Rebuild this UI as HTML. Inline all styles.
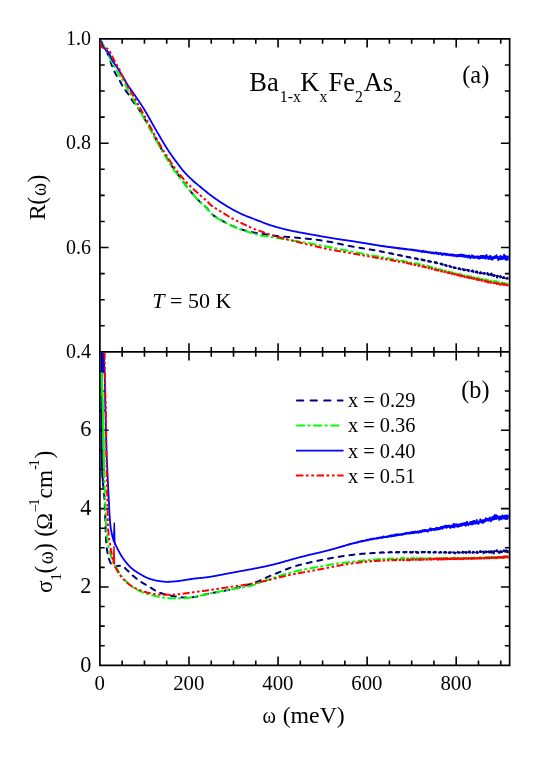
<!DOCTYPE html>
<html><head><meta charset="utf-8"><title>Optical spectra</title>
<style>html,body{margin:0;padding:0;background:#fff;}body{width:554px;height:783px;position:relative;overflow:hidden;font-family:"Liberation Serif",serif;}</style></head>
<body>
<svg width="554" height="783" viewBox="0 0 554 783" style="display:block;position:absolute;left:0;top:0;will-change:transform;opacity:0.999">
<rect width="554" height="783" fill="#fff"/>
<defs>
<clipPath id="ct"><rect x="100.75" y="39.7" width="408.05" height="311.34999999999997"/></clipPath>
<clipPath id="cb"><rect x="100.75" y="352.75" width="408.05" height="311.7"/></clipPath>
</defs>
<path d="M99.9,38.85 H509.65 V665.3 H99.9 Z M99.9,351.9 H509.65" fill="none" stroke="#000" stroke-width="1.7" stroke-linejoin="miter"/>
<path d="M122.17,38.85 v4.8 M122.17,347.09999999999997 v9.6 M122.17,665.3 v-4.8 M144.44,38.85 v4.8 M144.44,347.09999999999997 v9.6 M144.44,665.3 v-4.8 M166.71,38.85 v4.8 M166.71,347.09999999999997 v9.6 M166.71,665.3 v-4.8 M188.98,38.85 v8.7 M188.98,343.2 v17.4 M188.98,665.3 v-8.7 M211.25,38.85 v4.8 M211.25,347.09999999999997 v9.6 M211.25,665.3 v-4.8 M233.51,38.85 v4.8 M233.51,347.09999999999997 v9.6 M233.51,665.3 v-4.8 M255.78,38.85 v4.8 M255.78,347.09999999999997 v9.6 M255.78,665.3 v-4.8 M278.05,38.85 v8.7 M278.05,343.2 v17.4 M278.05,665.3 v-8.7 M300.32,38.85 v4.8 M300.32,347.09999999999997 v9.6 M300.32,665.3 v-4.8 M322.59,38.85 v4.8 M322.59,347.09999999999997 v9.6 M322.59,665.3 v-4.8 M344.86,38.85 v4.8 M344.86,347.09999999999997 v9.6 M344.86,665.3 v-4.8 M367.13,38.85 v8.7 M367.13,343.2 v17.4 M367.13,665.3 v-8.7 M389.40,38.85 v4.8 M389.40,347.09999999999997 v9.6 M389.40,665.3 v-4.8 M411.67,38.85 v4.8 M411.67,347.09999999999997 v9.6 M411.67,665.3 v-4.8 M433.94,38.85 v4.8 M433.94,347.09999999999997 v9.6 M433.94,665.3 v-4.8 M456.20,38.85 v8.7 M456.20,343.2 v17.4 M456.20,665.3 v-8.7 M478.47,38.85 v4.8 M478.47,347.09999999999997 v9.6 M478.47,665.3 v-4.8 M500.74,38.85 v4.8 M500.74,347.09999999999997 v9.6 M500.74,665.3 v-4.8 M99.9,64.94 h4.8 M509.65,64.94 h-4.8 M99.9,91.02 h4.8 M509.65,91.02 h-4.8 M99.9,117.11 h4.8 M509.65,117.11 h-4.8 M99.9,143.20 h8.7 M509.65,143.20 h-8.7 M99.9,169.29 h4.8 M509.65,169.29 h-4.8 M99.9,195.37 h4.8 M509.65,195.37 h-4.8 M99.9,221.46 h4.8 M509.65,221.46 h-4.8 M99.9,247.55 h8.7 M509.65,247.55 h-8.7 M99.9,273.64 h4.8 M509.65,273.64 h-4.8 M99.9,299.72 h4.8 M509.65,299.72 h-4.8 M99.9,325.81 h4.8 M509.65,325.81 h-4.8 M99.9,371.49 h4.8 M509.65,371.49 h-4.8 M99.9,391.07 h4.8 M509.65,391.07 h-4.8 M99.9,410.66 h4.8 M509.65,410.66 h-4.8 M99.9,430.25 h8.7 M509.65,430.25 h-8.7 M99.9,449.84 h4.8 M509.65,449.84 h-4.8 M99.9,469.42 h4.8 M509.65,469.42 h-4.8 M99.9,489.01 h4.8 M509.65,489.01 h-4.8 M99.9,508.60 h8.7 M509.65,508.60 h-8.7 M99.9,528.19 h4.8 M509.65,528.19 h-4.8 M99.9,547.77 h4.8 M509.65,547.77 h-4.8 M99.9,567.36 h4.8 M509.65,567.36 h-4.8 M99.9,586.95 h8.7 M509.65,586.95 h-8.7 M99.9,606.54 h4.8 M509.65,606.54 h-4.8 M99.9,626.12 h4.8 M509.65,626.12 h-4.8 M99.9,645.71 h4.8 M509.65,645.71 h-4.8" fill="none" stroke="#000" stroke-width="1.6" stroke-linecap="butt"/>
<g clip-path="url(#ct)">
<path d="M101.30,41.80l.33 .67 .34 .67 .37 .65 .4 .64 .4 .63 .4 .64 .4 .64 .36 .65 .35 .66 .35 .67 .33 .67 .33 .68 .32 .67 .33 .68 .33 .67 .33 .67 .34 .68 .33 .67 .32 .68 .31 .68 .3 .69 .29 .69 .29 .69 .27 .7 .27 .7 .26 .71 .24 .71 .21 .72 .19 .72 .19 .73 .2 .72 .24 .71 .24 .71 .24 .71 .26 .71 .26 .7 .27 .7 .28 .7 .28 .7 .29 .69 .29 .69 .31 .69 .31 .67 .32 .68 .35 .66 .35 .67 .37 .65 .37 .66 .37 .65 .38 .64 .4 .64 .41 .63 .41 .63 .41 .63 .4 .63 .4 .64 .37 .65 .36 .66 .35 .66 .33 .67 .34 .67 .34 .68 .35 .66 .35 .66 .38 .65 .39 .63 .4 .64 .41 .62 .42 .62 .43 .62 .43 .62 .43 .61 .43 .62 .43 .61 .44 .61 .45 .6 .45 .6 .46 .6 .45 .6 .44 .61 .43 .61 .41 .63 .39 .63 .39 .65 .37 .65 .37 .65 .38 .65 .39 .64 .41 .63 .43 .61 .43 .61 .45 .6 .45 .6 .45 .6 .46 .6 .46 .59 .46 .6 .45 .6 .45 .6 .44 .61 .43 .61 .43 .61 .43 .62 .42 .62 .42 .62 .42 .63 .41 .62 .41 .63 .4 .64 .39 .64 .39 .64 .38 .64 .38 .65 .37 .65 .37 .65 .37 .65 .37 .66 .37 .65 .37 .66 .36 .65 .37 .65 .37 .66 .37 .65 .37 .65 .37 .65 .37 .66 .37 .65 .37 .65 .37 .66 .37 .65 .36 .65 .37 .66 .36 .66 .36 .65 .36 .66 .36 .66 .36 .66 .35 .66 .36 .66 .35 .66 .36 .66 .36 .66 .36 .66 .36 .66 .36 .65 .36 .66 .36 .66 .36 .66 .37 .65 .36 .66 .37 .65 .36 .66 .37 .65 .37 .66 .36 .65 .37 .65 .37 .66 .37 .65 .37 .65 .37 .65 .37 .66 .37 .65 .38 .65 .37 .65 .38 .64 .38 .65 .38 .65 .38 .64 .39 .65 .38 .64 .39 .64 .38 .65 .39 .64 .39 .64 .39 .64 .39 .64 .39 .64 .39 .64 .39 .64 .39 .64 .4 .64 .39 .64 .39 .64 .4 .64 .4 .63 .4 .64 .4 .63 .4 .63 .41 .63 .41 .63 .41 .63 .42 .62 .42 .62 .42 .62 .42 .62 .43 .62 .43 .62 .43 .61 .43 .61 .45 .6 .45 .6 .45 .6 .46 .6 .45 .6 .45 .59 .45 .6 .46 .6 .45 .6 .45 .6 .44 .6 .45 .61 .44 .61 .44 .6 .43 .61 .44 .62 .43 .61 .44 .61 .44 .6 .44 .61 .45 .6 .44 .61 .45 .6 .44 .6 .45 .61 .45 .6 .45 .59 .46 .6 .46 .59 .46 .59 .46 .59 .47 .59 .47 .58 .48 .58 .47 .58 .48 .58 .48 .58 .49 .57 .49 .57 .48 .57 .5 .56 .49 .57 .5 .56 .5 .56 .5 .56 .51 .55 .51 .55 .51 .55 .52 .53 .53 .54 .53 .53 .53 .53 .54 .52 .54 .52 .54 .52 .55 .51 .55 .51 .56 .5 .57 .49 .58 .49 .57 .48 .57 .49 .56 .5 .54 .52 .52 .53 .49 .56 .47 .59 .46 .6 .45 .61 .45 .61 .45 .6 .47 .59 .49 .55 .52 .53 .54 .51 .56 .49 .58 .49 .58 .48 .6 .46 .61 .45 .61 .44 .62 .43 .61 .43 .63 .4 .63 .4 .64 .38 .66 .38 .65 .37 .66 .36 .66 .36 .66 .36 .66 .36 .66 .36 .66 .36 .66 .36 .66 .35 .66 .36 .67 .35 .66 .35 .67 .35 .67 .34 .67 .34 .67 .33 .67 .33 .68 .32 .68 .31 .68 .3 .69 .3 .69 .29 .69 .29 .69 .29 .7 .28 .7 .28 .7 .27 .7 .27 .71 .26 .71 .26 .7 .25 .72 .24 .71 .24 .71 .23 .72 .22 .71 .21 .72 .2 .72 .2 .72 .2 .73 .19 .73 .19 .72 .18 .73 .18 .74 .17 .73 .17 .73 .17 .74 .16 .73 .15 .74 .15 .73 .14 .74 .14 .74 .14 .73 .13 .74 .12 .74 .13 .74 .11 .74 .12 .74 .11 .75 .11 .74 .11 .74 .11 .75 .11 .74 .1 .74 .11 .75 .11 .74 .11 .74 .11 .74 .11 .74 .11 .74 .12 .75 .11 .74 .12 .74 .11 .74 .12 .74 .11 .75 .11 .74 .11 .74 .1 .74 .1 .75 .1 .74 .09 .75 .09 .74 .08 .75 .08 .74 .07 .75 .07 .74 .06 .75 .06 .75 .06 .75 .06 .75 .05 .74 .06 .75 .05 .75 .05 .75 .06 .75 .05 .75 .06 .74 .06 .75 .05 .75 .07 .75 .06 .74 .07 .75 .06 .75 .07 .75 .07 .74 .07 .75 .07 .75 .07 .74 .08 .75 .07 .75 .07 .74 .07 .75 .08 .74 .07 .75 .08 .75 .07 .74 .07 .75 .08 .75 .07 .74 .07 .75 .07 .75 .07 .74 .07 .75 .07 .75 .08 .75 .07 .74 .07 .75 .08 .74 .07 .75 .08 .75 .09 .74 .08 .75 .09 .74 .09 .74 .09 .75 .1 .74 .1 .74 .1 .74 .11 .75 .11 .74 .12 .74 .11 .74 .12 .74 .12 .74 .13 .74 .12 .74 .13 .74 .13 .74 .13 .74 .13 .73 .13 .74 .14 .74 .14 .73 .14 .74 .14 .73 .15 .74 .15 .73 .15 .74 .16 .73 .15 .73 .16 .74 .16 .73 .16 .73 .16 .74 .16 .73 .17 .18 .04 .1 .02 .1 .02 .1 .02 .1 .02 .1 .03 .1 .02 .1 .02 .1 .02 .1 .02 .1 .03 .1 .02 .1 .02 .1 .02 .1 .03 .1 .02 .1 .02 .1 .02 .1 .02 .1 .03 .1 .02 .1 .02 .1 .02 .1 .02 .1 .03 .1 .02 .1 .02 .1 .02 .1 .03 .1 .02 .1 .02 .1 .03 .1 .01 .1 .02 .1 .03 .1 .02 .1 .03 .1 .01 .1 .02 .1 .03 .1 .02 .1 .02 .1 .02 .1 .02 .1 .02 .1 .02 .1 .03 .1 .02 .1 .02 .1 .03 .1 .02 .1 .01 .1 .02 .1 .02 .1 .02 .1 .04 .1 .01 .1 .03 .1 .02 .1 .01 .1 .03 .1 .02 .1 .01 .1 .04 .1 .02 .1 .02 .1 .03 .1 .01 .1 .03 .1 .02 .1 .02 .1 .02 .1 .01 .1 .02 .1 .01 .1 .03 .1 .02 .1 .03 .1 .02 .1 .03 .1 .02 .1 .01 .1 .02 .1 .02 .1 .01 .1 .02 .1 .03 .1 .01 .1 .03 .1 .03 .1 .01 .1 .02 .1 .01 .1 .03 .1 .01 .1 .01 .1 .04 .1 .01 .1 .01 .1 .03 .1 .02 .1 .01 .1 .03 .1 .03 .1 .02 .1 .02 .1 .02 .1 .01 .1-.01 .1 .03 .1 .03 .1-.01 .1 .05 .1 .01 .1 0 .1 .02 .1 .01 .1 .03 .1 .03 .1 .02 .1 .01 .1 .03 .1 .01 .1 .03 .1 .01 .1 .01 .1 .02 .1 .03 .1 .01 .1 .03 .1 .02 .1 .01 .1 0 .1 .02 .1 .04 .1 0 .1 .04 .1 .01 .1 .03 .1 0 .1 .02 .1-.01 .1 .04 .1 .02 .1 .01 .1 .01 .1 .03 .1 .02 .1 .01 .1 .03 .1-0 .1 .05 .1-.01 .1 .02 .1 .03 .1-.01 .1 0 .1 .03 .1 .01 .1 .02 .1 .02 .1 .02 .1 .02 .1 .01 .1 .05 .1-.01 .1 .04 .1-0 .1 .05 .1 0 .1 .04 .1 .02 .1-0 .1-.01 .1 .02 .1 .02 .1 .03 .1 0 .1 .03 .1 .02 .1-0 .1 .03 .1 .01 .1 .03 .1 .01 .1 .01 .1-.01 .1 .04 .1 .01 .1 0 .1 .02 .1 0 .1 .03 .1 .03 .1 .02 .1 .02 .1 .05 .1 .02 .1-.02 .1 .03 .1-.01 .1 .03 .1 .02 .1 .03 .1 0 .1 0 .1 .05 .1 .03 .1-.01 .1 .02 .1 0 .1 .02 .1 .01 .1 0 .1 .04 .1 .05 .1-.02 .1 0 .1 .09 .1-0 .1 0 .1 .02 .1 0 .1 .05 .1 .01 .1-.01 .1 .01 .1 0 .1 .03 .1-.01 .1 .04 .1-.02 .1 .02 .1 .02 .1 .02 .1 .03 .1 .04 .1 .02 .1-.01 .1 .06 .1-0 .1 .04 .1-.01 .1 .01 .1 .04 .1 .01 .1-.01 .1 .03 .1 .01 .1 .02 .1-.01 .1 .02 .1 .03 .1 .02 .1-.01 .1-.01 .1 .07 .1-0 .1 .01 .1 .07 .1 .02 .1 .02 .1 .01 .1 .02 .1-.01 .1 .03 .1 .01 .1 .01 .1 .01 .1-.02 .1 .02 .1 .01 .1 .01 .1 0 .1-0 .1 .03 .1 .05 .1 .01 .1 .04 .1-.03 .1 .06 .1 .05 .1-.03 .1 .03 .1-.01 .1 .06 .1-.02 .1-.02 .1 .05 .1 .02 .1 .05 .1 .03 .1 .01 .1 0 .1 .02 .1 .01 .1 .02 .1-.04 .1 .07 .1 .01 .1 .03 .1 .01 .1 .02 .1 .03 .1 .01 .1 .01 .1-.01 .1 .02 .1 .03 .1-0 .1 .05 .1 .02 .1 0 .1 .03 .1 .06 .1 0 .1 .08 .1-.02 .1-.03 .1 .02 .1 .01 .1 .03 .1 .04 .1 .03 .1-.01 .1 .04 .1 0 .1 .04 .1-.07 .1 .07 .1-.01 .1-.02 .1 .05 .1-.01 .1 .06 .1 .1 .1-.02 .1 .03 .1-.03 .1-.07 .1 .04 .1-.02 .1 .05 .1 0 .1 .02 .1 .14 .1 .01 .1-0 .1-0 .1 .03 .1-.01 .1 .06 .1-.01 .1-0 .1-.01 .1 .03 .1 .04 .1 .02 .1 .07 .1 .01 .1 0 .1-.01 .1 .07 .1 .01 .1-.01 .1-.07 .1 .04 .1 .04 .1-.02 .1 .07 .1-.01 .1 .08 .1 .03 .1-.06 .1 .07 .1 .01 .1 0 .1 .01 .1 .09 .1-.02 .1 .05 .1-.04 .1-0 .1 .07 .1 .05 .1-.01 .1 .06 .1 .04 .1-.01 .1 .05 .1 .01 .1 .07 .1 .03 .1-.03 .1-.02 .1 0 .1 .03 .1 .06 .1-.04 .1 .09 .1-.06 .1 .06 .1 .07 .1 .04 .1-.05 .1 .03 .1 .06 .1-.05 .1-.11 .1 .1 .1 .12 .1-.06 .1 .12 .1-.05 .1 .12 .1-.09 .1 .05 .1 0 .1-.11 .1 .08 .1 .1 .1-.03 .1 .09 .1-.03 .1 .08 .1-.06 .1-.01 .1 .07 .1 .04 .1-.03 .1 .04 .1 .03 .1-.01 .1 0 .1 .09 .1-.01 .1 0 .1 .13 .1 .03 .1 .03 .1 .02 .1 .02 .1 .04 .1 0 .1-.04 .1 .01 .1 .05 .1-0 .1 .02 .1-.06 .1 .1 .1 .05 .1-0 .1-.01 .1 .05 .1-.08 .1 .04 .1 .11 .1-.13 .1 .05 .1 .11 .1-.02 .1 .03 .1 .01 .1 .12 .1-.08 .1 .03 .1-.04 .1 .13 .1 .01 .1 .05 .1 .08 .1-.04 .1-.06 .1 .01 .1 .03 .1 .05 .1-.07 .1 .07 .1 .04 .1 .06 .1-.03 .1 .06 .1 .03 .1-.02 .1 .01 .1 .05 .1 .03 .1 .04 .1-.07 .1 .13 .1-.02 .1-0 .1 .06 .1 .01 .1 .06 .1 .06 .1-.12 .1 .06 .1 .1 .1-.02 .1 .07 .1-.06 .1 .08 .1-.08 .1 .1 .1 .1 .1 .05 .1 .04 .1-.05 .1-.01 .1 .04 .1-.05 .1 .13 .1-.02 .1-.11 .1 .11 .1-.12 .1 .13 .1-.02 .1 .01 .1 .14 .1-.08 .1 .09 .1-.1 .1 .03 .1-.01 .1 .07 .1 .01 .1 .11 .1 .04 .1 .03 .1 .04 .1 .14 .1-.07 .1 .03 .1 .05 .1-.05 .1-.08 .1 .05 .1 .01 .1-.01 .1 .07 .1-.04 .1 .06 .1-.01 .1 .16 .1-.06 .1 .06 .1 .01 .1 .04 .1-.02 .1 .06 .1-.01 .1-.1 .1 .15 .1-.05 .1 .12 .1-.02 .1-.02 .1-.1 .1 .03 .1 .07 .1 .09 .1 0 .1 .21 .1-.02 .1-.01 .1-.03 .1 .05 .1 .03 .1-0 .1 .02 .1 .05 .1-.13 .1 .1 .1 .08 .1-.1 .1 .09 .1 .02 .1-.01 .1 .13 .1-.04 .1 .1 .1-.01 .1-.01 .1 .06 .1-.01 .1-.04 .1 .18 .1-.05 .1 .05 .1-.14 .1 .16 .1 .01 .1-.02 .1-.08 .1 .14 .1-.02 .1 .03 .1 .01 .1-.04 .1 .04 .1 .02 .1 .08 .1-.08 .1 .14 .1-.17 .1 .08 .1 .11 .1-.12 .1 .15 .1 .03 .1-.01 .1 .07 .1 .14 .1-.07 .1 .06 .1 .02 .1 .07 .1-.17 .1 .04 .1 .02 .1 .06 .1 .06 .1 .01 .1-.05 .1 .11 .1-.09 .1 .06 .1-.05 .1 .13 .1-.06 .1 .15 .1 .02 .1 .1 .1-.08 .1-0 .1 .16 .1-.02 .1-.03 .1-.03 .1 .14 .1-.17 .1 .07 .1 .08 .1-.1 .1 .02 .1 .04 .1 .03 .1 .06 .1 .01 .1-.05 .1-.06 .1 .05 .1-.03 .1 .06 .1 .08 .1-0 .1-.07 .1 .08 .1 .03 .1 .01 .1 .16 .1 0 .1 .03 .1-.08 .1-.07 .1 .13 .1 .14 .1-.06 .1 .05 .1 .03 .1 .08 .1 .01 .1 .14 .1-.09 .1 .01 .1 .14 .1-.03 .1 .01 .1 0 .1-.02 .1 .03 .1 .05 .1-0 .1-.1 .1 .24 .1-.11 .1-.03 .1-0 .1-.05 .1-.03 .1 .06 .1 .07 .1-.07 .1 .06 .1-.09 .1 .2 .1-.08 .1 .18 .1-.04 .1 .08 .1 .02 .1 .07 .1 .13 .1-.03 .1 .02 .1 .07 .1-.17 .1 0 .1 .01 .1-.05 .1 .02 .1 .01 .1 .07 .1-.07 .1 .09 .1 .05 .1 .15 .1-.11 .1 .13 .1 .09 .1 .03 .1-.08 .1-.06 .1-.1 .1 .06 .1-.01 .1-.03 .1 .23 .1 .01 .1 .04 .1-0 .1 .06 .1-.07 .1 .05 .1-.09 .1 .18 .1-.14 .1 .11 .1 .28 .1-.02 .1 .05 .1-.17 .1 .12 .1 .03 .1 0 .1-.07 .1 .13 .1-.07 .1-.09 .1 .34 .1-.11 .1 .14 .1-.08 .1-.06 .1 .1 .1-.04 .1-.16 .1 .06 .1-.11 .1-.04 .1 .26 .1-.16 .1 .23 .1 .1 .1 .03 .1 .18 .1-.08 .1-.05 .1-.07 .1-.01 .1-.06 .1-0 .1 .16 .1 .08 .1 .35 .1-.1 .1-.19 .1 .07 .1-.22 .1 .1 .1 .14 .1-.14 .1 .09 .1-.14 .1 .09 .1 .04 .1-.17 .1 .16 .1 .27 .1-.2 .1 .19 .1 .07 .1-.12 .1 .11 .1-.03 .1-.06 .1 .12 .1 .01 .1-.11 .1 .05 .1-.06 .1 .09 .1 .06 .1-.02 .1-.02 .1 .26 .1 .11 .1-.26 .1 .02 .1-.14 .1-.24 .1 .4 .1-.08 .1-.08 .1 .3 .1 .02 .1 .09 .1-.03 .1 .01 .1 .1 .1-.09 .1 .12 .1-.04 .1 .08 .1 .19 .1-.08 .1-.24 .1 .08 .1-.03 .1-.21 .1 .15 .1 .25 .1-.16 .1 .19 .1 .02 .1-.06 .1-0 .1 .03 .1-.01 .1 .02 .1-.11 .1 .19 .1-.06 .1 .26 .1 .13 .1-.04 .1-.24 .1 .32 .1-.07 .1-.09 .1 0 .1 .22 .1-.1 .1 .1 .1 .06 .1 .14 .1-.33 .1 .32 .1-.23 .1 0 .1 .06 .1 .02 .1-.2 .1 .31 .1-.02 .1-.03 .1 .08 .1-.04 .1 .27 .1 .11 .1-.18 .1 .02 .1-.08 .1 .09 .1-.03 .1 .08 .1 .14 .1-.08 .1-.02 .1-.12 .1 .24 .1-.09 .1 .05 .1 .17 .1-.12 .1 .2 .1-.26 .1-.09 .1 .21 .1-.08 .1 .28 .1 .19 .1-.13 .1-.06 .1 .12 .1-.24 .1 .11 .1-.07 .1 .09 .1-.1 .1 .15 .1 .02 .1 .15 .1-.17 .1 .11 .1-.19 .1 .14 .1 .14 .1-.12 .1 .17 .1-.04 .1 .19 .1 .06 .1-.06 .1 .17 .1-.16 .1 .03 .1-0 .1-.04 .1-.01 .1 .13 .1-.24 .1 .07 .1-.17 .1 .35 .1-.17 .1 .11 .1 .07 .1 .11 .1-.1 .1-.03 .1 .01 .1-.08 .1 .03 .1-.12 .1 .04 .1-.08 .1 .28 .1 .12 .1 .08 .1 .08 .1 0 .1 .11 .1-.26 .1-.13 .1 .13 .1 .33 .1-.06 .1 .23 .1-.19 .1 .28 .1 .01 .1-.13 .1-.14 .1 .03 .1-.23 .1 .21 .1-.4 .1 0 .1 .04 .1 .05 .1 .45 .1 .01 .1-.02 .1 .37 .1-.02 .1-.19 .1 .25 .1-.02 .1-.13 .1 .07 .1 .19 .1 .18 .1 .09 .1-.03 .1-.27 .1-.18 .1-.01 .1 .42 .1-.04 .1 .03 .1-.14 .1 .04 .1 .08 .1 .04 .1-.02 .1-.1 .1-.07 .1 .18 .1-.05 .1 .19 .1-.32 .1-.08 .1 .05 .1 .3 .1 .27 .1-.31 .1-.08 .1 .11 .1 .12 .1-.03 .1 .08 .1 .11 .1-.06 .1 .16 .1 .01 .1 .16 .1-.58 .1 .19 .1 .13 .1-.04 .1 .06 .1 .02 .1-.06 .1 .28 .1 .19 .1-.15 .1 .19 .1 .15 .1-.21 .1 .11 .1-.13 .1 .45 .1-.04 .1-.34 .1 .26 .1-.23 .1-.34 .1 .5 .1 .13 .1 .21 .1 .19 .1-.26 .1 .14 .1-.21 .1 .14 .1-.3 .1-.26 .1 .75 .1-.11 .1-.26 .1 .22 .1 0 .1 .3 .1-.2 .1 .28 .1-.26 .1 .22 .1-.25 .1-.1 .1 .3 .1-.1 .1 .14 .1-.31 .1 .16 .1 .22 .1 .47 .1-.14 .1-.22 .1-.24 .1 .77 .1-.26 .1-.27 .1 .35 .1-.01 .1 .21 .1-.31 .1-.1 .1 .12 .1-.43 .1 .05 .1-.17 .1 .06 .1-.03 .1 .05 .1 .14 .1 .33 .1 .07 .1 .11 .1 .21 .1 .18 .1 .01 .1 .24 .1-.32 .1-.01 .1-.17 .1 .23 .1 .03 .1-.77 .1 .6 .1-.32 .1 .29 .1-0 .1-.19 .1 .03 .1 .23 .1 .54 .1-.61 .1 .18 .1 .09 .1 .08 .1 .32 .1 .25 .1-.29 .1 .1 .1-.12 .1 .34 .1-.27 .1 .16 .1-.09 .1 .29 .1-.15 .1-.07 .1 .41 .1-.76 .1 .3 .1-.17 .1-.07 .1 .66 .1-.18 .1-.01 .1 .05 .1 .16 .1-.12 .1-.1 .1-.14 .1 .38 .1-.2 .1-.03 .1-.16 .1 .12 .1 .42 .1-.12 .1 .4 .1 0 .1 .13 .1-.08 .1-.22 .1-.04 .1-.03 .1 .14 .1 .34 .1-.27 .1-.4 .1 .68 .1-.42 .1-.09 .1 .17 .1-.01 .1 .07 .1-.04 .1 .02 .1 .25 .1 .16 .1-.16 .1 .42 .1 .02 .1 .19 .1-.17 .1 0 .1 .13 .1-.32 .1 .19 .1-.25 .1 .38 .1-.16 .1 .06 .1-.19 .1-.09 .1 .32 .1-.28 .1 .08 .1 .12 .1 .16 .1-.01 .1-.14 .1-.04 .1 .35 .1-.31 .1-.03 .1-.12 .1 .4 .1-.03 .1-.14 .1-.18 .1 .71 .1-.45 .1-.1 .1 .15 .1-.11 .1 .22 .1-.11 .1-.12 .1 .37 .1-.18 .1-.08 .1 .55 .1-.06 .1-.03 .1-.09 .1 .22 .1 .04 .1 .05 .1-.01 .1 .35 .1-.05 .1-.15 .1-.05 .1-.38 .1-.38 .1 .21 .1-.02 .1-.15 .1 .25 .1 .26 .1 .13 .1 .48 .1-.38 .1 .44 .1 0 .1-.36 .1-.08 .1-.22 .1 .3 .1-.22 .1-.31 .1 .15 .1 .33 .1-.14 .1 .23 .1 .06 .1 .33 .1-.22 .1 .33 .1 .07 .1 .06 .1-.31 .1 .15 .1 .48 .1-.56 .1-.08 .1 .14 .1-.26 .1 .05 .1 .06 .1 .01 .1 .23 .1-.45 .1 .19 .1 .11 .1-.1 .1 .22 .1 .35 .1-.61 .1 .12 .1 .14 .1 .06 .1-.04 .1 .16 .1 .23 .1 .11 .1-.56 .1-.44 .1 .71 .1-.35 .1-.13 .1 .35 .1-.21 .1 .01 .1-.09 .1 .41 .1 .04 .1-.3 .1 .11 .1 .42 .1-.36 .1 .12 .1-.03 .1 .16 .1 .33 .1-.02 .1 .34 .1 .07 .1-.4 .1 .19 .1-.22 .1-.56 .1 .29 .1-.22 .1 .05 .1 .35 .1 .24 .1 .09 .1-.28 .1 .08 .1 .51 .1-.81 .1 .3 .1 .04 .1 .35 .1-.14 .1-.04 .1-.02 .1 .42 .1-.16 .1 .06 .1 .1 .1 .12 .1-.12 .1 .06 .1 .12 .1-.39 .1 .02 .1-.01 .1 .06 .1-.07 .1-.23 .1-.12 .1 .13 .1-.04 .1 .27 .1-.09 .1-.16 .1-.28 .1-.01 .1 .41 .1 .21 .1 .06 .1-.03 .1 .28 .1-.43 .1 .78 .1 .18 .1-.27 .1-.07 .1-.18 .1 .16 .1-.48 .1 .16 .1 .3 .1-.31 .1 .5 .1 .05 .1-.09 .1-.08 .1 .5 .1-.47 .1 .15 .1 .14 .1-.18 .1 .23 .1-.2 .1 .12 .1 .01 .1 .22 .1-.22 .1 .27 .1-.03 .1-.52 .1-.16 .1-.01 .1 .08 .1 .3 .1-.17 .1 .37 .1-.08 .1-.68 .1 .24 .1 .02 .1 .5 .1-.02 .1 .2 .1-.22 .1 .79 .1-.76 .1 .18 .1-.29 .1-.06 .1 .23 .1-.23 .1 .37 .1-.01 .1-.08 .1 .23 .1 .2 .1 .1 .1-.4 .1 .4 .1-.04 .1-.38 .1-.1 .1 .26 .1 .08 .1 .08 .1 .49 .1 .09 .1 .25 .1-.53 .1 .25 .1-.73 .1 .24 .1 .46 .1-.67 .1 .12 .1-.11 .1 .16 .1 .16 .1 .12 .1-.39 .1 .12 .1 .27 .1 .2 .1-.18 .1 .52 .1-.64 .1 .24 .1-.53 .1 .07 .1-.23 .1 .66 .1 .03 .1-.15 .1-.08 .1-.43 .1 .12 .1 .51 .1 .19 .1 .02 .1-.26 .1 .02 .1 .35 .1 .44 .1-.34 .1-.18 .1-.01 .1 .13 .1-.02 .1-.37 .1 .76 .1-.22 .1 .08 .1-.24 .1 .33 .1-.06 .1-.45 .1 .38 .1-.38 .1-.24 .1 .69 .1-.41 .1 .19 .1 .03 .1 .34 .1 .06 .1 .25 .1 .05 .1 .26 .1-.32 .1-.02 .1-.05 .1 .02 .1-.05 .1-.22 .1-.42 .1 .24 .1 .5 .1 .04 .1 .17 .1-.07 .1-.33 .1 .18 .1-.35 .1-.79 .1 .55 .1 .13 .1 .08 .1 .56 .1-.05 .1 0 .1-.17 .1 .53 .1-.11 .1 .05 .1-.2 .1 .6 .1-1.13 .1 .44 .1-.12 .1 .04 .1 .02 .1 .08 .1 .03 .1 .11 .1 .28 .1-.22 .1-.08 .1 .03 .1 .24 .1 .21 .1-.3 .1 .61 .1-.51 .1 .19 .1-.91 .1 .71 .1-.08 .1 .54 .1-.02 .1-.1 .1-.18 .1-.51 .1-.41 .1 .28 .1-.61 .1 .48 .1 .12 .1 .35 .1 .44 .1 .26 .1-.56 .1 .38 .1-.78 .1 .32 .1 .16 .1 .58 .1 .35 .1-.81 .1 .65 .1 .43 .1-.43 .1 .45 .1-.12 .1-.22 .1-.44 .1 .23 .1 .62 .1-.74 .1-.13 .1 .1 .1 .39 .1-.31 .1-.35 .1 .34 .1 .46 .1 .23 .1 .06 .1-.33 .1-.05 .1-.45 .1 .13 .1-.15 .1 .41 .1 .23 .1-.03 .1-.29 .1 .42 .1 .09 .1 .08 .1-.98 .1-.12 .1 .34 .1 .41 .1 .1 .1 .2 .1 .08 .1 .34 .1 .15 .1-.03 .1-.18 .1 1.1 .1-1.06 .1 .14 .1-.24 .1-.13 .1-.5 .1 .06 .1 .33 .1-.46 .1 .31 .1 .17 .1 .49 .1-.44 .1 .26 .1-.09 .1-.02 .1-.01 .1-.35 .1 .29 .1-.15 .1 .38 .1 0 .1 .11 .1-.17 .1-.3 .1 .62 .1-.31 .1-.34 .1-.07 .1 .74 .1-.63 .1 .82 .1 .35 .1-.19 .1 .12 .1-.1 .1-.38 .1 .22 .1-.66 .1 .66 .1-.07 .1-.23 .1 .2 .1-.34 .1-.3 .1 1.1 .1-.23 .1-.05 .1 .09 .1 .11 .1 .23 .1-.38 .1 .52 .1 .03 .1 .46 .1-.13 .1 .46 .1-.65 .1 .19 .1-.39 .1 .23 .1-.33 .1 .14 .1-.51 .1-.09 .1 .13 .1-.21 .1 .34 .1 .58 .1-.62 .1 .28 .1 .32 .1 .61 .1 .29 .1-.71 .1-.1 .1 .1 .1-.41 .1-.55 .1 .76 .1-.02 .1 .01 .1 .12 .1-.07 .1-.1 .1 .55 .1-.06 .1 .22 .1-.33 .1 .33 .1-.07 .1-.29 .1 0 .1 .16 .1 .18 .1-.15 .1-.1 .1 .36 .1-.46 .1 .42 .1-.43 .1 .15 .1 .41 .1-1.03 .1 .28 .1 .26 .1 .15 .1-.15 .1 .06 .1 .17 .1-.04 .1 .38 .1-.2 .1 .2 .1 .11 .1 .22 .1-.4 .1 .07 .1 .27 .1-.8 .1 .79 .1-.19 .1 .65 .1-.3 .1-.12 .1 .61 .1-.49 .1-.09" fill="none" stroke="#000080" stroke-width="2.0" stroke-linejoin="round" stroke-linecap="round" stroke-dasharray="5.04 5.84" stroke-dashoffset="0"/>
<path d="M101.30,41.80l.33 .67 .34 .67 .37 .65 .4 .64 .4 .63 .4 .64 .4 .64 .36 .65 .35 .66 .34 .67 .33 .67 .33 .68 .33 .68 .33 .67 .34 .67 .34 .66 .34 .67 .35 .67 .34 .66 .34 .67 .34 .67 .33 .68 .32 .67 .33 .68 .32 .68 .32 .67 .33 .68 .32 .68 .33 .67 .33 .67 .34 .68 .33 .67 .33 .67 .34 .67 .34 .67 .34 .67 .36 .66 .35 .66 .37 .65 .38 .64 .39 .65 .39 .64 .39 .64 .39 .64 .39 .64 .39 .64 .39 .64 .39 .64 .4 .64 .4 .63 .4 .64 .41 .62 .42 .62 .43 .62 .43 .62 .42 .62 .42 .62 .4 .63 .4 .64 .4 .63 .39 .64 .38 .65 .39 .64 .37 .65 .37 .66 .36 .65 .36 .66 .33 .67 .33 .68 .33 .68 .32 .67 .34 .67 .35 .66 .37 .66 .37 .64 .38 .65 .39 .64 .39 .64 .39 .65 .39 .64 .38 .64 .38 .65 .37 .65 .37 .66 .36 .66 .36 .65 .36 .66 .35 .66 .37 .66 .36 .66 .37 .65 .36 .65 .37 .66 .37 .65 .37 .66 .37 .65 .36 .65 .37 .65 .38 .66 .37 .65 .37 .65 .37 .65 .37 .65 .37 .65 .38 .65 .37 .65 .37 .66 .37 .65 .37 .65 .37 .65 .37 .66 .37 .65 .36 .65 .37 .66 .37 .65 .36 .66 .37 .65 .37 .66 .36 .65 .37 .66 .36 .65 .37 .66 .37 .65 .36 .65 .37 .66 .36 .65 .37 .66 .36 .65 .37 .66 .36 .66 .37 .65 .36 .66 .36 .66 .36 .65 .36 .66 .36 .66 .35 .66 .36 .66 .35 .66 .36 .66 .36 .66 .35 .66 .36 .66 .36 .66 .36 .66 .35 .66 .36 .66 .36 .66 .36 .66 .36 .65 .36 .66 .36 .66 .36 .66 .37 .65 .36 .66 .36 .65 .37 .66 .36 .65 .37 .66 .37 .65 .37 .66 .37 .65 .37 .65 .37 .65 .37 .65 .38 .65 .37 .65 .38 .65 .38 .65 .38 .64 .38 .65 .38 .65 .38 .64 .39 .64 .38 .65 .39 .64 .39 .64 .39 .64 .39 .64 .39 .64 .39 .64 .39 .64 .4 .64 .39 .64 .4 .64 .4 .63 .4 .64 .4 .63 .41 .63 .41 .62 .41 .63 .42 .63 .41 .62 .42 .62 .42 .62 .43 .62 .42 .62 .44 .61 .43 .61 .44 .61 .45 .6 .45 .6 .45 .6 .46 .6 .45 .59 .45 .6 .45 .6 .45 .6 .45 .6 .45 .6 .45 .6 .45 .6 .45 .61 .45 .6 .45 .6 .45 .6 .45 .6 .45 .6 .45 .59 .46 .6 .45 .6 .46 .59 .45 .6 .46 .6 .46 .59 .46 .59 .46 .59 .47 .58 .47 .59 .48 .58 .48 .57 .48 .58 .48 .57 .49 .57 .49 .57 .49 .57 .5 .56 .49 .56 .5 .56 .51 .56 .51 .55 .51 .55 .51 .55 .52 .54 .51 .54 .53 .54 .52 .54 .52 .53 .53 .54 .54 .53 .53 .52 .54 .53 .54 .52 .54 .51 .55 .52 .55 .51 .57 .49 .57 .49 .58 .48 .58 .48 .56 .5 .56 .5 .52 .52 .5 .55 .48 .58 .45 .6 .44 .62 .44 .62 .44 .62 .44 .61 .47 .58 .48 .56 .52 .53 .54 .51 .56 .49 .57 .49 .59 .47 .61 .46 .61 .45 .61 .44 .62 .43 .61 .42 .63 .4 .64 .4 .64 .38 .65 .38 .66 .36 .66 .37 .66 .36 .66 .36 .66 .35 .66 .36 .66 .36 .66 .35 .66 .36 .67 .35 .66 .35 .67 .35 .66 .34 .67 .34 .67 .34 .68 .33 .67 .32 .68 .33 .68 .31 .68 .31 .68 .31 .69 .3 .68 .3 .69 .3 .69 .29 .7 .29 .69 .29 .7 .28 .7 .28 .7 .27 .7 .27 .7 .26 .7 .26 .71 .26 .71 .24 .7 .25 .71 .23 .72 .23 .71 .22 .72 .22 .72 .21 .72 .21 .72 .21 .72 .2 .73 .2 .72 .2 .72 .21 .73 .2 .72 .2 .72 .21 .72 .21 .72 .22 .72 .23 .71 .23 .72 .24 .72 .22 .72 .21 .72 .18 .73 .16 .73 .13 .74 .11 .75 .1 .74 .1 .75 .09 .74 .09 .75 .09 .74 .11 .75 .11 .74 .11 .74 .11 .74 .12 .74 .11 .74 .12 .74 .11 .74 .12 .74 .12 .75 .12 .74 .12 .74 .12 .74 .11 .74 .12 .74 .12 .74 .12 .74 .12 .74 .13 .74 .12 .74 .12 .74 .12 .74 .13 .74 .12 .74 .12 .74 .13 .74 .12 .74 .13 .74 .12 .74 .13 .74 .12 .74 .13 .74 .12 .74 .12 .74 .12 .74 .12 .74 .12 .74 .12 .74 .11 .74 .12 .74 .11 .74 .12 .74 .11 .74 .12 .75 .11 .74 .12 .74 .12 .74 .11 .74 .12 .74 .12 .74 .13 .74 .12 .74 .13 .74 .12 .74 .13 .73 .13 .74 .13 .74 .14 .74 .13 .74 .13 .74 .14 .73 .13 .74 .14 .74 .14 .74 .13 .73 .14 .74 .14 .74 .13 .74 .14 .73 .14 .74 .14 .74 .13 .73 .14 .74 .14 .74 .14 .74 .14 .73 .14 .74 .14 .74 .14 .73 .14 .74 .14 .74 .14 .73 .15 .74 .14 .74 .14 .73 .15 .74 .14 .73 .14 .74 .15 .74 .14 .73 .15 .74 .15 .73 .14 .74 .15 .73 .15 .74 .15 .73 .15 .74 .15 .73 .14 .74 .15 .73 .15 .2 .04 .1 .02 .1 .02 .1 .02 .1 .02 .1 .02 .1 .02 .1 .02 .1 .02 .1 .02 .1 .02 .1 .02 .1 .02 .1 .02 .1 .02 .1 .02 .1 .02 .1 .03 .1 .01 .1 .03 .1 .02 .1 .02 .1 .01 .1 .03 .1 .01 .1 .03 .1 .01 .1 .03 .1 .01 .1 .03 .1 .02 .1 .01 .1 .02 .1 .03 .1 .02 .1 .02 .1 .02 .1 .02 .1 .02 .1 .02 .1 .02 .1 .02 .1 .02 .1 .01 .1 .03 .1 .01 .1 .02 .1 .03 .1 .02 .1 .03 .1 .02 .1 .01 .1 .02 .1 .01 .1 .02 .1 .02 .1 .02 .1 .01 .1 .03 .1 .01 .1 .04 .1 .03 .1 .02 .1 .01 .1 .02 .1 .02 .1 .02 .1 .02 .1 .01 .1 .03 .1 .02 .1 .03 .1 .01 .1 .02 .1 .02 .1 .03 .1 .02 .1 .01 .1 .02 .1 .02 .1 .02 .1 .02 .1 .02 .1 .01 .1 .03 .1 .03 .1 .01 .1 .02 .1 .01 .1 .02 .1 .02 .1 .03 .1 .01 .1 .03 .1 .01 .1 .03 .1 .01 .1 .02 .1 0 .1 .03 .1 .02 .1 .05 .1 .02 .1 .01 .1 .02 .1 0 .1 .02 .1 .01 .1 .01 .1 .04 .1 .01 .1 .04 .1 .01 .1 .02 .1 .03 .1 .01 .1 .01 .1 .04 .1 .01 .1 .04 .1-.01 .1 .03 .1-0 .1 .03 .1 .04 .1 0 .1 .02 .1 .03 .1 .02 .1 .02 .1 .04 .1 0 .1 .01 .1 0 .1-.01 .1 .01 .1 .06 .1 .03 .1 .02 .1 .02 .1 .03 .1 .02 .1 .02 .1 .02 .1 .01 .1 .02 .1 .03 .1 0 .1 .05 .1 .01 .1 .02 .1 .04 .1 .01 .1 .01 .1 .01 .1 .01 .1 .02 .1 .03 .1 .01 .1 0 .1 .03 .1 .01 .1 .04 .1 .01 .1 .01 .1 .01 .1 .02 .1 .03 .1 .03 .1 .02 .1 .02 .1 .03 .1 .02 .1-.03 .1 .03 .1 .01 .1 .04 .1 .01 .1 .04 .1 .01 .1 .02 .1 .03 .1 .04 .1 .05 .1-0 .1 .03 .1-.01 .1 .04 .1 .01 .1-.01 .1 .02 .1 .03 .1 .02 .1-.03 .1 .07 .1 .03 .1-0 .1 0 .1 .05 .1 0 .1 .01 .1 .02 .1-.01 .1 .03 .1 .01 .1 .02 .1 .03 .1 .02 .1 .07 .1 0 .1 .04 .1-.03 .1 .03 .1 .01 .1 .01 .1 .01 .1 .01 .1 .03 .1 .06 .1 .05 .1 .02 .1-.03 .1 0 .1 .03 .1 .01 .1 .05 .1-0 .1 .02 .1 .05 .1-0 .1 .01 .1 .03 .1 0 .1 0 .1 .05 .1 .03 .1 .04 .1 .02 .1 .05 .1-0 .1 .01 .1 .04 .1-.02 .1 .04 .1 .01 .1-0 .1 .01 .1-.01 .1 .04 .1-.01 .1 .01 .1 .03 .1 .01 .1 .04 .1 .03 .1 .03 .1 .02 .1 .03 .1-.01 .1 .03 .1 .04 .1 .03 .1-0 .1-.01 .1 .01 .1 .02 .1 .06 .1-.01 .1 .04 .1 .04 .1 .02 .1 0 .1 .08 .1-.01 .1 .02 .1 .02 .1-.01 .1 .03 .1-0 .1-0 .1 .01 .1 .05 .1 .01 .1 .01 .1 .02 .1 .04 .1 .04 .1 .04 .1-.02 .1 .02 .1-.03 .1 .03 .1 .03 .1 .02 .1 .06 .1-.03 .1 .08 .1 .01 .1 .04 .1-.04 .1 .03 .1 .04 .1 .02 .1-.01 .1 .05 .1 .01 .1 .04 .1 .01 .1 .02 .1-.01 .1 .02 .1 .02 .1-.03 .1 .04 .1 .02 .1 .01 .1 0 .1 .06 .1 .02 .1 .04 .1-.05 .1 .05 .1 .07 .1-.01 .1-.01 .1 .01 .1 .02 .1-0 .1 .03 .1 .03 .1 0 .1 .05 .1 .03 .1-.01 .1 .05 .1-0 .1 .06 .1 .01 .1-.02 .1 .01 .1 .01 .1 0 .1-.01 .1 .06 .1 0 .1 .03 .1 .1 .1 .01 .1 .03 .1 0 .1-.01 .1 .04 .1-0 .1 .06 .1-.07 .1 .09 .1 0 .1 .06 .1 .04 .1-.02 .1 .05 .1-.01 .1-.06 .1 .09 .1-.06 .1 .03 .1 .09 .1-.01 .1 .06 .1 0 .1-.01 .1 .08 .1 .01 .1-.02 .1 .06 .1-.02 .1 .03 .1 0 .1-.01 .1 .04 .1 0 .1 .05 .1 .01 .1 0 .1 .07 .1-.01 .1 .06 .1-.05 .1 .02 .1 .01 .1 .04 .1 .01 .1 .03 .1 .08 .1-0 .1-.02 .1 .07 .1 .01 .1 .03 .1 .04 .1 .03 .1 .02 .1 .02 .1-.02 .1-.01 .1 .04 .1 .01 .1 .01 .1-.01 .1 .05 .1-.04 .1 .11 .1-0 .1 .01 .1-.04 .1 .05 .1 .04 .1-.04 .1-.01 .1 .06 .1-.04 .1 .13 .1 .01 .1-.02 .1 .09 .1 .05 .1 .02 .1 .01 .1 .01 .1-.06 .1 .02 .1-.06 .1 .02 .1 .05 .1 .02 .1 .08 .1-0 .1 .05 .1 .02 .1 .06 .1 .02 .1-.06 .1 .03 .1 .01 .1-.01 .1 .1 .1 0 .1-.02 .1-.02 .1 .05 .1 .05 .1 .07 .1-.07 .1 .11 .1-.06 .1 .08 .1-.02 .1 .05 .1-.04 .1 .11 .1-.01 .1-.03 .1-.03 .1 .09 .1 .02 .1-.03 .1 .09 .1 0 .1-.03 .1 .02 .1-.05 .1 .1 .1 .03 .1-.02 .1-.01 .1 .03 .1 .05 .1-.01 .1 .05 .1-.03 .1 .07 .1 .03 .1-.05 .1 .02 .1-.06 .1 .12 .1 .02 .1-.03 .1 .08 .1-.05 .1-0 .1 .1 .1 .02 .1-.06 .1 .08 .1 0 .1 .07 .1 .04 .1 0 .1 .04 .1 .02 .1-.04 .1-.03 .1 .01 .1 .08 .1 .06 .1-.05 .1 .05 .1-.02 .1 .03 .1 .07 .1-.03 .1 .05 .1 .01 .1 .05 .1-.02 .1-0 .1 .01 .1 .02 .1 .08 .1 .07 .1-.1 .1 .1 .1-.06 .1 .02 .1 .02 .1 0 .1 .01 .1-.01 .1 .09 .1-.12 .1 .05 .1 .01 .1 .06 .1-.04 .1 .08 .1 .04 .1 .11 .1-.01 .1 .02 .1 .02 .1 .08 .1-.05 .1-.01 .1 .02 .1 .04 .1 .07 .1-.05 .1 .04 .1 .03 .1-.03 .1 .07 .1-.03 .1 .05 .1 .02 .1 .05 .1 .03 .1-.08 .1-.03 .1 .01 .1 .06 .1-.01 .1 .01 .1 .05 .1 .12 .1 .03 .1 .03 .1 .01 .1-.1 .1 .1 .1 .02 .1-.06 .1 .02 .1 .11 .1-.02 .1 .06 .1 .02 .1-.05 .1 .03 .1-.12 .1-.01 .1 .15 .1 .02 .1 .01 .1 0 .1 .05 .1 .05 .1-.04 .1 .09 .1-.03 .1 .13 .1-.06 .1 .01 .1 .04 .1 .02 .1 .01 .1-.05 .1 .05 .1 .06 .1 .01 .1 .04 .1 .01 .1 .07 .1 .07 .1-.1 .1 .01 .1 .02 .1 .01 .1 .13 .1 .04 .1-.04 .1-0 .1 .06 .1-0 .1-.14 .1 .11 .1 .12 .1-.12 .1 0 .1 .02 .1 .11 .1-.07 .1 .06 .1 .06 .1-.02 .1 .02 .1-.03 .1 .01 .1 .12 .1-.09 .1 .13 .1 .04 .1 .03 .1-.05 .1 0 .1 .08 .1 .08 .1-0 .1 .03 .1-.03 .1 .06 .1-.13 .1 .04 .1 .13 .1-.04 .1 .02 .1-.11 .1 .06 .1 .04 .1 .04 .1 .08 .1-.06 .1 .07 .1 .01 .1 .07 .1 .07 .1 .05 .1 .03 .1-.1 .1 .1 .1-.02 .1-.05 .1 .12 .1-.07 .1 .04 .1 .06 .1 .06 .1-.07 .1 .11 .1-.03 .1-.03 .1 .09 .1-.01 .1-.01 .1 .05 .1 .08 .1-.03 .1-.02 .1 .07 .1-.09 .1 .14 .1 .07 .1-.09 .1 .04 .1 .02 .1 .05 .1-.01 .1 .05 .1-.06 .1 .02 .1-.03 .1-.04 .1-.09 .1 .13 .1-.06 .1 .11 .1 .09 .1 .14 .1-.02 .1 .12 .1 .13 .1 .08 .1-.06 .1-.18 .1 .01 .1-.04 .1 0 .1 .04 .1 .01 .1 .05 .1-.03 .1 .14 .1 .02 .1-.02 .1 .16 .1-.07 .1-.03 .1 .06 .1-0 .1 .01 .1 0 .1 .09 .1 .01 .1 .1 .1-.04 .1-.09 .1-.03 .1 .06 .1-.01 .1-.11 .1 .13 .1-.01 .1 .03 .1-.03 .1 .03 .1 .06 .1 .03 .1 .06 .1 .04 .1 0 .1 .11 .1-.14 .1 .04 .1 .04 .1 .04 .1-.07 .1-.01 .1 .14 .1 .06 .1 .06 .1 .05 .1-.09 .1 .16 .1-.05 .1 .14 .1-.13 .1-.08 .1 .13 .1 .03 .1 .02 .1 .01 .1-.03 .1-.05 .1 .1 .1 0 .1 .01 .1 .08 .1 .01 .1-.07 .1 .09 .1 .02 .1 .04 .1 .12 .1-.08 .1 .05 .1-.15 .1 .2 .1-.09 .1 .09 .1-.05 .1 .1 .1 .1 .1-.01 .1 .03 .1-.04 .1 .03 .1 .07 .1-.01 .1 .03 .1-.03 .1 .03 .1 .09 .1 .07 .1-.08 .1 .02 .1 .08 .1 .06 .1-.05 .1 .03 .1-.09 .1-.06 .1-.02 .1 .21 .1 0 .1-.01 .1 .08 .1-.07 .1 .14 .1 .02 .1 .02 .1-.04 .1 .17 .1 .02 .1 .1 .1-.16 .1 .16 .1 .03 .1-.09 .1 .08 .1 0 .1 .14 .1-.05 .1 .07 .1-.04 .1 .21 .1-.17 .1-0 .1 .02 .1 .04 .1-.02 .1 .01 .1 .05 .1-.04 .1-.14 .1 .11 .1-.02 .1 .07 .1 .01 .1 .13 .1-.02 .1 .17 .1-.15 .1 .14 .1-.01 .1-.1 .1-.03 .1 .07 .1 .09 .1 .1 .1-.17 .1 .09 .1-.06 .1 .14 .1-.04 .1-.01 .1 .11 .1 .03 .1 .13 .1-.06 .1 .02 .1 .05 .1 .01 .1 .1 .1-.09 .1 .02 .1 .02 .1 .02 .1-.05 .1 .16 .1 .05 .1-0 .1-.04 .1 .13 .1-.01 .1-.04 .1 .03 .1-.05 .1 .03 .1 0 .1-.12 .1 .04 .1-.01 .1 .14 .1-.13 .1 .26 .1 .04 .1 .04 .1 .05 .1-.11 .1 .14 .1-.05 .1 .04 .1 .16 .1-.09 .1 .12 .1-.03 .1 .04 .1 .06 .1-.01 .1 .13 .1 .04 .1 .09 .1-.04 .1 0 .1-.08 .1 .07 .1 .14 .1 .08 .1-.05 .1 .15 .1-.12 .1 .06 .1-.06 .1 .11 .1 .04 .1 .05 .1-.09 .1 .11 .1 .18 .1-.14 .1 .06 .1-0 .1-.02 .1 .2 .1 .02 .1-.13 .1 .12 .1 .08 .1-.12 .1-.05 .1 .05 .1 .02 .1-.07 .1 .11 .1 .27 .1-.08 .1 .05 .1-.05 .1 .2 .1-.23 .1 .11 .1-.04 .1 .01 .1-.07 .1 .03 .1 .11 .1 .11 .1-.1 .1 .22 .1-.03 .1 .08 .1-0 .1 .04 .1 .01 .1 .11 .1 .02 .1-.08 .1-.01 .1 .11 .1 .15 .1-.14 .1 .07 .1 .24 .1-.16 .1 .03 .1 .06 .1 .05 .1-.1 .1 .03 .1-.2 .1 .17 .1-.01 .1-.07 .1 .33 .1 .19 .1-.25 .1 .26 .1 .16 .1-.04 .1-.09 .1 .03 .1 .03 .1 .09 .1-.12 .1-.04 .1 .15 .1-.06 .1 .22 .1-.21 .1 .13 .1 .01 .1-.06 .1 .13 .1-.08 .1 .21 .1-.15 .1-.05 .1-.06 .1 .22 .1-0 .1-.06 .1 .14 .1 .13 .1 .04 .1-.04 .1-.18 .1 .34 .1-.15 .1 .13 .1-.24 .1 .18 .1 .05 .1 .01 .1-.14 .1 .15 .1 .23 .1-.15 .1 .16 .1-.05 .1-.09 .1 .24 .1 .06 .1 .03 .1 .03 .1 .13 .1-.2 .1 .18 .1 .16 .1-.1 .1 .05 .1-.14 .1 .01 .1-.19 .1 .11 .1-.07 .1-.05 .1 .05 .1 .03 .1 .02 .1 .1 .1 .11 .1-.21 .1 .3 .1 .17 .1-.19 .1 .11 .1 .26 .1-.26 .1 .17 .1-.07 .1-.15 .1 .11 .1-.14 .1 .15 .1 .13 .1-.02 .1-.02 .1-.04 .1 .18 .1 .12 .1 .02 .1 .08 .1-.05 .1-0 .1-.14 .1 .23 .1-.23 .1 .06 .1 .05 .1 .04 .1 .25 .1-.08 .1 .07 .1 .07 .1 .1 .1 .18 .1 .02 .1-.19 .1 .22 .1-.1 .1-.03 .1 .09 .1-.12 .1 .01 .1-.01 .1-.12 .1 0 .1 .05 .1 .02 .1 .08 .1 .06 .1 .23 .1-.06 .1 .15 .1 .05 .1-.04 .1 .15 .1-.04 .1-.07 .1 .17 .1-.09 .1-.04 .1 .12 .1-.14 .1 .22 .1-.11 .1 .24 .1 .09 .1-.28 .1-.03 .1 .04 .1 .2 .1-.05 .1-.05 .1 .13 .1-.02 .1 .01 .1 .04 .1 .16 .1-0 .1 .11 .1-.17 .1 .12 .1-.15 .1 .14 .1 .03 .1-.12 .1 .37 .1-.15 .1-.1 .1-.09 .1 .13 .1-.02 .1-.13 .1 .06 .1 .16 .1 .03 .1 .14 .1 .05 .1 .18 .1-.28 .1 .54 .1-.23 .1 .01 .1-.18 .1 .22 .1-.17 .1-.02 .1-.01 .1 .23 .1 .04 .1-.07 .1 .25 .1-.28 .1 .24 .1-.11 .1-.19 .1 .08 .1 .05 .1-.14 .1 .02 .1 .17 .1 .26 .1 .08 .1 .48 .1-.1 .1 .08 .1-.24 .1-.01 .1-.18 .1 .14 .1 .2 .1-.1 .1-.09 .1 .04 .1 .13 .1-.07 .1 .25 .1-.19 .1-.01 .1 .1 .1 .11 .1-.34 .1 .15 .1 .11 .1-.04 .1 .3 .1 .12 .1-.03 .1-.15 .1-.13 .1-.13 .1-.14 .1 .45 .1-.08 .1-.13 .1 .01 .1 .18 .1 .08 .1-.04 .1 .05 .1 .05 .1-.03 .1-.13 .1 .08 .1-.11 .1 .36 .1-.11 .1 .14 .1 .28 .1-.32 .1 .06 .1-.12 .1-.15 .1 .29 .1-.12 .1 0 .1 .1 .1-.11 .1 .12 .1 .09 .1-.19 .1 .16 .1-.01 .1 .19 .1 .24 .1-.31 .1 .37 .1-.11 .1 .11 .1 .01 .1-.02 .1-.09 .1 .16 .1-.08 .1 .28 .1-.09 .1-.09 .1 .08 .1 .22 .1-.24 .1 .24 .1-.07 .1-.17 .1 .17 .1-.23 .1 .18 .1-.02 .1-.02 .1 .14 .1 .21 .1-.21 .1 .02 .1 .09 .1 .09 .1 .01 .1-.2 .1-.03 .1 .11 .1-.02 .1 .06 .1-.21 .1 .12 .1-.08 .1 .36 .1-.34 .1 .21 .1 .13 .1-.06 .1 .12 .1-.08 .1-.13 .1 .09 .1 .21 .1-.1 .1 .18 .1 .03 .1-.1 .1-.05 .1-.23 .1 .01 .1 .26 .1 .05 .1 .13 .1 .01 .1 .19 .1 .03 .1 .18 .1-.14 .1-.29 .1 .12 .1 .19 .1-.26 .1-0 .1 .02 .1 .05 .1 .11 .1-0 .1 .07 .1-.06 .1 .17 .1 .11 .1-.24 .1 .15 .1 .03 .1 .02 .1 .01 .1 .09 .1-.05 .1-.06 .1-.06 .1 .13 .1-.2 .1-.2 .1 .2 .1 .04 .1 .21 .1 .05 .1-.18 .1 .36 .1-.02 .1 .23 .1-.16 .1 .18 .1 .05 .1 .15 .1-.3 .1 .14 .1-.04 .1-.1 .1-.14 .1 .01 .1 .11 .1 .28 .1-.16 .1 .19 .1-.16 .1 .08 .1-.03 .1 0 .1-.19 .1 .13 .1 .27 .1-.36 .1-.2 .1 .46 .1-.13 .1 .09 .1-.13 .1 .24 .1 0 .1 0 .1-.11 .1 .19 .1-.19 .1 .39 .1-.04 .1 .04 .1-.03 .1 .2 .1-.02 .1-.24 .1 .35 .1-.22 .1-.13 .1 .36 .1-.25 .1 .04 .1-.1 .1 .03 .1 .04 .1-.13 .1 .18 .1-.07 .1 .19 .1-.17 .1 .29 .1-.01 .1 .02 .1-.18 .1-.01 .1 .05 .1-.04 .1 .28 .1 .08 .1-0 .1-.02 .1 .37 .1 .05 .1-.05 .1 .1 .1-.04 .1-.27 .1 0 .1-.08 .1 .09 .1 .03 .1 .06 .1 .25 .1 0 .1 .22 .1-.1 .1-.01 .1-.12 .1 .1 .1-0 .1-.1 .1-.11 .1-.26 .1 .32 .1 .2 .1 .25 .1-.26 .1 .18 .1-.24 .1 .25 .1-.17 .1 .02 .1 .04 .1-.13 .1-.01 .1 .2 .1-.33 .1 .01 .1 .17 .1-.05 .1-.18 .1 .06 .1 .17 .1 .27 .1 .01 .1-.22 .1-.03 .1 .06 .1-.2 .1 .34 .1 .09 .1 .36 .1-.05 .1 .31 .1-.18 .1-.06 .1 .22 .1-.4 .1 .07 .1 .06 .1 .19 .1-.2 .1-.09 .1 .06 .1 .16 .1-.18 .1-.02 .1 .26 .1-.24 .1 .4 .1-.11 .1 .41 .1-.19 .1-.09 .1-.14 .1-.1 .1-.39 .1 .34 .1 .55 .1-.12 .1 .09 .1 .1 .1 .05 .1-.1 .1 .11 .1-.06 .1-.18 .1 .08 .1 .08 .1-.26 .1 .11 .1-.12 .1 .05 .1-.17 .1 .23 .1-.06 .1 .27 .1-.14 .1 .35 .1-.15 .1-.27 .1 .32 .1-.28 .1 .07 .1-.12 .1 .25 .1 .03 .1 .02 .1 .09 .1 .38 .1-.19 .1 .13 .1-.07 .1 .03 .1-.03 .1 .04 .1 .01 .1 .13 .1-.1 .1 .02 .1-.07 .1 .17 .1-.07 .1-.15 .1-.25 .1 .17 .1-.2 .1 .52 .1-.12 .1 .22 .1-.18 .1 .1 .1 .07 .1-.15 .1-.28 .1-.02 .1 .17 .1 .14 .1-.14 .1-.04 .1 .24 .1 .13 .1-.16 .1 .29 .1 .21 .1-.15 .1 .26 .1 .06 .1 .06 .1-.09 .1-.24 .1 .11 .1 .11 .1-.2 .1-.22 .1 .17 .1 .3 .1-.3 .1-.01 .1-.26 .1-.09 .1 .12 .1 .17 .1-.03 .1 .25 .1 .01 .1-.19 .1 .21 .1 .09 .1 .19 .1-.52 .1 .24 .1-0 .1 0 .1-.04 .1 .19 .1-.03 .1-.23 .1-0 .1 .12 .1-.1 .1 .3 .1 .17 .1-.09 .1 .08 .1-.06 .1 .11 .1 .04 .1-.2 .1 .32 .1-.19 .1 .21 .1 .09 .1-.15 .1 .07 .1-.12 .1 .26 .1-.18 .1-.15 .1 .33 .1-.12 .1 .33 .1-.22 .1 .19 .1-.15 .1 .2 .1 .09 .1 .13 .1 .05 .1-.17 .1-.05 .1-.1 .1 .05 .1 .09 .1 .18 .1 .12 .1-.23 .1-.01 .1 .01 .1 .3 .1 .08 .1-.14 .1 .1 .1-.25 .1-.1 .1 .05 .1-.23 .1 .1 .1-.08 .1-.18 .1 .29 .1 .1 .1 .13 .1-.18 .1 .16 .1-.28 .1 .26 .1-.28 .1 .13 .1-.06 .1 .51 .1-.18 .1 .31 .1-.18 .1 .03 .1 .05 .1-.27 .1 .24 .1-.05 .1-.03 .1 .35 .1-.11 .1 .23 .1-.13 .1-.03 .1 0 .1 .07 .1-.14 .1 .16 .1-.26 .1 .21 .1-.18 .1 .11 .1-.02 .1 .47 .1-.53 .1 .46 .1 .11 .1 .07 .1 .16 .1-.08 .1-.47 .1 .21 .1-.18 .1 .11 .1 .06 .1 .23 .1 .02 .1-.06 .1-.14 .1 .13 .1-.07 .1-.1 .1 .16 .1 .04 .1-.31 .1 .28 .1-.35 .1 .14 .1-.11 .1 .32 .1 .24 .1-.41 .1 .03 .1-.11 .1 .1 .1 .08 .1-.22 .1 .44 .1 .3 .1-.17 .1 .08 .1 .05 .1-.39 .1 .11 .1 .16 .1 .03 .1 .2 .1-.13 .1 .2 .1-.1 .1-.17 .1 .14 .1 .02" fill="none" stroke="#00ff00" stroke-width="2.0" stroke-linejoin="round" stroke-linecap="round" stroke-dasharray="6.84 3.89 1.23 4.27" stroke-dashoffset="0"/>
<path d="M100.80,40.80l.47 .6 .4 .63 .24 .69 .19 .73 .16 .76 .17 .75 .21 .71 .27 .66 .37 .62 .44 .6 .51 .58 .53 .57 .53 .55 .51 .56 .54 .53 .57 .51 .57 .51 .53 .52 .48 .56 .39 .6 .36 .64 .34 .67 .31 .69 .3 .69 .3 .71 .3 .7 .32 .68 .34 .68 .35 .66 .37 .65 .36 .66 .38 .65 .38 .65 .39 .64 .39 .63 .41 .63 .42 .62 .44 .61 .45 .61 .44 .6 .44 .61 .42 .62 .41 .63 .4 .63 .39 .64 .38 .65 .38 .65 .38 .64 .38 .65 .38 .65 .38 .64 .39 .64 .4 .64 .39 .64 .4 .63 .4 .64 .4 .64 .4 .63 .39 .64 .39 .64 .39 .64 .38 .65 .37 .65 .37 .66 .36 .65 .37 .66 .38 .65 .37 .64 .39 .64 .4 .64 .41 .62 .42 .62 .42 .62 .43 .62 .43 .61 .44 .61 .44 .61 .43 .61 .44 .61 .44 .61 .44 .61 .44 .61 .43 .61 .43 .62 .43 .62 .42 .61 .43 .62 .42 .62 .43 .62 .42 .62 .42 .62 .42 .62 .42 .62 .42 .62 .42 .63 .42 .62 .42 .62 .41 .63 .42 .62 .42 .62 .41 .63 .41 .63 .41 .63 .41 .63 .4 .63 .4 .63 .39 .64 .39 .64 .39 .64 .39 .65 .38 .64 .38 .65 .38 .64 .38 .65 .37 .65 .38 .65 .38 .65 .37 .65 .37 .65 .37 .65 .37 .66 .37 .65 .36 .66 .37 .65 .37 .66 .36 .65 .37 .66 .36 .65 .37 .65 .37 .66 .37 .65 .37 .65 .37 .65 .37 .65 .38 .66 .37 .65 .37 .65 .37 .65 .37 .65 .38 .65 .37 .65 .38 .65 .37 .65 .38 .65 .37 .65 .38 .65 .38 .65 .38 .64 .38 .65 .38 .65 .38 .64 .38 .65 .37 .65 .38 .65 .38 .65 .38 .64 .38 .65 .38 .65 .38 .65 .39 .64 .38 .65 .38 .64 .39 .65 .39 .64 .39 .64 .39 .64 .4 .63 .39 .64 .4 .63 .41 .63 .4 .63 .41 .63 .41 .63 .42 .62 .42 .62 .42 .62 .43 .62 .42 .61 .43 .62 .44 .61 .43 .61 .44 .61 .44 .61 .44 .61 .45 .6 .44 .61 .45 .6 .44 .61 .45 .6 .45 .6 .45 .6 .44 .6 .45 .6 .45 .6 .45 .61 .45 .6 .45 .6 .45 .6 .46 .6 .46 .6 .46 .59 .46 .59 .47 .59 .47 .58 .48 .58 .48 .57 .49 .57 .49 .55 .5 .56 .51 .55 .51 .55 .51 .54 .52 .54 .53 .54 .53 .54 .53 .53 .54 .52 .53 .53 .55 .52 .54 .52 .55 .52 .54 .51 .55 .51 .55 .51 .55 .51 .56 .5 .56 .49 .57 .49 .57 .48 .58 .49 .58 .47 .58 .48 .58 .48 .58 .47 .58 .48 .59 .47 .57 .48 .58 .47 .58 .48 .58 .48 .58 .48 .58 .48 .58 .48 .58 .47 .58 .48 .58 .47 .58 .48 .58 .47 .59 .47 .58 .47 .59 .46 .59 .46 .6 .46 .59 .46 .6 .45 .6 .44 .6 .45 .61 .44 .6 .45 .61 .44 .61 .43 .61 .44 .61 .43 .62 .43 .62 .43 .61 .43 .62 .42 .63 .42 .62 .42 .62 .42 .63 .41 .63 .41 .62 .41 .63 .4 .64 .41 .63 .4 .63 .4 .64 .4 .64 .39 .64 .4 .64 .39 .64 .39 .65 .38 .64 .38 .65 .38 .65 .38 .65 .37 .66 .37 .65 .36 .66 .36 .66 .36 .66 .35 .66 .36 .66 .35 .67 .34 .66 .35 .67 .34 .67 .34 .68 .33 .67 .34 .68 .32 .67 .33 .68 .31 .68 .32 .69 .31 .68 .3 .69 .3 .69 .29 .69 .29 .69 .28 .7 .28 .7 .27 .7 .27 .7 .27 .7 .27 .7 .27 .7 .26 .7 .27 .71 .27 .7 .26 .7 .27 .7 .27 .7 .27 .7 .27 .7 .26 .71 .26 .7 .27 .7 .26 .7 .27 .7 .27 .7 .28 .69 .28 .7 .29 .69 .28 .7 .29 .69 .27 .7 .27 .71 .25 .7 .25 .71 .24 .71 .25 .71 .24 .71 .23 .72 .24 .71 .23 .72 .23 .71 .23 .72 .22 .72 .22 .71 .22 .72 .22 .72 .21 .72 .21 .72 .21 .73 .2 .72 .2 .72 .2 .72 .19 .73 .2 .72 .19 .73 .19 .73 .18 .72 .19 .73 .18 .73 .18 .73 .17 .73 .18 .73 .17 .73 .17 .73 .17 .74 .16 .73 .16 .73 .16 .73 .16 .74 .15 .73 .15 .74 .14 .73 .15 .74 .14 .74 .14 .73 .14 .74 .14 .74 .13 .74 .14 .74 .13 .74 .14 .73 .13 .74 .13 .74 .14 .74 .14 .73 .13 .74 .14 .74 .14 .74 .13 .74 .14 .73 .13 .74 .13 .74 .14 .74 .13 .74 .14 .73 .13 .74 .13 .74 .13 .74 .13 .74 .14 .74 .13 .73 .13 .74 .13 .74 .13 .74 .13 .74 .13 .74 .14 .74 .13 .73 .13 .74 .13 .74 .13 .74 .12 .74 .13 .74 .13 .74 .13 .74 .13 .74 .12 .74 .13 .74 .13 .73 .12 .74 .13 .74 .12 .74 .12 .74 .13 .74 .12 .74 .13 .74 .12 .74 .12 .74 .12 .74 .12 .74 .12 .75 .12 .74 .11 .74 .12 .16 .02 .1 .02 .1 .01 .1 .02 .1 .01 .1 .02 .1 .01 .1 .02 .1 .01 .1 .01 .1 .02 .1 .01 .1 .02 .1 .01 .1 .02 .1 .02 .1 .01 .1 .01 .1 .02 .1 .01 .1 .02 .1 .01 .1 .02 .1 .01 .1 .02 .1 0 .1 .02 .1 .02 .1 .01 .1 .02 .1 .01 .1 .01 .1 .02 .1 .02 .1 .01 .1 .02 .1 0 .1 .02 .1 .01 .1 .01 .1 .01 .1 .02 .1 .02 .1 .02 .1 .01 .1 .01 .1 .01 .1 .01 .1 .01 .1 .02 .1 .02 .1 .01 .1 .01 .1 .01 .1 .02 .1 .01 .1 .02 .1 0 .1 .02 .1 .02 .1 0 .1 .01 .1 .02 .1 .02 .1 .02 .1-0 .1 .01 .1 .02 .1 .01 .1 .01 .1 .02 .1 0 .1 .02 .1 .02 .1 .02 .1 .01 .1 .03 .1 .02 .1 0 .1 .01 .1 .03 .1 0 .1 .01 .1 .03 .1-0 .1 .02 .1 .01 .1 .02 .1 .02 .1 .02 .1 .02 .1 0 .1 .01 .1-0 .1 .02 .1 .01 .1 .03 .1 .02 .1 .02 .1 .01 .1 .01 .1 .02 .1 .02 .1 0 .1 .03 .1 .03 .1-.01 .1 .03 .1-0 .1 .04 .1-0 .1 .01 .1 .01 .1 .02 .1 .01 .1-0 .1 .04 .1 .01 .1-.01 .1 .03 .1 .01 .1-.01 .1 .03 .1 .03 .1 .01 .1 .04 .1-.01 .1 .02 .1 .01 .1 .02 .1 0 .1 .02 .1 .03 .1-.02 .1 .06 .1 .01 .1 .01 .1 .04 .1 .01 .1 .01 .1 .02 .1-0 .1 .02 .1-.02 .1 .02 .1 .04 .1 .06 .1 .01 .1 .01 .1 .01 .1 .01 .1 .03 .1 .02 .1 .03 .1 .01 .1 0 .1-0 .1 .01 .1 0 .1 .04 .1 .04 .1 .01 .1 .03 .1-.01 .1 .05 .1 .01 .1 .01 .1 .03 .1-.03 .1 .05 .1 .01 .1 .06 .1-.03 .1 .01 .1 .03 .1-.02 .1 .06 .1-.02 .1 .02 .1 0 .1 .05 .1-.04 .1 .07 .1-.01 .1 .03 .1-.01 .1 .04 .1 .01 .1 .03 .1 .01 .1 .03 .1 .03 .1-0 .1-0 .1 .01 .1 .05 .1-.01 .1 .04 .1 .01 .1 0 .1 .07 .1 .05 .1-.03 .1-.02 .1 0 .1 .04 .1-.03 .1 .02 .1 .04 .1 .01 .1 .02 .1 .01 .1 .02 .1 .03 .1 .02 .1 .02 .1-.01 .1 .03 .1 .01 .1-0 .1 .04 .1 .05 .1 .02 .1 .04 .1 .03 .1 .01 .1-.02 .1-.02 .1-.02 .1 .04 .1 .07 .1-.01 .1 .02 .1 .04 .1-.01 .1 .03 .1 0 .1 .02 .1 .04 .1 .03 .1 .02 .1 .02 .1 .06 .1-.04 .1 .03 .1-.03 .1-.01 .1 .04 .1 .03 .1-0 .1 .06 .1 .05 .1-.03 .1-.03 .1 .06 .1 0 .1 .03 .1 .01 .1 .02 .1 .03 .1 .04 .1-0 .1 .01 .1-.01 .1 .05 .1-.01 .1 .05 .1-.05 .1 .09 .1 .02 .1-.01 .1 .04 .1-.02 .1-.01 .1 .01 .1 .08 .1-0 .1 .02 .1-.01 .1 .07 .1 0 .1 0 .1 .03 .1-.02 .1 .09 .1-.02 .1 .08 .1-0 .1-.03 .1 .01 .1-.03 .1-.05 .1 .04 .1 .07 .1 .03 .1 .02 .1 .08 .1-.01 .1 .02 .1 .03 .1 .01 .1 0 .1-.04 .1 .06 .1-.01 .1-0 .1 .04 .1 .07 .1-.07 .1 .02 .1 .08 .1-.03 .1 .07 .1-.06 .1 .02 .1 .08 .1 .04 .1 .02 .1 .04 .1 0 .1-.01 .1 .01 .1 .05 .1-.01 .1-.01 .1 .02 .1 .03 .1 .02 .1-.03 .1 .02 .1 .03 .1 .09 .1-.06 .1 .05 .1-.07 .1 .09 .1-.06 .1 .03 .1 .03 .1 .03 .1 .03 .1 .02 .1 .01 .1-.02 .1 .12 .1-.07 .1 .04 .1 .09 .1 .02 .1 .03 .1 .04 .1 .03 .1-.13 .1-.03 .1 .01 .1-.09 .1 .04 .1 .07 .1-.06 .1 .01 .1 .08 .1-.01 .1 .11 .1 .02 .1 .02 .1 .05 .1 .02 .1 0 .1 .01 .1 .08 .1 .03 .1 0 .1-0 .1-.02 .1 .02 .1-.01 .1 .06 .1 .04 .1 .02 .1-.02 .1-0 .1 .04 .1 .02 .1 .04 .1 .05 .1-.06 .1 .13 .1-.14 .1 .04 .1 .03 .1 .04 .1 .05 .1 .09 .1-.12 .1 .07 .1-.06 .1 .04 .1-.03 .1 .15 .1-.08 .1 .01 .1 .16 .1-.04 .1 .06 .1 .02 .1-.03 .1-.03 .1 .05 .1 .08 .1-.06 .1-.03 .1 .05 .1-.1 .1 .1 .1-0 .1 .03 .1 .12 .1 .06 .1-.01 .1 .02 .1 .02 .1 .02 .1-.11 .1-.09 .1 .21 .1-.11 .1-.01 .1 .04 .1-.03 .1 .07 .1-.1 .1 .05 .1-.01 .1 .17 .1-.05 .1 .1 .1 .03 .1-.12 .1 .04 .1 .04 .1-.03 .1-0 .1 .06 .1 .01 .1-.06 .1 .03 .1 .05 .1-.01 .1 .01 .1-.05 .1 .16 .1-.07 .1 .05 .1 .02 .1 .03 .1 .05 .1-.01 .1 .1 .1 .08 .1-.05 .1 .01 .1-.03 .1-.03 .1 .08 .1-.12 .1 .05 .1 .03 .1-.04 .1-.02 .1 .04 .1 .19 .1-.08 .1 .07 .1 .04 .1-.02 .1-.1 .1 0 .1 .12 .1-.01 .1 .06 .1 .04 .1 .03 .1-.06 .1 0 .1 .16 .1-.06 .1-.04 .1-.05 .1 .12 .1-.1 .1 .01 .1 .11 .1-.01 .1 .03 .1-.09 .1-.07 .1 .12 .1 .05 .1-0 .1 .09 .1-.03 .1-.09 .1 .09 .1-.05 .1 .03 .1 .13 .1-.11 .1 .2 .1 .04 .1-.15 .1 .13 .1 .03 .1-.03 .1 .02 .1-.02 .1 .04 .1-.04 .1-.09 .1 .2 .1-.02 .1-.09 .1 .1 .1 .08 .1-.19 .1 .08 .1 0 .1 .08 .1-.05 .1-.06 .1 .16 .1-.09 .1 .07 .1 .11 .1-.17 .1 .03 .1 .1 .1-.04 .1 .06 .1-.01 .1 .19 .1-.13 .1-.01 .1-.01 .1 .02 .1-.11 .1 .1 .1 .09 .1-.1 .1 .1 .1-.02 .1-.04 .1 .18 .1-.12 .1-0 .1-.02 .1 .1 .1 .03 .1 .07 .1 .02 .1 .16 .1-.07 .1 .03 .1-.02 .1 .08 .1-.24 .1-.05 .1 .08 .1-0 .1-.03 .1-.06 .1 .08 .1 .09 .1-.04 .1 .04 .1 .15 .1-.04 .1 .04 .1 .08 .1-.14 .1 .31 .1-.12 .1 .01 .1-.04 .1-.02 .1-.14 .1 .23 .1-.07 .1 0 .1 .22 .1-.29 .1 .15 .1-.05 .1-.09 .1 .25 .1-.2 .1 .16 .1 .02 .1 .06 .1-.07 .1 .14 .1-.1 .1-.13 .1-.02 .1 .16 .1-.05 .1 .17 .1 .05 .1-.05 .1-.11 .1 .03 .1 .1 .1-.08 .1 .22 .1-.13 .1 .1 .1 .07 .1-.03 .1 .01 .1 .04 .1-.1 .1 .03 .1-.05 .1 .19 .1-.14 .1 .06 .1-.31 .1 .18 .1-.07 .1 .07 .1-.06 .1-.01 .1 .09 .1 .12 .1 .05 .1-.1 .1 .15 .1-.11 .1 .12 .1-.1 .1 .19 .1 .15 .1-.19 .1 .17 .1-.21 .1 .07 .1 .28 .1-.23 .1 .05 .1-.2 .1 .12 .1-.08 .1 .16 .1-.14 .1 .32 .1-.28 .1 .16 .1-.16 .1 .17 .1 .17 .1-.09 .1-.08 .1 .17 .1 .02 .1-.07 .1 .03 .1-.25 .1 .31 .1-.1 .1-.26 .1 .37 .1-.21 .1 .1 .1-.22 .1 .14 .1-.1 .1 .3 .1-.05 .1-.02 .1 .1 .1 .17 .1-.18 .1 .13 .1-.17 .1-.04 .1 .08 .1-.01 .1 .01 .1 .04 .1-.13 .1 .06 .1 .17 .1 .02 .1 0 .1 .02 .1-.27 .1 .15 .1-.12 .1 .12 .1 .13 .1-.27 .1 .28 .1-.15 .1 .11 .1 .05 .1 .21 .1-.07 .1-.11 .1 .25 .1-.05 .1 .08 .1 0 .1-.24 .1 .12 .1-.05 .1-.07 .1 .02 .1 .07 .1-.06 .1 .09 .1 .16 .1-.2 .1 .14 .1-.08 .1 .03 .1 .07 .1 .04 .1 .12 .1-.22 .1 .1 .1-.01 .1-.02 .1-.34 .1 .41 .1 .03 .1-.09 .1 .18 .1 .2 .1-.26 .1-0 .1 .09 .1-.4 .1 .01 .1 .16 .1 .18 .1 .12 .1 .04 .1 .29 .1-.21 .1-.17 .1 .16 .1 .14 .1-.02 .1-.27 .1 .29 .1-.14 .1 .08 .1 .14 .1-.26 .1-.12 .1 .01 .1-.05 .1 .42 .1-.08 .1 .1 .1-.12 .1-.03 .1 .08 .1-.35 .1 .38 .1-.27 .1 .25 .1 .1 .1-.07 .1 .22 .1 .07 .1 .17 .1-.18 .1 .21 .1-.17 .1-.09 .1 .14 .1-.19 .1 .09 .1 .04 .1 .04 .1-.14 .1-.26 .1 .37 .1-.13 .1-.04 .1-.05 .1 .21 .1 .05 .1 .12 .1-.03 .1 .31 .1-.24 .1 .03 .1-.09 .1 .06 .1-.31 .1 .13 .1 .09 .1 .02 .1 .08 .1-.03 .1 .29 .1 .12 .1-.33 .1 .26 .1-.29 .1 .02 .1 .05 .1 .05 .1 .1 .1-.2 .1 .23 .1 .34 .1 .09 .1 .26 .1-.45 .1-.15 .1 .18 .1-.56 .1 .23 .1 .8 .1-.39 .1 .22 .1-.22 .1-.29 .1-.07 .1-.36 .1 .25 .1-.02 .1-.01 .1-.24 .1-.16 .1 .4 .1 .07 .1 .4 .1-.13 .1 .19 .1 .16 .1 .04 .1-.05 .1-.21 .1 .05 .1 .39 .1-.2 .1-.31 .1 .43 .1-.29 .1 .04 .1-.1 .1 .4 .1-.3 .1-.11 .1-.22 .1-.14 .1 .23 .1 .06 .1 .32 .1-.32 .1 .17 .1 .21 .1-.03 .1-.25 .1 .34 .1-.14 .1 .12 .1-.03 .1 .16 .1-.17 .1 .1 .1 .29 .1-.04 .1 .06 .1 .16 .1-.19 .1 0 .1-.47 .1 .25 .1 .26 .1-.25 .1 .13 .1 .11 .1-.06 .1 .12 .1-.11 .1-.15 .1 .17 .1-.22 .1-.04 .1 .21 .1 .08 .1-.1 .1-.12 .1 .14 .1 .18 .1 .12 .1 .18 .1-.34 .1-.02 .1-.35 .1 .65 .1 .03 .1-.06 .1-.02 .1-.24 .1 .49 .1-.38 .1 .3 .1-.24 .1 .12 .1-.08 .1 .41 .1-.3 .1 .71 .1-.43 .1-.37 .1-.01 .1-.27 .1 .22 .1-.05 .1 .03 .1 .31 .1 .16 .1-.02 .1 0 .1 .01 .1-.26 .1 .27 .1-.63 .1 .62 .1 .36 .1-.28 .1 .14 .1 0 .1-.43 .1 .11 .1 .21 .1-.15 .1 .39 .1 .2 .1-.46 .1-.18 .1 .26 .1-.07 .1-.14 .1 .19 .1-.09 .1-.06 .1 .18 .1-.04 .1-.15 .1-.17 .1 .14 .1-.1 .1 .01 .1-.3 .1-.49 .1 .77 .1-.37 .1 .25 .1 .33 .1 .22 .1 .18 .1 .44 .1-.41 .1-.1 .1-.35 .1 .05 .1 .13 .1-.09 .1 .1 .1-.25 .1 .32 .1-.26 .1 .18 .1-.02 .1 .26 .1 .35 .1-.02 .1-.11 .1 .38 .1 .15 .1-.32 .1-.3 .1-.61 .1-.13 .1 .12 .1 .2 .1 .31 .1 .11 .1-.03 .1 .17 .1-.32 .1 .05 .1 .06 .1-.25 .1 .19 .1-.05 .1 .16 .1 .17 .1-.16 .1-.05 .1-.17 .1-.5 .1 .81 .1-0 .1-.49 .1 .24 .1 .16 .1 .26 .1 .2 .1-.04 .1-.5 .1 1.36 .1-.41 .1 .06 .1-.32 .1 .25 .1 .22 .1-.33 .1 .41 .1-.24 .1 .18 .1-.55 .1 .17 .1-.94 .1 .7 .1-.17 .1-.12 .1 .44 .1-.25 .1 .27 .1 .03 .1 .02 .1 .29 .1-.26 .1 .2 .1-.55 .1-.23 .1-.03 .1-.11 .1-.3 .1 .36 .1-.34 .1 .33 .1 .18 .1 .13 .1 .05 .1 .5 .1-.07 .1 .34 .1-.23 .1 .05 .1-.4 .1 .02 .1-.27 .1 .08 .1 .39 .1-.11 .1 .14 .1 .01 .1 .69 .1-.46 .1 .15 .1-.5 .1 .09 .1-.7 .1 .04 .1 .8 .1-.24 .1 .3 .1 .22 .1-.09 .1-.15 .1-.43 .1 .1 .1 .2 .1 .17 .1-.03 .1-.04 .1-.28 .1 .27 .1 .33 .1-.45 .1 .14 .1 .39 .1 .18 .1-.35 .1-.13 .1-.27 .1 .25 .1-.17 .1 .28 .1 .18 .1-.06 .1 .25 .1-.65 .1-.06 .1 .83 .1 .07 .1-.41 .1 .48 .1-.18 .1 .11 .1-.1 .1-.01 .1-.76 .1-.13 .1 .67 .1-.13 .1 .64 .1-.61 .1 .12 .1-.64 .1 1.11 .1 .03 .1-.33 .1-.29 .1-.59 .1 .11 .1 .17 .1 .85 .1-.19 .1-.33 .1 .43 .1 .03 .1-.17 .1-.58 .1-0 .1 .28 .1 .11 .1-.1 .1 1.05 .1-.45 .1-.2 .1 .22 .1-.21 .1-.47 .1 .41 .1-.19 .1-.28 .1 .25 .1 .03 .1-.23 .1 .41 .1-.31 .1 .19 .1 .37 .1-.54 .1 .35 .1-.14 .1 .59 .1-.37 .1 .79 .1-.08 .1-.69 .1 .29 .1-.15 .1 .12 .1 .22 .1 .28 .1 .17 .1-.21 .1-1.11 .1 .15 .1-.01 .1-.11 .1 .08 .1 .1 .1-.43 .1 .01 .1 1.13 .1-.38 .1 .66 .1-.73 .1 .63 .1 .08 .1-.13 .1-.71 .1 .37 .1-.57 .1-.24 .1 .24 .1 .06 .1-.03 .1 .25 .1 .48 .1-.23 .1 .45 .1 .05 .1-.12 .1-.1 .1-.61 .1 .13 .1-.17 .1 .28 .1-.98 .1 .68 .1-.44 .1 .95 .1-.24 .1 .37 .1 .12 .1 .09 .1-1.14 .1 .2 .1-.8 .1 .68 .1-.11 .1 .54 .1-.21 .1 .23 .1-.28 .1 .44 .1-.13 .1 .38 .1-.79 .1 .45 .1 .09 .1 .33 .1-.2 .1 .12 .1 .01 .1 .49 .1-.58 .1 .01 .1-.99 .1 .36 .1 .45 .1-.8 .1 1.01 .1 .12 .1 .14 .1 .31 .1-.28 .1-.59 .1 .22 .1-.81 .1 1.36 .1-.45 .1 .46 .1-.56 .1 1.01 .1-.51 .1-.45 .1-.24 .1-.13 .1-.28 .1 .38 .1 .12 .1 .38 .1 .61 .1 .02 .1-.17 .1 .31 .1-.18 .1-.13 .1-.49 .1 .09 .1-.03 .1 .28 .1-.32 .1-.04 .1 0 .1-.47 .1 .04 .1 .23 .1 .43 .1 .72 .1-.43 .1-.22 .1 .51 .1 .52 .1 .07 .1-.4 .1-1.16 .1 .55 .1 .2 .1 .19 .1 .55 .1-.89 .1 .78 .1-.54 .1 .23 .1-.38 .1 .18 .1-.59 .1-.87 .1 .8 .1 .34 .1 .58 .1-.76 .1 .11 .1 .28 .1 .84 .1-.38 .1 .26 .1 .18 .1-.49 .1 .84 .1-1.1 .1 1.45 .1-1.04 .1-.1 .1 .07 .1-.33 .1-.19 .1-.29 .1-.47 .1 .11 .1 .12 .1-.47 .1 .24 .1-.53 .1 .56 .1 .07 .1-.02 .1 .81 .1 .2 .1-.46 .1 .02 .1 0 .1-1.01 .1 .28 .1 .68 .1-.09 .1 .53 .1 .9 .1-1.76 .1 .55 .1-.47 .1 .63 .1-.28 .1-.54 .1 1.43 .1-.14 .1 .2 .1 .12 .1 .06 .1-.52 .1 .19 .1 .74 .1-1.09 .1 .16 .1 .58 .1-.8 .1 .26 .1 .16 .1-.62 .1 .19 .1-.3 .1 .32 .1 .24 .1-.12 .1 .12 .1 .01 .1 .15 .1-.9 .1 .49 .1 .71 .1-.74 .1 .1 .1 .23 .1-.24 .1 .58 .1-.27 .1-.1 .1 .42 .1 .22 .1-1.19 .1 .47 .1 .14 .1-.5 .1 .85 .1 .55 .1-.75 .1 .09 .1-1.41 .1 1.07 .1-.06 .1 1.36 .1-.07 .1-.27 .1 .08 .1-.11 .1 .17 .1-.15 .1-.04 .1-1.06 .1 1.57 .1-.39 .1-.79 .1 .82 .1-.2 .1 .06 .1 .35 .1-1.47 .1 .63 .1-.07 .1-1.48 .1 1.12 .1-1.14 .1-.16 .1 .7 .1-.3 .1-.44 .1 1.06 .1 1.13 .1-.14 .1-.22 .1-.02 .1-.26 .1-.6 .1-.21 .1 .76 .1 .47 .1-1.81 .1 1.56 .1 .24 .1-1 .1 1.12 .1-1.53 .1 1.25 .1 .4 .1 .03 .1-2.07 .1 1.45 .1-.75 .1 .5 .1 .3 .1-.72 .1 .61 .1-1.52 .1 .61 .1 .34 .1 .8 .1 .23 .1-1.12 .1-.11 .1 .89 .1-1.14 .1 1.06 .1-.64 .1 .45 .1 1.21 .1-1.61 .1-.22 .1-.83 .1 .33 .1 .58 .1 .06 .1-.49 .1 1.41 .1 1.17 .1-1.41 .1 .35 .1-.49 .1 .1 .1-.43 .1-.54 .1 .63 .1-.63 .1-1.49 .1 .78 .1 .34 .1-.03 .1 .84 .1-.04 .1 .44 .1-.79 .1 .46 .1 .3 .1 .14 .1 .12 .1-.12 .1 .45 .1 .97 .1-1.41 .1-.6 .1 .95 .1-.76 .1 1.18 .1 .38 .1 .6 .1-.6 .1-1.01 .1 1.58 .1-.61 .1-.03 .1-.9 .1-.42 .1 .03 .1-1.22 .1 1.4 .1-.96 .1 .06 .1 .61 .1-.63 .1 1 .1-.54 .1 1.92 .1-.36 .1-.06 .1-.2 .1-.39 .1-.55 .1-1.04 .1 .53 .1 .12 .1 .43 .1 .6 .1-.85 .1 .51 .1 .36 .1 .16 .1 .82 .1 1.04 .1-1.68 .1 .38 .1-.45 .1 .08 .1 .86 .1-.83 .1 .31 .1-.22 .1-.3 .1 .77 .1-.94 .1 .74 .1-1.73 .1 .82 .1 .75 .1-1.31 .1 .6 .1 .7 .1-.72 .1-.83 .1 .17 .1 .27 .1-.58 .1 .1 .1 .32 .1-.82 .1 1.72 .1-1.51 .1 .16 .1-.1 .1 .6 .1-1.07 .1 1.64 .1 .08 .1-.47 .1-1.06 .1-.07 .1 .54 .1 .22 .1 .12 .1 .27 .1-.53 .1-.3 .1 .13 .1-1.53 .1 2.23 .1-1.32 .1 .05 .1 1.05 .1 .36 .1-.43 .1 .68 .1 .25 .1 .39 .1-.3 .1-.7 .1 .23 .1 .56 .1-.85 .1 .41 .1-.89 .1 1.83 .1 1.42 .1-.88 .1-.68 .1 .83 .1-.07 .1 .04 .1-1.55 .1 .03 .1 1.19 .1-.09 .1-.37 .1-1.53 .1 1.09 .1 .39 .1-.71 .1 .69 .1-1.5 .1-.39 .1 .89 .1-.1 .1-1.67 .1 .88 .1 1.56 .1-.31 .1 1.43 .1-.19 .1-.23 .1-1.08 .1 .16 .1 .73 .1-.64 .1 .74 .1-.23 .1 .25 .1-.48 .1-.63 .1-1.45 .1 1.18 .1 .11 .1 1.55 .1-1.19 .1 .48 .1 .38 .1-.19 .1-.09 .1-.69 .1 .92 .1-1.19 .1 1.34 .1-1.45 .1 .55 .1 .23 .1-.19 .1-.91 .1-.58 .1-.67 .1-.99 .1-.09 .1 2.08 .1-2.23 .1 .54 .1 .35 .1 1.3 .1 .39 .1 .19 .1-.06 .1 1.19 .1-.44 .1 1.04 .1 .11 .1-2.3 .1 .11 .1-1.15 .1 .64 .1-.05 .1 1.51 .1 .5 .1 .98 .1 .4 .1-2.69 .1 1.12 .1-1.67 .1 .26 .1-.36 .1 1.17 .1 .56 .1-.82 .1 .32 .1-.6 .1 .43 .1-.57 .1 .86 .1-1.27 .1 2.93 .1-.65 .1-1.34 .1-.18 .1-.21 .1 .11 .1-.16 .1 1.34 .1-1.35 .1-.73 .1 1.69 .1 .26 .1-.77 .1 1.17 .1-.6 .1-.34 .1 .56 .1-.72 .1 .68 .1 1.5 .1-.47 .1-.73 .1-.66 .1-.23" fill="none" stroke="#0000ff" stroke-width="1.8" stroke-linejoin="round" stroke-linecap="butt"/>
<path d="M101.00,42.00l.05 .78 .04 .8 .04 .8 .05 .76 .11 .88 .37 .76 .58 .56 .73 .48 .76 .35 .7 .17 .77 .08 .8 .05 .75 .07 .81 .25 .72 .61 .51 .63 .47 .69 .44 .7 .4 .64 .38 .64 .35 .65 .33 .68 .32 .69 .32 .69 .31 .68 .33 .68 .33 .68 .33 .67 .34 .67 .33 .67 .34 .67 .35 .67 .35 .66 .35 .66 .36 .66 .37 .65 .38 .65 .39 .64 .41 .64 .41 .63 .42 .63 .4 .63 .39 .64 .37 .65 .34 .66 .3 .68 .27 .71 .25 .71 .26 .7 .28 .7 .3 .68 .32 .68 .34 .67 .34 .67 .35 .67 .35 .66 .34 .67 .36 .66 .36 .66 .36 .66 .36 .65 .37 .66 .36 .65 .36 .66 .36 .66 .35 .67 .34 .67 .34 .67 .34 .66 .34 .67 .35 .67 .35 .66 .36 .66 .36 .65 .37 .66 .38 .65 .38 .64 .38 .65 .38 .65 .38 .64 .38 .65 .39 .64 .38 .65 .38 .65 .37 .65 .38 .65 .37 .65 .37 .65 .36 .66 .37 .66 .36 .65 .36 .66 .36 .66 .36 .66 .35 .66 .36 .66 .36 .66 .36 .65 .36 .66 .36 .66 .36 .66 .36 .66 .36 .66 .36 .65 .36 .66 .36 .66 .36 .66 .36 .66 .36 .65 .36 .66 .36 .66 .37 .66 .36 .66 .36 .65 .36 .66 .36 .66 .36 .66 .37 .65 .36 .66 .36 .66 .36 .66 .36 .65 .36 .66 .36 .66 .36 .66 .35 .66 .36 .66 .36 .66 .35 .66 .36 .66 .35 .66 .36 .66 .35 .67 .35 .66 .36 .66 .35 .67 .34 .66 .35 .67 .35 .66 .34 .67 .35 .66 .35 .67 .35 .66 .35 .66 .35 .67 .36 .66 .35 .66 .36 .66 .36 .65 .36 .66 .36 .66 .36 .66 .37 .66 .36 .65 .37 .66 .36 .65 .37 .66 .37 .65 .37 .65 .37 .65 .37 .66 .37 .65 .38 .65 .37 .65 .38 .65 .38 .65 .38 .64 .38 .65 .39 .64 .38 .64 .39 .64 .39 .65 .4 .63 .39 .64 .4 .64 .4 .64 .4 .63 .4 .63 .4 .64 .4 .63 .41 .63 .41 .63 .4 .63 .41 .63 .42 .63 .41 .62 .41 .63 .42 .62 .42 .63 .42 .62 .43 .62 .42 .61 .43 .62 .42 .62 .43 .62 .43 .61 .44 .61 .44 .61 .44 .61 .44 .6 .46 .6 .45 .59 .47 .59 .49 .57 .48 .58 .49 .57 .48 .58 .47 .58 .48 .58 .47 .58 .48 .58 .48 .58 .48 .57 .48 .58 .49 .57 .49 .56 .5 .56 .51 .56 .5 .55 .52 .55 .51 .54 .52 .55 .52 .54 .52 .53 .53 .54 .52 .53 .53 .54 .54 .53 .53 .52 .54 .53 .54 .52 .54 .51 .55 .52 .55 .51 .56 .5 .56 .5 .56 .49 .57 .5 .56 .49 .56 .5 .56 .5 .56 .5 .55 .51 .56 .5 .55 .51 .55 .51 .55 .51 .56 .5 .56 .5 .57 .49 .57 .49 .58 .48 .58 .47 .58 .48 .58 .48 .57 .49 .56 .49 .54 .52 .53 .54 .52 .55 .51 .55 .52 .55 .52 .54 .54 .52 .56 .48 .58 .46 .59 .45 .6 .44 .61 .43 .62 .42 .62 .42 .63 .41 .64 .4 .63 .4 .65 .4 .64 .39 .65 .39 .65 .39 .64 .4 .65 .39 .64 .39 .64 .39 .64 .4 .63 .4 .64 .4 .63 .4 .64 .4 .64 .39 .64 .4 .64 .39 .64 .39 .64 .39 .64 .39 .65 .38 .65 .38 .64 .38 .65 .37 .66 .37 .65 .36 .66 .36 .66 .36 .66 .35 .67 .34 .66 .35 .67 .34 .67 .34 .67 .33 .68 .33 .67 .33 .68 .33 .67 .33 .68 .32 .68 .33 .68 .32 .67 .32 .68 .32 .68 .32 .68 .33 .68 .32 .68 .31 .68 .32 .68 .32 .68 .31 .69 .31 .68 .31 .69 .3 .68 .31 .69 .29 .69 .3 .7 .28 .69 .29 .69 .27 .71 .27 .7 .26 .71 .25 .71 .24 .71 .25 .7 .25 .71 .26 .7 .26 .71 .26 .7 .28 .69 .27 .7 .27 .7 .27 .71 .27 .7 .25 .71 .25 .71 .24 .71 .25 .71 .24 .71 .23 .71 .24 .72 .23 .71 .24 .71 .23 .72 .22 .72 .23 .71 .22 .72 .22 .72 .22 .72 .21 .72 .21 .72 .21 .72 .2 .72 .2 .73 .2 .72 .19 .73 .18 .73 .19 .73 .18 .72 .17 .73 .18 .73 .17 .73 .18 .74 .17 .73 .17 .73 .17 .73 .18 .73 .17 .73 .18 .73 .18 .72 .18 .73 .18 .73 .19 .73 .18 .72 .19 .73 .18 .73 .19 .72 .19 .73 .18 .73 .19 .72 .19 .73 .18 .73 .19 .72 .18 .73 .19 .73 .18 .73 .18 .73 .18 .73 .18 .72 .18 .73 .17 .73 .18 .73 .17 .73 .18 .73 .17 .73 .17 .73 .18 .73 .17 .73 .17 .73 .17 .74 .17 .73 .17 .73 .17 .73 .17 .73 .17 .73 .16 .73 .17 .73 .17 .73 .17 .74 .17 .73 .17 .73 .17 .73 .16 .73 .17 .73 .17 .74 .16 .73 .16 .73 .16 .74 .16 .73 .16 .73 .15 .74 .15 .73 .14 .74 .15 .74 .14 .73 .14 .74 .13 .74 .14 .74 .14 .73 .13 .74 .13 .74 .13 .74 .13 .74 .13 .74 .13 .74 .13 .74 .13 .45 .08 .1 .01 .1 .02 .1 .02 .1 .01 .1 .02 .1 .02 .1 .02 .1 .01 .1 .02 .1 .02 .1 .02 .1 .01 .1 .02 .1 .02 .1 .02 .1 .01 .1 .02 .1 .02 .1 .01 .1 .01 .1 .02 .1 .02 .1 .01 .1 .03 .1 .01 .1 .02 .1 .01 .1 .02 .1 .02 .1 .01 .1 .02 .1 .02 .1 .01 .1 .02 .1 .02 .1 .01 .1 .03 .1 .01 .1 .02 .1 .02 .1 .01 .1 .03 .1 0 .1 .02 .1 .02 .1 .02 .1 .02 .1 .02 .1 .01 .1 .02 .1 .02 .1 .01 .1 .02 .1 .02 .1 .02 .1 .02 .1 .02 .1 .02 .1 0 .1 .03 .1 .01 .1 .03 .1 0 .1 .01 .1 .02 .1 .02 .1 0 .1 .03 .1 .02 .1 .02 .1 .02 .1 .01 .1 .02 .1 .01 .1 .03 .1 .01 .1 .01 .1 .02 .1 .03 .1 .01 .1 .02 .1 .01 .1 .04 .1 .01 .1 .01 .1 .02 .1 .03 .1 0 .1 .01 .1 .02 .1 .02 .1 .02 .1 0 .1 .02 .1 .02 .1 .02 .1 .02 .1 .02 .1 .02 .1 .02 .1 .03 .1 0 .1 .03 .1 .01 .1 .01 .1 .01 .1 .04 .1 .01 .1 .02 .1 .03 .1 .01 .1 .01 .1 .02 .1 .02 .1 .03 .1-.01 .1 .01 .1 .03 .1 .03 .1 .01 .1 .03 .1 .02 .1 .01 .1 .01 .1 .04 .1 .02 .1 .01 .1 0 .1 .04 .1-0 .1 .01 .1 .06 .1 .02 .1 .02 .1 .01 .1 .02 .1-.01 .1 .01 .1 .02 .1 .02 .1 .01 .1 0 .1 .06 .1-.01 .1 .02 .1 .03 .1 .01 .1 .03 .1 .04 .1 .01 .1 .01 .1 .03 .1 .01 .1 .02 .1-.01 .1 .01 .1 .01 .1 .05 .1 .02 .1 .03 .1 .03 .1-.01 .1 .01 .1 0 .1 .04 .1 .01 .1-.01 .1 .04 .1 .01 .1 .02 .1 .03 .1 .01 .1 .02 .1 .02 .1 .02 .1 .01 .1 .04 .1 .01 .1 0 .1 0 .1 .07 .1-.01 .1 .02 .1 .03 .1 .04 .1-.01 .1-0 .1 .05 .1 .02 .1 .01 .1 .05 .1-.01 .1 .03 .1-0 .1 .04 .1-.01 .1 .04 .1 0 .1 .02 .1 .02 .1-.01 .1 .03 .1 .04 .1 .02 .1 .04 .1 .02 .1-0 .1 .04 .1-.01 .1 .03 .1 .02 .1-.02 .1 .02 .1 .03 .1 .01 .1 0 .1 .06 .1 .02 .1 .02 .1 .02 .1 .02 .1-.02 .1 .02 .1 0 .1 .02 .1 .02 .1 .06 .1-.04 .1 .05 .1 .04 .1 .01 .1 .01 .1 .05 .1-.02 .1 .03 .1 .02 .1 0 .1 .02 .1 .02 .1 .03 .1-.02 .1 .04 .1 .02 .1 .02 .1 0 .1 .08 .1-.01 .1 .01 .1 .01 .1 .04 .1-.02 .1 .01 .1 .02 .1 .03 .1 .02 .1-.02 .1 .05 .1 .02 .1 .03 .1-.01 .1 .06 .1 .04 .1-.01 .1 .03 .1 .05 .1 .01 .1-.02 .1 .03 .1-.04 .1 .07 .1 .02 .1 .04 .1 .02 .1 .02 .1-.01 .1 .05 .1-.05 .1 .06 .1-.01 .1 .07 .1-.05 .1 .04 .1 .02 .1 .04 .1 0 .1 .01 .1 .04 .1 .04 .1 .01 .1-.02 .1 .01 .1 .01 .1 .04 .1 .02 .1 .01 .1 .01 .1 .03 .1 .03 .1-0 .1-.02 .1 .04 .1 .01 .1 .06 .1 .02 .1 .02 .1 .05 .1 0 .1 .02 .1 .04 .1-.04 .1 .03 .1 .02 .1 .04 .1-0 .1-.01 .1 .03 .1 .03 .1 .02 .1 .02 .1-0 .1 .06 .1-.01 .1 .04 .1 0 .1 .02 .1 .05 .1-.03 .1 .02 .1-.02 .1 .06 .1 .06 .1 .01 .1 .02 .1-.03 .1 .02 .1-.02 .1 .02 .1-0 .1 .05 .1-0 .1 .02 .1 .04 .1-.06 .1 .01 .1 .07 .1-.02 .1 .05 .1 .04 .1 .04 .1 .09 .1-.04 .1 .05 .1-.02 .1-.01 .1 .03 .1 .04 .1 .09 .1-.05 .1 .06 .1-.05 .1 .05 .1-.01 .1 .01 .1-0 .1-.01 .1 .01 .1 .01 .1 .03 .1 .01 .1 .04 .1 .02 .1 .1 .1-.01 .1-.02 .1 .05 .1-.01 .1-.03 .1 .02 .1-.02 .1-.01 .1 .08 .1-.02 .1 .08 .1 0 .1 .04 .1 .01 .1 .05 .1 .03 .1 .01 .1 .04 .1 .01 .1-.01 .1-.04 .1 .07 .1-.03 .1 .01 .1 0 .1 .03 .1 .11 .1 .02 .1-.01 .1 .02 .1-.12 .1 .08 .1-.02 .1 .05 .1 .11 .1 .06 .1-.03 .1-.02 .1 0 .1 .04 .1 .03 .1 .05 .1-.02 .1-.03 .1 .02 .1 .05 .1 .04 .1-.06 .1 .09 .1-.01 .1 .06 .1-.06 .1 .09 .1 .02 .1 .02 .1 .02 .1-.03 .1 .02 .1-.02 .1 .04 .1-.02 .1 .05 .1 .01 .1-.02 .1 .08 .1-.06 .1 .04 .1 .1 .1-.04 .1 .05 .1-.08 .1 .15 .1-.05 .1 .03 .1 .07 .1-.01 .1-.03 .1 .1 .1-.07 .1 .03 .1-.01 .1 .02 .1 .02 .1 .02 .1 .01 .1 .12 .1-.05 .1 .02 .1-.02 .1 .1 .1-.02 .1 0 .1 0 .1 .06 .1-.06 .1 .05 .1 .02 .1 .04 .1 0 .1-.04 .1 .08 .1-.02 .1 .01 .1 .03 .1-0 .1 .01 .1 .01 .1 .05 .1 0 .1 .04 .1 .01 .1 .09 .1 0 .1-.02 .1 .07 .1-.08 .1 .03 .1 .07 .1-.03 .1 .02 .1 .01 .1 .02 .1 .07 .1 .06 .1 .01 .1 .06 .1-.03 .1 .04 .1 .03 .1-.03 .1 .03 .1-.04 .1 .04 .1 .03 .1-.05 .1 .1 .1-.09 .1 .05 .1-.05 .1 .07 .1-.03 .1 .08 .1-.11 .1 .1 .1 .02 .1 .04 .1 .06 .1 .04 .1-.02 .1 .05 .1-.04 .1 0 .1 .02 .1 0 .1 .02 .1 .08 .1-.02 .1-.06 .1 .07 .1 .04 .1 .13 .1-.04 .1-.01 .1 .05 .1-.08 .1 .16 .1-.05 .1-.02 .1 .08 .1-.06 .1-0 .1 .08 .1 .06 .1-.07 .1 .02 .1 .02 .1 .06 .1 .01 .1 .06 .1 .01 .1 .05 .1 .03 .1-.09 .1 .09 .1 .03 .1-.09 .1 .01 .1 .01 .1-0 .1-.03 .1 .12 .1 .03 .1 .06 .1 .02 .1-.04 .1 .03 .1-.01 .1 .14 .1-.1 .1 .06 .1 .04 .1-.05 .1 .04 .1 .03 .1 .07 .1-.08 .1 .08 .1 .03 .1 .01 .1-.04 .1 .09 .1-.01 .1-.02 .1 .04 .1 .17 .1-.07 .1-.02 .1 .08 .1-.07 .1 .04 .1 .01 .1-.03 .1-.01 .1 .16 .1-.11 .1 .03 .1 .08 .1 .04 .1 .01 .1 0 .1 .07 .1-.09 .1 .01 .1 .06 .1 .03 .1 .02 .1 .06 .1 .02 .1 .06 .1-.06 .1 0 .1 .06 .1 .02 .1-.04 .1 .02 .1 .07 .1 .09 .1-.02 .1-.01 .1-.01 .1-.01 .1 .02 .1-.02 .1 .06 .1 .02 .1 .01 .1 .08 .1-0 .1-.1 .1 .08 .1-.01 .1-.01 .1-0 .1 .05 .1 .1 .1-.03 .1 .11 .1-.04 .1 .06 .1-.12 .1 .19 .1 .01 .1-.06 .1 .15 .1-.04 .1 .01 .1 .16 .1 .04 .1 .03 .1 .02 .1 .03 .1-.11 .1 .09 .1 .09 .1-.06 .1-.05 .1-.05 .1-.03 .1-.03 .1 .07 .1-.11 .1 .22 .1-.02 .1-.09 .1 .19 .1 .07 .1 .03 .1 .07 .1 .02 .1-.01 .1-.1 .1-.02 .1 .06 .1 .08 .1-.15 .1 .06 .1 .02 .1 .07 .1-.02 .1 .16 .1 .01 .1 .05 .1-.04 .1-.01 .1 .04 .1 .03 .1-.02 .1-.04 .1 .09 .1 .06 .1-0 .1 .06 .1-.01 .1-.07 .1 .16 .1-.04 .1 .04 .1 .01 .1-.03 .1 .02 .1 .2 .1 .09 .1 .1 .1-.11 .1 .03 .1-.03 .1 .05 .1-.09 .1 .01 .1-.02 .1 .08 .1 .08 .1-.08 .1 .11 .1 .17 .1-.05 .1-.01 .1 .04 .1 .06 .1-.07 .1-.09 .1 .02 .1 .13 .1-.12 .1 .18 .1-.07 .1 .08 .1-.08 .1 .03 .1 .21 .1-.12 .1-.01 .1 .12 .1-.04 .1 .02 .1 .02 .1 .02 .1 .12 .1-.16 .1 .15 .1-.07 .1 .19 .1-.01 .1 .12 .1-.06 .1 .06 .1-.03 .1-.02 .1 .02 .1-.02 .1 .04 .1 .02 .1 .11 .1 .01 .1-.02 .1-.04 .1 .08 .1 .04 .1 .02 .1-.08 .1 .08 .1-.11 .1 .06 .1-.02 .1 .1 .1-.05 .1 .04 .1 .15 .1 .04 .1-.12 .1 .21 .1-.04 .1-.01 .1-.11 .1 .09 .1-.03 .1-.05 .1 .02 .1 .14 .1 .16 .1 .2 .1-.26 .1 .14 .1-0 .1 .02 .1 .06 .1 .05 .1-.04 .1 .13 .1-.04 .1 .04 .1 .02 .1-.12 .1 .19 .1-.13 .1 .1 .1 .01 .1-.01 .1 .06 .1-.09 .1 .15 .1-.04 .1-.01 .1 .1 .1 .05 .1 .01 .1-.07 .1 .13 .1-.04 .1 .09 .1-0 .1-.05 .1 .03 .1 .07 .1 .02 .1 .08 .1-.04 .1-.01 .1-.03 .1 .13 .1 .05 .1-.26 .1 .25 .1-.09 .1 .1 .1 .08 .1-0 .1 .24 .1-.21 .1-.05 .1-.03 .1 .17 .1-.07 .1 .05 .1-.05 .1 .19 .1-.03 .1 .06 .1-.07 .1 .11 .1 .04 .1 .02 .1 .19 .1-.2 .1 .05 .1-.08 .1 .07 .1-.12 .1 .11 .1-.03 .1 .05 .1 .02 .1 .23 .1-.15 .1 .21 .1-.06 .1 .28 .1-.17 .1 .08 .1-.15 .1 .23 .1-.09 .1-.04 .1 .08 .1 .14 .1-.16 .1 .06 .1 .07 .1-.01 .1-.15 .1-.01 .1 .22 .1-0 .1 .05 .1 .06 .1-.01 .1 .11 .1-.04 .1 .09 .1 .01 .1-.08 .1 .01 .1 .11 .1-.11 .1 .13 .1 .02 .1-.05 .1 .22 .1-.17 .1 .2 .1-.02 .1-.03 .1 .14 .1-.08 .1 .2 .1-.28 .1 .26 .1-.04 .1-.05 .1-.14 .1-.01 .1-.03 .1 .29 .1 .06 .1 .2 .1 .05 .1 .01 .1-.2 .1 .12 .1 0 .1 .06 .1-.27 .1 .33 .1-.21 .1 .18 .1 .02 .1 .16 .1-.11 .1-.03 .1-.07 .1 .01 .1-.03 .1 .1 .1-.04 .1 .21 .1-.14 .1 .19 .1-.03 .1-.02 .1 .12 .1-.13 .1 .22 .1 .01 .1-.05 .1 .07 .1 .02 .1 .03 .1-.05 .1 0 .1 .14 .1-.15 .1 .35 .1-.12 .1 .12 .1 .15 .1-.14 .1 .06 .1 .06 .1-.09 .1 .17 .1-.24 .1 .13 .1 .07 .1 0 .1-.05 .1 .21 .1 .05 .1-.06 .1 .12 .1-.12 .1 .22 .1-.04 .1 .07 .1 .01 .1-.01 .1-.01 .1-.1 .1-.01 .1 .07 .1 .17 .1-.09 .1-.09 .1-.04 .1 .12 .1-.08 .1 .15 .1-.19 .1-.06 .1-0 .1 .22 .1 .21 .1-.07 .1 .25 .1 0 .1-.17 .1 .16 .1-.17 .1 .15 .1-.04 .1 .12 .1-.15 .1 .11 .1 .12 .1-.05 .1 .06 .1 .02 .1 .16 .1-.08 .1 .05 .1 .01 .1-.03 .1 .01 .1-.08 .1 .08 .1 .08 .1-.08 .1 .12 .1 .27 .1 .2 .1-.11 .1-.12 .1 .06 .1-.13 .1-.04 .1 .04 .1 .04 .1 .16 .1 .17 .1 .03 .1-.24 .1 .36 .1-.18 .1-.05 .1 .05 .1 .21 .1-.22 .1 .15 .1 .16 .1 .03 .1 .07 .1-.19 .1-.1 .1 .03 .1 .19 .1-.03 .1 .05 .1-.1 .1-.04 .1 0 .1 .07 .1-.01 .1 .18 .1-.03 .1-0 .1 .17 .1-.28 .1 .03 .1 .1 .1-.01 .1-.14 .1-.09 .1 .08 .1 .26 .1 .1 .1-.21 .1 .21 .1 .09 .1 .16 .1 .05 .1-.15 .1-.03 .1 .1 .1-.02 .1 0 .1 .17 .1-.06 .1-.27 .1 .29 .1 .14 .1-.12 .1 .4 .1-.05 .1-.03 .1-.14 .1 .11 .1-.07 .1-.28 .1-.09 .1 .49 .1-.08 .1-.12 .1 .4 .1-.41 .1 .22 .1-.09 .1 .01 .1 .21 .1 .3 .1-.32 .1 .29 .1-.21 .1 0 .1 .16 .1-.21 .1 .43 .1-.19 .1 .02 .1 .25 .1 .07 .1-.05 .1 .05 .1 .05 .1-.29 .1-.15 .1 .31 .1 .12 .1-.08 .1 .17 .1-.01 .1-.04 .1 .3 .1-.01 .1 .14 .1 .01 .1-.57 .1 .13 .1 .1 .1 .23 .1-.22 .1 .11 .1-.2 .1 .27 .1 .01 .1-.01 .1-.05 .1-.16 .1 .29 .1-.27 .1 .02 .1 .05 .1 .15 .1 .28 .1-.02 .1 .2 .1 .06 .1 .09 .1-.2 .1-.31 .1 .34 .1-.37 .1 .14 .1 .08 .1-.02 .1 .18 .1 .16 .1 .05 .1-.12 .1-.16 .1 .03 .1 .02 .1 .21 .1 .15 .1 .07 .1 .17 .1 .18 .1-.38 .1-.15 .1 .06 .1 .19 .1-.32 .1 .23 .1-.04 .1-.17 .1-.1 .1 .3 .1-.12 .1 .18 .1 .29 .1-.15 .1-.23 .1 .28 .1-.09 .1 .39 .1-.17 .1-.1 .1 .11 .1-.06 .1-.12 .1-.06 .1 .13 .1-.07 .1 .11 .1 .16 .1 .12 .1-.19 .1 .15 .1-.16 .1-.12 .1 .42 .1 .11 .1-.22 .1-.01 .1-0 .1 .23 .1 .17 .1-.05 .1-.22 .1 .23 .1-.21 .1 .17 .1 .11 .1 .02 .1-.28 .1 .14 .1 .08 .1 .06 .1-.13 .1 .16 .1 .19 .1-.31 .1 .33 .1 .36 .1-.31 .1-.09 .1 .14 .1-.06 .1-.11 .1-.33 .1 .31 .1 .05 .1 .05 .1 .18 .1-.39 .1 .11 .1 .2 .1 .13 .1-.18 .1-.01 .1 .21 .1-.01 .1 .12 .1-.12 .1 .1 .1-.24 .1 .26 .1-.05 .1-.14 .1-.18 .1 .34 .1 .07 .1 .01 .1 .31 .1 .28 .1-.21 .1 .23 .1-.1 .1-.15 .1-.01 .1 .27 .1 .02 .1-.01 .1-.15 .1 .06 .1 0 .1-.24 .1-.07 .1 .05 .1 .24 .1 .09 .1-.02 .1 .17 .1 .17 .1-.37 .1 .26 .1-.19 .1 .27 .1-.43 .1 .3 .1-.28 .1 .27 .1 .04 .1 .07 .1 .24 .1-.17 .1 .24 .1 .05 .1-.23 .1 .05 .1-.17 .1 .03 .1-.07 .1 .01 .1 .18 .1 .32 .1-.2 .1-.19 .1-.11 .1 .17 .1-.03 .1 .01 .1 .21 .1 .05 .1 .29 .1-.33 .1 .15 .1 .04 .1-.02 .1-.18 .1-0 .1 .18 .1 .11 .1-.37 .1 .13 .1 .24 .1-.16 .1 .16 .1 .04 .1-.2 .1 .25 .1-.31 .1-.11 .1 .26 .1 .09 .1-.21 .1 .19 .1-0 .1 .15 .1-.1 .1 .29 .1 .22 .1-.36 .1-.06 .1-.09 .1-.27 .1 .22 .1 .13 .1 .15 .1 .5 .1-.1 .1 .03 .1-.3 .1 .47 .1-.07 .1 .14 .1-.3 .1 .02 .1-.05 .1 .2 .1-.14 .1-.39 .1 .56 .1-.14 .1-.22 .1-.08 .1 .09 .1-.13 .1 .22 .1 .22 .1-.12 .1-.08 .1 .22 .1 .04 .1 .01 .1 .11 .1 .16 .1-.09 .1 .25 .1 .13 .1-.02 .1 .29 .1-.09 .1-.18 .1-.02 .1-.1 .1-.1 .1 .02 .1-.13 .1 .33 .1 .15 .1 .14 .1-.01 .1-.02 .1 .05 .1 .21 .1-.11 .1-.21 .1-.04 .1-.1 .1-.08 .1 .1 .1 .01 .1 .21 .1-.18 .1 .14 .1 .2 .1 .05 .1-.14 .1 .03 .1 .04 .1 .06 .1 .02 .1-.16 .1 .36 .1-.02 .1-.23 .1 .31 .1 .25 .1 .09 .1-.15 .1 .08 .1 .09 .1-.03 .1-.27 .1 .12 .1 .05 .1-.17 .1 .07 .1-.24 .1 .21 .1-.19 .1 .22 .1 .1 .1-.16 .1 .1 .1 .34 .1-.03 .1-.02 .1-.17 .1 .25 .1-.05 .1-.26 .1-.08 .1 .25 .1-.08 .1-.09 .1 .12 .1-.02 .1 .24 .1-.02 .1 .17 .1-.06 .1 .02 .1 .19 .1-.16 .1-.11 .1 .19 .1-.07 .1 .29 .1 .2 .1-.3 .1 .11 .1-.16 .1 .39 .1-.03 .1-.22 .1 .07 .1-.05 .1-.29 .1 .04 .1-.03 .1 .17 .1-.36 .1 .06 .1 .23 .1-.14 .1 .05 .1 .29 .1 .41 .1 .35 .1-.2 .1 .11 .1-.48 .1 .1 .1-.04 .1-.09 .1 .06 .1 .44 .1-.6 .1 .08 .1 .42 .1 .27 .1-.2 .1 .26 .1 .03 .1 .01 .1-.29 .1 .29 .1-.02 .1-.02 .1-.14 .1 .55 .1-.16 .1-.29 .1 .21 .1-.03 .1-.41 .1 .19 .1-.16 .1 .07 .1 .05 .1-.22 .1 .26 .1 .15 .1-.21 .1 .14 .1-.05 .1 .09 .1 .27 .1-.2 .1 .14 .1 .41 .1-.38 .1 .02 .1 .01 .1-.02 .1 .03 .1 .25 .1-.39 .1-.1 .1 .48 .1-.02 .1 .14 .1 .16 .1 .01 .1-.13 .1 .1 .1-.05 .1-.14 .1 .07 .1 .11 .1-.26 .1 .09 .1-.29 .1 .19 .1 .01 .1-.02 .1 .07 .1-.09 .1 .38 .1-.11 .1 .12 .1-.26 .1-.07 .1 .03 .1 .27 .1 .04 .1 .27 .1-.16 .1 .14 .1-.05 .1 0 .1 .17 .1 .01 .1-.07 .1-.22 .1 .21 .1 .12 .1 .05 .1 .29 .1-.5 .1 .14 .1-.22 .1-.11 .1 .05 .1-.29 .1 .47 .1-.21 .1 .14 .1-.1 .1 .35 .1-.29 .1 .12 .1 .59 .1-.27 .1 .08 .1-.25 .1-.08 .1 .01 .1 .21 .1-.11 .1-.1 .1-.33 .1 .45 .1 .11 .1 .17 .1-.24 .1-.24 .1 .19 .1 .34 .1-.07 .1 .06 .1-.07 .1-.09 .1 .02 .1 .06 .1 .11 .1-.3 .1 .46 .1-.02 .1-.37 .1-0 .1 .51 .1-.08 .1-.14 .1-0 .1 .54 .1 .02 .1 .07 .1 .37 .1-.49 .1-.02 .1-.12 .1 .1 .1-.46 .1 .25 .1-.2 .1 .01 .1-.17 .1-.11 .1 .65 .1 .26 .1 .12 .1-.28 .1 .03 .1-.02 .1-.28 .1-.27 .1 .24 .1-.08 .1-.15 .1 .23 .1-.33 .1 .2 .1-.02 .1 .24 .1-.16 .1-.21 .1-.12 .1 .3 .1-.28 .1 .49 .1 .1 .1 .06 .1 .11 .1 .22 .1 .16 .1-.27 .1-.39 .1 .03 .1 .12 .1-.21 .1 .4 .1-.46 .1 .31 .1-.11 .1 .37 .1-.09 .1-.04 .1 .09 .1-.07 .1-.17 .1 .25 .1-0 .1 0 .1-.13 .1-.17 .1 .21 .1-.09 .1 .28 .1 .04 .1-.28 .1 .29 .1-.03 .1 .11 .1-.08 .1 .05 .1 .37 .1-.11 .1-.24 .1 .08 .1 .25 .1-.15 .1-.05 .1-.12 .1 .18 .1 .02 .1 .07 .1-.02 .1 .08 .1-.09 .1 .54 .1-.26 .1-.12 .1 .36 .1-.5 .1 .16 .1 .02 .1 .03 .1 .14 .1-.13 .1 0 .1-.09 .1 .08 .1-.18 .1-.1 .1 .29 .1-.47" fill="none" stroke="#ff0000" stroke-width="2.0" stroke-linejoin="round" stroke-linecap="butt" stroke-dasharray="7.03 2.38 2.56 2.56 2.56 2.47" stroke-dashoffset="0"/>
</g>
<g clip-path="url(#cb)">
<rect x="100.9" y="351.9" width="3.8" height="21" fill="#0000ff"/>
<path d="M101.3,352.5 L101.5,440 L102.2,468.9 L102.9,482" fill="none" stroke="#000080" stroke-width="2"/>
<path d="M101.20,352.50l0 .75 .01 .75 -0 .75 0 .75 0 .75 0 .75 .01 .75 -0 .75 0 .75 0 .75 .01 .75 -0 .75 0 .75 0 .75 .01 .75 -0 .75 -0 .75 0 .75 0 .75 .01 .75 -0 .75 0 .75 0 .75 0 .75 .01 .76 -0 .75 0 .75 0 .75 0 .75 .01 .75 -0 .75 -0 .75 0 .75 0 .75 .01 .75 -0 .75 -0 .75 0 .75 0 .75 .01 .75 -0 .75 -0 .75 0 .75 0 .75 .01 .75 -0 .75 -0 .75 0 .75 0 .75 0 .75 .01 .75 -0 .75 0 .75 0 .75 0 .75 .01 .75 -0 .75 0 .75 0 .75 .01 .75 -0 .75 -0 .75 0 .75 0 .75 .01 .75 -0 .75 0 .75 0 .75 .01 .75 -0 .75 -0 .76 0 .75 0 .75 .01 .75 -0 .75 0 .75 0 .75 .01 .75 -0 .75 0 .75 .01 .75 -0 .75 0 .75 0 .75 .01 .75 -0 .75 0 .75 0 .75 .01 .75 0 .75 0 .75 .01 .75 0 .75 0 .75 .01 .75 -0 .75 0 .75 .01 .75 0 .75 0 .75 .01 .75 0 .75 0 .75 .01 .75 0 .75 .01 .75 -0 .75 0 .75 .01 .75 0 .75 .01 .75 -0 .75 0 .75 .01 .75 0 .75 .01 .75 0 .75 .01 .75 0 .75 .01 .75 .01 .75 .01 .75 .01 .75 .01 .75 .01 .75 .01 .75 .02 .75 .01 .75 .02 .75 .01 .75 .02 .75 .02 .75 .02 .75 .01 .75 .02 .75 .02 .75 .02 .75 .02 .75 .02 .75 .03 .75 .02 .75 .02 .75 .02 .75 .03 .75 .02 .75 .02 .75 .03 .75 .02 .75 .03 .75 .02 .75 .03 .75 .02 .75 .03 .75 .02 .75 .03 .75 .02 .75 .03 .75 .03 .75 .03 .75 .04 .75 .03 .75 .04 .75 .04 .75 .04 .75 .04 .75 .05 .74 .04 .75 .05 .75 .04 .75 .05 .75 .05 .75 .05 .75 .05 .74 .06 .75 .06 .75 .07 .75 .07 .74 .07 .75 .08 .75 .08 .74 .08 .75 .08 .75 .08 .74 .09 .75 .08 .74 .08 .75 .07 .75 .08 .74 .07 .75 .07 .75 .06 .74 .06 .75 .05 .75 .05 .75 .04 .75 .04 .74 .05 .75 .04 .75 .04 .75 .04 .75 .03 .75 .04 .75 .04 .75 .03 .75 .04 .75 .03 .75 .03 .75 .03 .75 .04 .74 .03 .75 .03 .75 .03 .75 .03 .75 .03 .75 .02 .75 .03 .75 .03 .75 .03 .75 .02 .75 .03 .75 .03 .75 .02 .75 .03 .75 .02 .75 .03 .75 .02 .75 .03 .75 .02 .75 .02 .75 .02 .75 .02 .75 .01 .75 .02 .75 .02 .75 .02 .75 .02 .75 .02 .75 .01 .75 .02 .75 .03 .75 .02 .75 .02 .75 .03 .75 .02 .75 .03 .75 .04 .75 .03 .75 .04 .75 .04 .75 .04 .75 .05 .75 .05 .75 .05 .74 .06 .75 .07 .75 .07 .75 .07 .74 .08 .75 .09 .75 .09 .75 .09 .74 .1 .75 .11 .74 .11 .75 .12 .74 .12 .74 .12 .73 .13 .73 .14 .74 .16 .74 .17 .74 .18 .75 .19 .74 .21 .74 .22 .73 .23 .72 .24 .71 .26 .7 .27 .68 .29 .67 .3 .66 .35 .74 .41 .77 .45 .77 .49 .71 .53 .6 .73 .53 .76 .13 .89-.18 .75-.23 .78-.24 .77-.2 .75-.12 .76-.11 .77-.1 .75-.08 .71-.03 .87 .13 .85 .4 .61 .43 .6 .52 .6 .58 .58 .59 .57 .59 .57 .55 .56 .49 .54 .51 .53 .54 .52 .54 .52 .55 .51 .55 .53 .54 .53 .53 .55 .5 .56 .5 .56 .5 .57 .49 .57 .49 .57 .48 .58 .49 .58 .47 .59 .48 .59 .47 .59 .46 .6 .46 .6 .45 .6 .44 .61 .44 .61 .42 .62 .42 .62 .41 .63 .4 .64 .39 .64 .39 .65 .38 .65 .37 .66 .38 .65 .37 .66 .37 .65 .37 .66 .37 .65 .37 .64 .38 .65 .39 .64 .4 .63 .41 .64 .42 .63 .42 .63 .42 .63 .42 .64 .42 .63 .4 .65 .39 .64 .37 .66 .35 .66 .33 .67 .31 .68 .27 .69 .26 .7 .25 .71 .24 .71 .23 .73 .22 .72 .22 .73 .2 .73 .2 .73 .19 .74 .18 .73 .18 .73 .18 .72 .17 .73 .17 .74 .17 .73 .17 .73 .16 .74 .16 .74 .14 .73 .15 .74 .13 .74 .13 .74 .11 .74 .11 .74 .1 .75 .1 .74 .1 .75 .1 .74 .1 .75 .09 .75 .08 .75 .08 .75 .06 .74 .05 .75 .03 .75 .02 .75-0 .75-.01 .75-.02 .75-.03 .75-.03 .76-.04 .75-.05 .75-.05 .75-.06 .74-.06 .75-.06 .74-.07 .74-.07 .74-.1 .73-.12 .73-.15 .73-.16 .73-.18 .73-.19 .73-.2 .72-.21 .73-.21 .73-.21 .73-.2 .72-.2 .73-.18 .74-.17 .73-.16 .73-.16 .74-.15 .73-.15 .74-.15 .73-.15 .74-.14 .74-.14 .73-.15 .74-.14 .74-.13 .74-.14 .74-.14 .73-.14 .74-.13 .74-.14 .74-.14 .74-.14 .74-.13 .73-.14 .74-.14 .74-.14 .74-.14 .73-.14 .74-.15 .73-.14 .74-.15 .73-.15 .74-.15 .73-.16 .73-.15 .74-.16 .73-.16 .73-.17 .73-.17 .73-.17 .72-.17 .73-.18 .73-.17 .73-.18 .73-.18 .73-.18 .73-.18 .73-.18 .73-.19 .73-.19 .73-.19 .73-.19 .73-.19 .72-.19 .73-.2 .73-.2 .72-.2 .73-.21 .72-.2 .72-.21 .72-.21 .72-.21 .72-.22 .72-.21 .72-.22 .72-.23 .71-.22 .71-.23 .71-.23 .71-.23 .71-.24 .71-.23 .7-.25 .71-.24 .7-.26 .69-.27 .69-.28 .69-.29 .69-.3 .68-.31 .68-.31 .68-.33 .68-.32 .68-.33 .68-.33 .68-.32 .67-.33 .68-.33 .68-.32 .69-.31 .68-.31 .69-.3 .69-.29 .69-.3 .69-.29 .7-.28 .69-.29 .69-.28 .7-.29 .69-.28 .7-.28 .7-.28 .69-.28 .7-.27 .7-.28 .69-.28 .7-.27 .7-.28 .7-.28 .69-.27 .7-.28 .7-.28 .69-.29 .7-.28 .69-.29 .7-.29 .69-.29 .7-.28 .69-.29 .7-.28 .7-.28 .7-.27 .7-.27 .7-.27 .7-.25 .71-.25 .7-.24 .71-.24 .72-.22 .71-.21 .72-.22 .72-.2 .72-.2 .73-.2 .72-.19 .73-.19 .73-.18 .73-.19 .73-.18 .73-.18 .73-.17 .73-.18 .73-.17 .73-.18 .73-.17 .73-.17 .73-.18 .73-.17 .73-.17 .73-.17 .73-.16 .73-.17 .74-.16 .73-.17 .73-.16 .73-.16 .74-.16 .73-.16 .73-.15 .74-.16 .73-.15 .74-.16 .73-.15 .74-.15 .73-.16 .73-.15 .74-.15 .73-.15 .74-.15 .73-.15 .74-.15 .74-.15 .73-.15 .74-.14 .73-.15 .74-.14 .74-.14 .73-.14 .74-.14 .74-.14 .74-.13 .73-.14 .74-.12 .74-.13 .74-.13 .74-.12 .74-.13 .74-.12 .74-.12 .74-.12 .74-.12 .41-.06 .1-.02 .1-.01 .1-.02 .1-.01 .1-.02 .1-.02 .1-.01 .1-.02 .1-.01 .1-.02 .1-.02 .1-.01 .1-.02 .1-.01 .1-.01 .1-.02 .1-.01 .1-.02 .1-.01 .1-.02 .1-.01 .1-.02 .1-.01 .1-.02 .1-.01 .1-.01 .1-.02 .1-.02 .1-.01 .1-.02 .1-.02 .1-.01 .1-.02 .1-.01 .1-.01 .1-.02 .1-.01 .1-.02 .1-.02 .1-.01 .1-.01 .1-.02 .1-.02 .1-.01 .1-.02 .1-0 .1-.02 .1-.02 .1-.01 .1-.01 .1-.03 .1-.01 .1-.01 .1-.02 .1-.01 .1-.01 .1-.02 .1-.01 .1-.01 .1-.02 .1 0 .1-.02 .1-.01 .1-.02 .1-.01 .1-.01 .1-.02 .1-.02 .1-0 .1-.02 .1-.02 .1-0 .1-.01 .1-.01 .1 0 .1-.02 .1-.01 .1-.01 .1-.03 .1-.04 .1 .02 .1-.04 .1-.02 .1-.02 .1 .01 .1-.01 .1-.01 .1-.02 .1 .01 .1-.03 .1-.02 .1-.01 .1-.02 .1-.01 .1-.01 .1-.04 .1 .03 .1-.04 .1 0 .1-.02 .1-.01 .1-.01 .1-.03 .1 .02 .1-0 .1-.03 .1-.01 .1-0 .1-.03 .1-.01 .1-.02 .1 .01 .1-.03 .1-.02 .1-.01 .1-.05 .1 .02 .1-.01 .1-0 .1-.01 .1-.01 .1 0 .1-.02 .1 0 .1-.01 .1-.02 .1-.02 .1-.03 .1-.01 .1-.02 .1-0 .1-.03 .1-.01 .1 .02 .1-.03 .1 0 .1 .01 .1-.03 .1 .01 .1-.02 .1-.04 .1-.02 .1-.04 .1 0 .1-.03 .1 .01 .1-.02 .1 .02 .1-.03 .1-.03 .1 .02 .1-.02 .1 .02 .1-.02 .1-.03 .1 .02 .1 .01 .1-.04 .1-.04 .1-.01 .1-.03 .1-.01 .1-.02 .1-.03 .1-.04 .1 .01 .1 0 .1 .01 .1 .01 .1-.02 .1 .01 .1-.03 .1-.01 .1-.03 .1-.01 .1-0 .1-0 .1-.03 .1-0 .1-.03 .1 .02 .1-.02 .1-.03 .1 .04 .1-.05 .1 .01 .1-.04 .1-.02 .1 .04 .1-.05 .1-.03 .1 .03 .1-.04 .1 .01 .1 .03 .1-.06 .1-0 .1 0 .1-0 .1-.01 .1 .04 .1-.04 .1 0 .1-.01 .1-.04 .1 .03 .1-.02 .1-.01 .1-.02 .1-0 .1-.09 .1 .01 .1-.01 .1-.02 .1 .02 .1-.01 .1 0 .1-.04 .1 .02 .1 .01 .1-.02 .1-.01 .1-0 .1-.02 .1-.03 .1 .04 .1-.08 .1 .02 .1-.02 .1 .01 .1-.04 .1-.02 .1 .03 .1 0 .1-.06 .1 0 .1 .06 .1-.01 .1-.01 .1 0 .1-.05 .1 .07 .1-.05 .1-0 .1-.04 .1-.07 .1 .06 .1-.03 .1 .03 .1-.02 .1 .02 .1-.05 .1-0 .1 0 .1-.03 .1-0 .1 .02 .1 .03 .1-.07 .1 .03 .1-.08 .1-.01 .1 0 .1-.02 .1-.04 .1 .07 .1 .01 .1 .06 .1 .02 .1-.04 .1-.04 .1-.01 .1-.05 .1-.02 .1-.04 .1-0 .1-.02 .1 .02 .1 .01 .1-.03 .1 .05 .1 .02 .1 .02 .1-.05 .1 0 .1-.03 .1 .03 .1-.09 .1 .05 .1-.09 .1 .11 .1-.02 .1-.09 .1 .05 .1-.02 .1-.01 .1 .05 .1-.01 .1 .06 .1-.04 .1-.03 .1 .01 .1-.01 .1-.01 .1-.03 .1-.06 .1 .03 .1 .02 .1-.01 .1 .05 .1-.04 .1 .01 .1-.01 .1 .02 .1-.09 .1 .08 .1-.13 .1-.05 .1-.05 .1 .05 .1-.04 .1 .06 .1 .03 .1-.02 .1-.02 .1 .06 .1-.04 .1-0 .1-.03 .1-.06 .1 0 .1-.09 .1-.01 .1 .12 .1-.06 .1 .02 .1 .04 .1-.02 .1-.01 .1 .05 .1-.02 .1 .05 .1-.04 .1-.01 .1 .03 .1-.09 .1-.01 .1 .07 .1 .01 .1-.05 .1-.07 .1 .04 .1-.06 .1-.02 .1-.09 .1 .1 .1 .02 .1 .04 .1 .11 .1-.02 .1-.07 .1-.02 .1 .03 .1-.04 .1-.03 .1 .02 .1-.02 .1-.05 .1 .02 .1 .02 .1 .01 .1-.08 .1-.01 .1-.02 .1-.07 .1 .07 .1-.06 .1 .04 .1-.14 .1 .05 .1 .1 .1-.12 .1-.02 .1 .08 .1 .05 .1-.04 .1-.03 .1 .1 .1 .03 .1 .03 .1 0 .1-.02 .1-.03 .1-.03 .1-.05 .1-.05 .1-.07 .1 .1 .1-.08 .1 .16 .1-.15 .1-.03 .1-.01 .1 .09 .1 0 .1 .02 .1-0 .1-.04 .1 .07 .1-.08 .1-.04 .1 .1 .1-.02 .1-.07 .1 .02 .1 .05 .1-.01 .1-.11 .1 .07 .1-.2 .1 .1 .1-.01 .1-.06 .1-.02 .1-.12 .1 .04 .1 .03 .1-.02 .1 .1 .1 .03 .1-.06 .1 .08 .1 .06 .1-.11 .1 .07 .1 .02 .1-.07 .1 .07 .1 .07 .1-0 .1-.11 .1 .07 .1-.06 .1-.04 .1 .06 .1-.06 .1-.03 .1 .02 .1-.03 .1 .05 .1-.06 .1-.08 .1 .19 .1-.05 .1-.05 .1-.07 .1-.04 .1-.03 .1-.05 .1 .1 .1-.04 .1-.05 .1 .07 .1-.04 .1 .02 .1 .03 .1 .12 .1-.2 .1 .11 .1 .03 .1 .01 .1 .09 .1-.08 .1 .03 .1 .05 .1-.05 .1 .12 .1-.17 .1 .08 .1 .01 .1-.13 .1 .05 .1-0 .1 .12 .1-.08 .1-.15 .1 .16 .1-.03 .1-.2 .1-.06 .1 .33 .1-.16 .1-.14 .1 .2 .1 .01 .1-.26 .1 .22 .1-.06 .1-.05 .1-.04 .1 .07 .1-.08 .1 .07 .1-.08 .1-.06 .1 .02 .1-.02 .1-.01 .1-.01 .1 .11 .1-.17 .1 .11 .1 .01 .1 .06 .1-.24 .1 .13 .1 .03 .1 .08 .1 .19 .1-.1 .1 .03 .1 .03 .1 .04 .1-.09 .1 .13 .1-.2 .1 .18 .1-.02 .1 .03 .1 .05 .1-.12 .1 .06 .1-0 .1-.06 .1-.02 .1-.05 .1 .08 .1-.28 .1 .03 .1 .14 .1 .12 .1-.07 .1 .13 .1-.07 .1-.01 .1-.06 .1 .16 .1 .14 .1-.18 .1-.13 .1 .08 .1-.2 .1 0 .1 .21 .1-.03 .1 .07 .1-.03 .1-.06 .1-.01 .1-.07 .1 .08 .1-.22 .1-.08 .1 .04 .1 .1 .1-.15 .1-.1 .1 .46 .1-.26 .1 .11 .1 .07 .1-.04 .1-.07 .1-.14 .1 .15 .1-.1 .1 .09 .1 .1 .1-.07 .1-.11 .1 .08 .1 .09 .1-.01 .1-.19 .1 .14 .1 .04 .1 .09 .1-.04 .1-.04 .1-.11 .1 0 .1-.04 .1-.15 .1 .11 .1 .29 .1-.04 .1 .05 .1 .18 .1-.19 .1-0 .1 .15 .1-.09 .1 .01 .1-.04 .1-.19 .1 .06 .1-.11 .1 .04 .1-.01 .1-.05 .1-.13 .1 .17 .1 .01 .1 .07 .1-.12 .1 .14 .1-.02 .1 0 .1 .04 .1 .02 .1-.11 .1 .06 .1 .01 .1 .07 .1-.06 .1 .15 .1-.08 .1-.03 .1-.01 .1-.22 .1 .09 .1 .02 .1-.29 .1 .2 .1-.05 .1-0 .1-.04 .1 .06 .1 0 .1 .15 .1 .09 .1 .08 .1-.11 .1 .18 .1-.19 .1 .07 .1-.02 .1-.13 .1 .2 .1-.28 .1-.03 .1-.08 .1 .07 .1-.13 .1 .21 .1-.08 .1-.04 .1 .11 .1-0 .1-.16 .1-.06 .1-.09 .1 .12 .1 .16 .1 .03 .1-.12 .1 .21 .1 .17 .1-.11 .1 .04 .1-.09 .1 .09 .1-.28 .1 .13 .1 .11 .1-.01 .1 .15 .1 .01 .1-.11 .1-.08 .1-.04 .1 .13 .1-.1 .1-.03 .1-.17 .1 .17 .1-.09 .1-.03 .1-.17 .1 .43 .1-.16 .1-.18 .1 .33 .1-.02 .1 .04 .1 .1 .1 .14 .1-.13 .1-.12 .1-.16 .1-.2 .1 .13 .1-.07 .1 0 .1 .08 .1 .16 .1-.18 .1 .26 .1-.1 .1 .26 .1-.07 .1-.11 .1-.02 .1-.15 .1 .03 .1 .14 .1-.03 .1 .17 .1-.37 .1 .11 .1 .12 .1 .05 .1-.01 .1-.02 .1-.09 .1 .04 .1-.28 .1-.2 .1 .21 .1-.26 .1 .29 .1 .11 .1 .12 .1-.36 .1 .19 .1-.16 .1 .18 .1-.03 .1-.16 .1 .09 .1-.2 .1 .16 .1 .03 .1 .12 .1-.16 .1-.18 .1 .43 .1-.15 .1 .14 .1 .1 .1 .25 .1-.25 .1 .09 .1-.18 .1-.22 .1 .15 .1-.06 .1-.19 .1-.19 .1 .51 .1-.06 .1-.18 .1 .04 .1 .08 .1 .07 .1-.15 .1 .12 .1 .37 .1 .11 .1-.05 .1-.05 .1-.12 .1 .1 .1-.02 .1-.21 .1 0 .1-.09 .1-.21 .1 .38 .1-.09 .1 .12 .1 .46 .1-.52 .1 .07 .1 .02 .1-.18 .1-.17 .1-.11 .1 .15 .1-.03 .1-.11 .1-.07 .1-.02 .1 .23 .1 .04 .1 .15 .1-.1 .1 .2 .1-.22 .1-.02 .1 .37 .1-.15 .1-.02 .1 .12 .1-.14 .1 .09 .1-.16 .1 .18 .1-.13 .1 .01 .1-.06 .1-0 .1-.34 .1 .2 .1-.06 .1-.12 .1 .11 .1 .1 .1-.05 .1 .16 .1-.34 .1 .02 .1 .25 .1-.27 .1 .03 .1 .1 .1 .05 .1 .05 .1-0 .1-.14 .1-.08 .1 .15 .1-.11 .1 .09 .1 .19 .1-.02 .1-.19 .1-.13 .1-.01 .1-.13 .1 .25 .1 .06 .1-.02 .1 .03 .1-.07 .1 .07 .1-.03 .1-.02 .1-.09 .1-.09 .1 .17 .1-.01 .1-.21 .1 .1 .1 .03 .1 .07 .1-.3 .1 .04 .1 .01 .1 .03 .1 .03 .1 .27 .1-.27 .1 .44 .1-.26 .1 .05 .1-.11 .1 .16 .1 .02 .1 .14 .1 .05 .1 .09 .1-.06 .1 .08 .1-.17 .1-.1 .1 .25 .1-.36 .1 .06 .1 .17 .1-.45 .1 .14 .1 .03 .1 .05 .1 .31 .1-.08 .1 .04 .1-.27 .1 .3 .1-.19 .1-.11 .1 .23 .1-.07 .1 .51 .1-.48 .1 .2 .1-.26 .1-.05 .1-.15 .1 .36 .1-.33 .1 .06 .1 .13 .1-.1 .1 .13 .1-.23 .1-.15 .1 .28 .1 .14 .1-.05 .1-.16 .1 .33 .1-.02 .1-.15 .1 .13 .1-.05 .1 .04 .1 .07 .1 .02 .1-.14 .1-.01 .1-.4 .1 .23 .1 .17 .1-.21 .1 .15 .1-.04 .1 .08 .1 .05 .1 .22 .1-.11 .1-.09 .1-.21 .1 .21 .1-.24 .1 .35 .1-.28 .1 .02 .1 .08 .1-.15 .1 .17 .1-.09 .1-.21 .1-.04 .1 .42 .1-.04 .1-.04 .1 .02 .1 .19 .1-.35 .1-.05 .1-.04 .1-.2 .1 .03 .1 .43 .1-.25 .1-.15 .1 .13 .1 .02 .1 .06 .1 .11 .1-.17 .1 .05 .1 .35 .1 .1 .1-.04 .1 .19 .1-.13 .1 .06 .1-.12 .1 .15 .1-.01 .1-.16 .1-.15 .1 .08 .1-.05 .1-.05 .1 .04 .1-.19 .1 .17 .1 .02 .1 .05 .1-.03 .1 .03 .1 .2 .1-.15 .1-.07 .1 .46 .1-.06 .1-.31 .1 .33 .1-.55 .1 .41 .1-.03 .1-.14 .1-.15 .1 .08 .1-.11 .1-.25 .1 .09 .1 .3 .1-.02 .1-.31 .1-.08 .1 .28 .1-.23 .1-.01 .1 .04 .1 .12 .1-.36 .1 .46 .1-.2 .1 .17 .1-.36 .1 .01 .1 .19 .1 .12 .1-.14 .1-.01 .1 .31 .1-.07 .1-.24 .1-.2 .1 .15 .1-.2 .1-.12 .1 .35 .1-0 .1-.09 .1 .11 .1 .14 .1-.11 .1-.03 .1 .49 .1-.54 .1-.06 .1-.06 .1 .24 .1 .1 .1-.2 .1 .41 .1 .15 .1 .04 .1-.56 .1 .34 .1 .06 .1-.65 .1-.15 .1 .55 .1-.07 .1-.04 .1 .05 .1-.24 .1 .19 .1 .23 .1 .09 .1 .06 .1-.08 .1-.33 .1-.01 .1 .17 .1-.46 .1 .35 .1-.22 .1 .2 .1 .39 .1-.06 .1 .04 .1 .15 .1 .06 .1 .06 .1-.58 .1 .2 .1-.15 .1-.28 .1 .02 .1 .35 .1 .01 .1 .14 .1-.15 .1-.14 .1-.09 .1 .27 .1-.07 .1-.06 .1 .33 .1-.31 .1 .1 .1 .16 .1-.11 .1-.08 .1 .17 .1 .34 .1-.49 .1 .24 .1 .02 .1 .01 .1 .27 .1-.33 .1 .31 .1-.5 .1 .16 .1-.24 .1 .14 .1-.02 .1-.09 .1-.06 .1-.09 .1-.17 .1 .39 .1-.19 .1 .15 .1-.59 .1 .2 .1-.34 .1 .51 .1-.34 .1-.06 .1 .35 .1-.16 .1 .11 .1-.02 .1 .28 .1-.11 .1 .09 .1 .04 .1 .28 .1 .12 .1-.25 .1 .19 .1-.48 .1 .09 .1 .01 .1 .01 .1 .28 .1-.32 .1 .02 .1 .35 .1-.19 .1 .19 .1 .01 .1-.13 .1-.02 .1 .17 .1-.24 .1-.06 .1 .16 .1-.12 .1 .05 .1 .31 .1 .53 .1-.37 .1 .15 .1-.41 .1-.19 .1-.36 .1-.23 .1-.1 .1 .44 .1-.26 .1 0 .1 .36 .1-.04 .1-.3 .1 .36 .1 .32 .1 .02 .1-.22 .1 .43 .1-.66 .1 .24 .1-.11 .1 .25 .1-.55 .1 .01 .1 .08 .1 .18 .1-.47 .1 .4 .1-.04 .1 .06 .1-.08 .1 .4 .1-.01 .1 .1 .1-.01 .1-.01 .1-.23 .1 .09 .1 .07 .1-.21 .1 .03 .1 .06 .1-.12 .1-.13 .1-.16 .1 .54 .1-.19 .1 .09 .1 .14 .1 .19 .1-0 .1-.33 .1 .12 .1 .25 .1-.37 .1 .13 .1-.18 .1-.13 .1-.03 .1 .18 .1-.09 .1-.71 .1 .36 .1 .07 .1-.2 .1 .38 .1-.08 .1 .48 .1-.48 .1 .42 .1-.45 .1 .03 .1 .36 .1-.6 .1-.09 .1-.39 .1 .39 .1 .46 .1-.14 .1 .21 .1 .27 .1-.24 .1-.19 .1 .2 .1-.16 .1-.35 .1-.18 .1 .58 .1-.4 .1 .33 .1 .28 .1-.02 .1 .07 .1-.23 .1 .88 .1-.29 .1-.5 .1-.22 .1 .18 .1-.6 .1 .52 .1-.02 .1-.52 .1 .02 .1 .66 .1-.45 .1 .19 .1-.07 .1-.32 .1 .7 .1 .18 .1-.44 .1-.03 .1 .54 .1-.65 .1 .28 .1-.21 .1-.11 .1 .14 .1-.52 .1 .26 .1 .21 .1-.23 .1-.15 .1 .73 .1-.43 .1-.28 .1 .36 .1-.09 .1-.09 .1 .13 .1-.26 .1-.06 .1 .51 .1-.39 .1 .3 .1-.8 .1 .22 .1-.02 .1 .26 .1 .03 .1 .31 .1-.03 .1-.04 .1 .08 .1 .01 .1-.14 .1-.65 .1 .44 .1 .29 .1-.19 .1 .44 .1-.39 .1 .06 .1-.26 .1 .08 .1 .21 .1 .03 .1-.12 .1-.05 .1-.13 .1-.33 .1 .48 .1-.24 .1 .26 .1-.04 .1 .24 .1-.36 .1 .32 .1-.2 .1 .36 .1-.29 .1 .11 .1-.29 .1 .75 .1-.22 .1-.67 .1 .45 .1-.15 .1-.35 .1 .46 .1-.25 .1 .08 .1 .21 .1-.32 .1 .36 .1-.34 .1 .23 .1 .18 .1-.45 .1-.16 .1 .44 .1-.48 .1 .27 .1 .04 .1 .12 .1 .39 .1-.19 .1-.39 .1 .25 .1-.13 .1-.16 .1 .05 .1 .01 .1-.16 .1-.28 .1-.23 .1 .25 .1 .09 .1 .12 .1 .43 .1 .3 .1-.35 .1 .2 .1 .18 .1-.37 .1 .18 .1-.19 .1 .07 .1-.6 .1 .13 .1 .67 .1 .32 .1-.15 .1 .38 .1-.6 .1 .26 .1-.29 .1-.04 .1-.57 .1 .22 .1 .02 .1-0 .1-.27 .1 .13 .1 .26 .1 .32 .1-.62 .1-.08 .1 .38 .1 .31 .1-.03 .1-.35 .1-.49 .1 .3 .1-.39 .1 .28 .1-.32 .1 .38 .1-.72 .1 .52 .1-.61 .1 .54 .1 .1 .1-.21 .1 .04 .1 .49 .1-.12 .1-.15 .1 .24 .1-.19 .1 .19 .1-.31 .1 .34 .1 .11 .1 .35 .1 .04 .1-.48 .1 .1 .1-.65 .1 1.07 .1-.51 .1-.05 .1-.13 .1-.17 .1-.43 .1 .22 .1 .02 .1 .15 .1-.04 .1 .55 .1 .32 .1 .08 .1 .09 .1 .59 .1-.86 .1 .03 .1 .39 .1-.41 .1 .48 .1-.74 .1 .09 .1 .38 .1-1.02 .1 .62 .1-.31 .1-.12 .1 .26 .1-.61 .1 .27 .1-.37 .1 .49 .1-.66 .1 .38 .1-.08 .1-.11 .1 .79 .1-.21 .1 .47 .1-.64 .1 .41 .1-.11 .1 .27 .1-.68 .1 .44 .1 .11 .1-.34 .1-.05 .1-.23 .1-.23 .1 .15 .1-.03 .1 .28 .1-.48 .1-.13 .1 .59 .1-.42 .1-.16 .1 .54 .1-.25 .1 .3 .1-.32 .1-.48 .1 .25 .1 .15 .1 .87 .1-.92 .1 .14 .1 .77 .1 .14 .1-.48 .1 .59 .1-.41 .1-.23 .1 .29 .1 .34 .1 .14 .1-.62 .1-.44 .1 .38 .1-.31 .1-.12 .1 .29 .1-.12 .1-.5 .1 .16 .1 .72 .1-.45 .1 .7 .1-1.29 .1 .59 .1 .51 .1-.15 .1 .53 .1-.02 .1-.61 .1 .87 .1-.17 .1-1.28 .1 .26 .1-.53 .1 .1 .1-.21 .1 .13 .1 .77 .1 .35 .1-.19 .1 .57 .1-.06 .1-.89 .1 .41 .1-.51 .1 .83 .1 .39 .1 .04 .1 .75 .1-.23 .1-.61 .1 .28 .1-.9 .1-.33 .1-.77 .1 .74 .1-.24 .1 .02 .1-.28 .1 .08 .1 .09 .1 .18 .1 .36 .1-1.02 .1 .19 .1 .23 .1 .15 .1 .04 .1-.23 .1 .06 .1 .28 .1-.41 .1-.29 .1 .43 .1-.27 .1-.51 .1 .67 .1-.72 .1-.17 .1 .43 .1-.49 .1 .01 .1 1.07 .1-.45 .1 .03 .1 .62 .1-.16 .1-.71 .1 .5 .1 .29 .1-.37 .1 .32 .1-.61 .1 .73 .1-.45 .1 .18 .1 .14 .1 1.14 .1-.04 .1-.04 .1 .11 .1-.35 .1-.23 .1 .09 .1-.26 .1 .55 .1 .56 .1-1.48 .1 .57 .1-.36 .1 .2 .1-1.19 .1 1.36 .1-.41 .1 .58 .1-.25 .1-.73 .1 .35 .1 .62 .1-.26 .1-.79 .1 .33 .1 .42 .1-.02 .1-.65 .1 .3 .1 .12 .1-.18 .1 .11 .1 .6 .1-.26 .1-.05 .1 .47 .1-.02 .1-.25 .1-.42 .1-.2 .1-.15 .1 .14 .1 .34 .1-.67 .1 .15 .1-.08 .1 .46 .1-.36 .1 .57 .1-.29 .1-.73 .1-.28 .1 .58 .1-.71 .1 .84 .1-.81 .1 .48 .1 .44 .1 .06 .1-.56 .1 .47 .1 .29 .1-.81 .1 1.28 .1-1.12 .1 .27 .1 1.03 .1-1.31 .1 .16 .1 .07 .1-.15 .1-.21 .1-.06 .1 .88 .1-.2 .1 .47 .1-.65 .1 .03 .1-.89 .1 .33 .1 .35 .1-.3 .1 .46 .1-.33 .1 .27 .1 .48 .1-.43 .1 1.76 .1-1.76 .1 .95 .1-.14 .1-.9 .1 .31 .1 .47 .1-.01 .1 .36 .1-.17 .1 .22 .1-.56 .1-.36 .1 .25 .1 .35 .1-.14 .1 .07 .1-.28 .1 .25 .1-.34 .1 .32 .1 .13 .1-.33 .1 .75 .1-1.87 .1 .63 .1-.85" fill="none" stroke="#000080" stroke-width="2.0" stroke-linejoin="round" stroke-linecap="round" stroke-dasharray="5.04 5.84" stroke-dashoffset="0"/>
<path d="M103.20,352.50l.05 .75 .06 .75 .05 .74 .06 .75 .06 .75 .05 .75 .06 .75 .06 .74 .06 .75 .06 .75 .06 .75 .06 .75 .06 .75 .06 .74 .06 .75 .05 .75 .06 .75 .05 .75 .05 .74 .05 .75 .04 .75 .05 .75 .04 .75 .04 .75 .03 .75 .03 .74 .03 .75 .02 .75 .03 .75 .02 .75 .02 .75 .02 .75 .02 .75 .02 .75 .02 .75 .02 .75 .02 .75 .01 .75 .02 .75 .01 .75 .02 .75 .01 .75 .02 .75 .01 .75 .02 .75 .01 .75 .01 .75 .02 .75 .01 .75 .01 .75 .02 .75 .01 .75 .01 .75 .02 .75 .01 .75 .01 .75 .02 .75 .01 .75 .02 .75 .01 .75 .02 .75 .01 .75 .02 .75 .02 .75 .01 .75 .02 .75 .02 .75 .02 .75 .02 .75 .02 .75 .02 .75 .02 .75 .02 .75 .02 .75 .02 .74 .02 .75 .02 .75 .02 .75 .02 .75 .02 .75 .02 .75 .03 .75 .02 .75 .02 .75 .02 .75 .02 .75 .02 .75 .02 .75 .02 .75 .03 .75 .02 .75 .02 .75 .02 .75 .02 .75 .02 .75 .02 .75 .02 .75 .02 .75 .02 .75 .02 .75 .02 .75 .02 .75 .02 .75 .02 .75 .02 .75 .02 .75 .01 .75 .02 .75 .02 .75 .02 .75 .02 .75 .01 .75 .02 .75 .02 .75 .02 .75 .02 .75 .02 .75 .02 .75 .01 .74 .02 .75 .02 .75 .02 .75 .02 .75 .03 .75 .02 .75 .02 .75 .02 .75 .02 .75 .03 .75 .02 .75 .03 .75 .02 .75 .03 .75 .02 .75 .03 .75 .03 .75 .03 .75 .03 .75 .03 .75 .03 .75 .03 .75 .04 .74 .03 .75 .03 .75 .03 .75 .04 .75 .03 .75 .03 .75 .04 .75 .03 .75 .03 .75 .04 .75 .03 .75 .04 .75 .03 .75 .03 .75 .04 .74 .03 .75 .03 .75 .04 .75 .03 .75 .04 .75 .03 .75 .03 .75 .04 .75 .03 .75 .04 .75 .03 .75 .04 .75 .03 .74 .04 .75 .03 .75 .04 .75 .04 .75 .03 .75 .04 .75 .03 .75 .04 .75 .04 .75 .03 .75 .04 .75 .04 .74 .04 .75 .03 .75 .04 .75 .04 .75 .04 .75 .04 .75 .04 .75 .04 .75 .03 .75 .04 .74 .04 .75 .04 .75 .04 .75 .04 .75 .04 .75 .04 .75 .04 .75 .03 .75 .04 .75 .04 .75 .04 .75 .03 .75 .04 .75 .04 .75 .03 .76 .04 .75 .04 .75 .04 .75 .04 .75 .04 .75 .04 .75 .04 .75 .04 .75 .05 .75 .04 .74 .05 .75 .05 .75 .05 .75 .05 .75 .05 .74 .06 .75 .05 .75 .06 .74 .06 .75 .06 .74 .07 .75 .06 .74 .07 .74 .08 .75 .09 .74 .09 .75 .11 .74 .11 .75 .12 .74 .13 .75 .14 .74 .14 .75 .15 .74 .15 .74 .16 .74 .17 .73 .17 .73 .18 .73 .18 .72 .19 .72 .19 .72 .19 .71 .2 .71 .24 .7 .25 .7 .28 .69 .29 .69 .31 .69 .33 .68 .33 .68 .34 .67 .35 .68 .35 .67 .35 .67 .35 .67 .34 .67 .34 .67 .34 .67 .34 .67 .34 .68 .35 .66 .35 .67 .36 .67 .36 .65 .37 .66 .38 .64 .39 .64 .4 .63 .41 .62 .41 .62 .43 .61 .43 .62 .44 .61 .44 .62 .45 .6 .46 .61 .47 .6 .47 .6 .48 .59 .49 .58 .49 .57 .5 .57 .5 .56 .52 .55 .51 .53 .53 .52 .53 .52 .53 .49 .55 .49 .57 .48 .57 .47 .6 .45 .6 .45 .61 .45 .62 .43 .63 .42 .64 .42 .64 .41 .64 .4 .65 .4 .64 .39 .65 .38 .64 .37 .65 .38 .65 .37 .66 .37 .66 .37 .66 .36 .67 .35 .68 .35 .68 .33 .68 .31 .69 .31 .69 .28 .69 .27 .7 .25 .7 .24 .71 .23 .71 .22 .72 .22 .73 .21 .73 .2 .73 .19 .73 .17 .74 .17 .74 .15 .73 .14 .74 .12 .74 .11 .74 .1 .74 .11 .74 .1 .75 .1 .75 .1 .75 .08 .75 .07 .75 .07 .75 .05 .74 .03 .75 .02 .75-0 .75-.01 .75-.02 .75-.03 .75-.04 .75-.04 .75-.05 .75-.05 .75-.05 .75-.06 .74-.06 .75-.06 .75-.06 .74-.08 .74-.08 .75-.1 .74-.1 .74-.12 .75-.11 .74-.12 .74-.12 .74-.12 .74-.12 .74-.12 .74-.11 .75-.12 .74-.12 .74-.12 .74-.12 .74-.12 .74-.13 .74-.12 .74-.12 .74-.11 .74-.11 .74-.1 .75-.09 .74-.09 .75-.08 .74-.07 .75-.08 .75-.06 .75-.07 .74-.07 .75-.06 .75-.07 .75-.07 .74-.07 .75-.08 .74-.08 .75-.08 .74-.1 .74-.1 .74-.1 .75-.11 .74-.11 .74-.11 .74-.12 .74-.12 .74-.12 .73-.13 .74-.12 .74-.13 .74-.13 .74-.14 .74-.13 .73-.14 .74-.14 .74-.14 .74-.14 .73-.14 .74-.15 .74-.14 .74-.14 .73-.15 .74-.14 .74-.15 .73-.14 .74-.14 .74-.15 .74-.14 .73-.14 .74-.14 .74-.14 .74-.13 .73-.14 .74-.13 .74-.14 .74-.13 .73-.13 .74-.14 .74-.13 .74-.14 .74-.13 .73-.14 .74-.13 .74-.14 .74-.13 .74-.14 .73-.13 .74-.14 .74-.13 .74-.14 .73-.13 .74-.14 .74-.14 .74-.13 .73-.14 .74-.14 .74-.14 .74-.14 .73-.14 .74-.13 .74-.14 .73-.14 .74-.15 .74-.14 .73-.14 .74-.14 .73-.15 .74-.14 .74-.14 .73-.15 .74-.14 .74-.14 .73-.15 .74-.15 .73-.14 .74-.15 .73-.15 .74-.16 .73-.15 .74-.16 .73-.15 .73-.16 .73-.16 .73-.17 .73-.17 .73-.17 .73-.17 .73-.18 .73-.17 .73-.18 .73-.18 .73-.19 .72-.18 .73-.19 .73-.18 .72-.19 .73-.19 .72-.19 .73-.2 .72-.19 .73-.19 .72-.2 .73-.2 .72-.2 .72-.2 .72-.21 .72-.21 .72-.21 .72-.21 .72-.21 .72-.21 .72-.21 .72-.22 .72-.21 .72-.21 .72-.2 .72-.21 .73-.2 .72-.19 .72-.2 .73-.2 .72-.19 .73-.19 .72-.2 .73-.19 .72-.19 .73-.19 .72-.19 .73-.18 .73-.19 .72-.19 .73-.18 .73-.18 .73-.19 .72-.18 .73-.18 .73-.18 .73-.18 .73-.17 .73-.18 .73-.17 .73-.17 .73-.17 .73-.17 .73-.17 .73-.16 .73-.17 .73-.17 .73-.17 .73-.17 .73-.17 .73-.17 .73-.17 .73-.18 .73-.18 .18-.04 .1-.02 .1-.03 .1-.02 .1-.03 .1-.02 .1-.03 .1-.03 .1-.02 .1-.02 .1-.03 .1-.02 .1-.03 .1-.02 .1-.02 .1-.03 .1-.02 .1-.02 .1-.03 .1-.02 .1-.03 .1-.02 .1-.03 .1-.02 .1-.04 .1-.01 .1-.02 .1-.04 .1-.02 .1-.02 .1-.04 .1-.03 .1-.02 .1-.02 .1-.03 .1-.01 .1-.03 .1-.02 .1-.02 .1-.02 .1-.03 .1-.05 .1-.03 .1-.03 .1-.03 .1-.01 .1-.02 .1-.01 .1-.04 .1-.02 .1-.01 .1-.03 .1-.03 .1-.02 .1-.03 .1-.01 .1-.03 .1-.03 .1-.04 .1-.03 .1-.06 .1-.01 .1-.02 .1-.05 .1-0 .1-.03 .1-.05 .1-.01 .1-.02 .1-.01 .1-.02 .1-.03 .1-.04 .1-.01 .1-.03 .1-.01 .1-.03 .1-.03 .1-.04 .1-0 .1-.03 .1-.03 .1-.02 .1-.03 .1-.02 .1-.02 .1-.04 .1 .03 .1-.07 .1 0 .1-.05 .1-.01 .1-.09 .1-.01 .1-.01 .1-.01 .1 .01 .1-.06 .1-0 .1-.04 .1-.02 .1-.03 .1-.04 .1-.02 .1-.06 .1 .01 .1-.08 .1-0 .1 .02 .1-.06 .1-0 .1 .01 .1-.04 .1-.06 .1-.01 .1-.02 .1-.04 .1-.05 .1 .03 .1-.02 .1-.06 .1-.02 .1-.06 .1 0 .1-.08 .1-.01 .1-.06 .1-.03 .1 .01 .1-.02 .1-.06 .1-.04 .1 .02 .1-.05 .1-.01 .1 0 .1-.03 .1-.07 .1 .05 .1-.08 .1-.01 .1-.05 .1-.01 .1-.07 .1 .07 .1-.04 .1-.1 .1-.04 .1-.04 .1 .05 .1-.08 .1-.03 .1-.04 .1-.02 .1-.07 .1 0 .1-.07 .1 .01 .1-.01 .1-.02 .1-.05 .1-.04 .1 .02 .1-.03 .1 .05 .1-.04 .1-.06 .1-.05 .1-.06 .1-.06 .1-.03 .1 0 .1-.01 .1-.01 .1 .03 .1-.12 .1-0 .1 .06 .1-.18 .1 .02 .1-.03 .1-.05 .1-.04 .1-.07 .1-.01 .1-.03 .1 .02 .1-.11 .1 .02 .1 .02 .1-.05 .1-.02 .1 .05 .1-.09 .1-.02 .1-.07 .1-.08 .1-.06 .1-.03 .1-.06 .1 .04 .1 .01 .1-.06 .1-.01 .1 0 .1-.09 .1 .04 .1 0 .1-.13 .1-.01 .1-.05 .1 .04 .1-.06 .1 .01 .1-.08 .1 .02 .1-.04 .1-.11 .1 .09 .1-.06 .1-.15 .1 .06 .1-.09 .1-.02 .1-.05 .1-.08 .1 .05 .1 .08 .1-.09 .1-.04 .1-.04 .1-.03 .1 .04 .1 .03 .1-.09 .1-.03 .1 .06 .1-.14 .1-.03 .1 .03 .1-.02 .1-.1 .1-.03 .1 .03 .1-.05 .1-.12 .1 .01 .1-.06 .1 .02 .1-.06 .1-.03 .1-.05 .1 .02 .1-.04 .1-.13 .1 .01 .1-.11 .1 .04 .1 .04 .1 .03 .1-.09 .1-.03 .1-.03 .1-.14 .1 .03 .1-.07 .1 .03 .1-.11 .1-.06 .1 .07 .1-.03 .1-.08 .1 .03 .1-.1 .1-.05 .1 .03 .1-.13 .1 .03 .1 .01 .1 .02 .1-.07 .1 0 .1-.07 .1 .04 .1 .08 .1-.12 .1 .16 .1-.15 .1-.05 .1-.08 .1-.03 .1-.21 .1-.1 .1 .13 .1-0 .1-.03 .1 .09 .1-.13 .1 .01 .1 .04 .1-.03 .1 .07 .1-.17 .1 .05 .1-.18 .1 .24 .1-.11 .1 .03 .1 .03 .1-.17 .1-.07 .1-.09 .1-.09 .1-.06 .1-0 .1-.08 .1-.04 .1-.05 .1 .03 .1-.03 .1-.01 .1 .08 .1-.02 .1-.04 .1 .12 .1-.11 .1-.14 .1 .08 .1-.09 .1-.16 .1 .18 .1-.12 .1 0 .1-.03 .1-0 .1-.08 .1 .19 .1-.07 .1-.04 .1 .02 .1-.04 .1 .02 .1-.12 .1-.02 .1-.2 .1 .08 .1 .04 .1 .02 .1-.14 .1-.01 .1 .1 .1-.16 .1 .06 .1 .04 .1-.14 .1 .08 .1-.14 .1 .07 .1-.02 .1 .02 .1 .03 .1 .04 .1-.27 .1-.05 .1 .05 .1-.15 .1 .09 .1-.02 .1-.09 .1 .04 .1-.19 .1 .16 .1-.21 .1 .02 .1-.07 .1-.06 .1 .02 .1-.14 .1 .01 .1 .12 .1 .13 .1-.08 .1 .04 .1 .04 .1-.11 .1-.16 .1 .28 .1-.06 .1-.38 .1 .12 .1 0 .1-.01 .1-.12 .1-.17 .1-.16 .1 .01 .1 .09 .1-.17 .1 .02 .1 .1 .1-.15 .1 .16 .1-0 .1 .09 .1-.08 .1-.11 .1-.06 .1-.07 .1-.15 .1 .02 .1 .09 .1 .06 .1 .07 .1-.2 .1 .05 .1-.18 .1 .41 .1-.22 .1 .02 .1-.04 .1-.26 .1 .07 .1-.13 .1-.11 .1 .26 .1 .16 .1-.23 .1 .26 .1-.11 .1-.03 .1-.05 .1 .03 .1-.2 .1 .07 .1-.17 .1 .07 .1-.18 .1 .06 .1 .18 .1-.14 .1-.06 .1-.11 .1 .02 .1 .09 .1 .07 .1-.08 .1-.03 .1-.09 .1 .1 .1-.22 .1 0 .1 .16 .1-.07 .1-.02 .1-.07 .1-.05 .1 .02 .1-.11 .1-.25 .1 .16 .1-.04 .1-.13 .1 .17 .1-.1 .1 .02 .1 .15 .1 .08 .1-.18 .1 .07 .1-.2 .1 .29 .1-.36 .1 .13 .1-.25 .1 .1 .1 .11 .1-.58 .1 .28 .1 .14 .1-.02 .1-.02 .1 .34 .1-.23 .1-.2 .1 .28 .1-.29 .1 .24 .1-.28 .1-.01 .1 .04 .1-.2 .1-.23 .1-.09 .1 .28 .1-.11 .1-.15 .1 .22 .1-.02 .1 .05 .1-.34 .1 .21 .1 .12 .1-.04 .1-0 .1-.42 .1 .29 .1 .01 .1 .22 .1-.41 .1 .12 .1 .09 .1 .15 .1-.11 .1 .08 .1-.35 .1 .02 .1-.21 .1 .06 .1-.04 .1-.04 .1 .41 .1-.03 .1-.23 .1-.02 .1-.02 .1-.37 .1 .05 .1 .09 .1-.01 .1-.1 .1-.23 .1 .47 .1-.08 .1-0 .1-0 .1 .09 .1-.09 .1-.07 .1 .04 .1 .02 .1-.03 .1-.1 .1 .2 .1-.28 .1 .22 .1-.26 .1 .14 .1 .1 .1-.2 .1-.15 .1 .08 .1-.01 .1-.28 .1 .13 .1 .08 .1-.1 .1 .06 .1 .07 .1 0 .1 .02 .1-.04 .1-.12 .1 .02 .1-.09 .1-.06 .1-.03 .1-.26 .1 .19 .1 .05 .1-.13 .1 .13 .1 .08 .1-.1 .1 .31 .1-.66 .1 .33 .1-.27 .1 .35 .1 .19 .1-.77 .1 .36 .1 .07 .1-.1 .1 .14 .1-.38 .1 .42 .1-.1 .1-.07 .1-.12 .1 .19 .1-.11 .1 .15 .1-.05 .1-.21 .1 .23 .1-.06 .1-.01 .1-.34 .1 .05 .1 .05 .1-.12 .1 .11 .1 .06 .1-.45 .1-.16 .1 .4 .1 .08 .1-.09 .1-.02 .1-.21 .1-.02 .1 .25 .1-.25 .1-.11 .1 .16 .1 .56 .1-.11 .1-.48 .1-.08 .1 .07 .1-.23 .1 .34 .1-.2 .1-.14 .1 .4 .1-.26 .1 .18 .1 .02 .1 .01 .1 .16 .1-.4 .1-.41 .1-.3 .1-.09 .1-.01 .1 .17 .1 .07 .1 .14 .1-.01 .1-.1 .1 .07 .1-.17 .1 .37 .1 .12 .1 0 .1-.11 .1-.01 .1 .17 .1-.18 .1 .1 .1-.05 .1-.08 .1 .14 .1-.36 .1-.02 .1-.12 .1-.05 .1 .43 .1 .08 .1-.25 .1 .13 .1 .11 .1-.1 .1 .03 .1-.45 .1 .07 .1 .13 .1 .11 .1-.29 .1-.22 .1 .13 .1 .09 .1 .11 .1 .55 .1-.22 .1-.01 .1 .24 .1-.3 .1-.27 .1-.27 .1 .12 .1 .14 .1-.24 .1 .05 .1-.2 .1 .09 .1-.12 .1 .12 .1 .15 .1-.5 .1 .21 .1 .03 .1-.16 .1 .04 .1 .19 .1 .2 .1-.25 .1-.14 .1-.5 .1 .46 .1-.5 .1-.19 .1-.09 .1 .31 .1-.08 .1 .32 .1 .17 .1-.01 .1 .11 .1-.13 .1 .49 .1-.53 .1-.35 .1 .15 .1-.24 .1-.1 .1 .17 .1 .17 .1-.23 .1 .25 .1 .33 .1-.09 .1-.12 .1 .1 .1-.03 .1-.01 .1 .12 .1-.17 .1-.46 .1 .47 .1-.14 .1 .31 .1-.21 .1 .05 .1 .17 .1-.82 .1-.22 .1-.27 .1-.12 .1 .16 .1 .5 .1-.13 .1-.21 .1 .06 .1 .38 .1-.28 .1 .06 .1 .18 .1 .24 .1 .16 .1-.13 .1-.15 .1 .02 .1 .33 .1-.06 .1-.33 .1-.1 .1-.28 .1-.3 .1-.36 .1-.19 .1 .38 .1 .02 .1 .77 .1 .09 .1-.53 .1 .34 .1-.27 .1-.74 .1 .72 .1-.09 .1 .37 .1-.54 .1 .47 .1-.17 .1-.2 .1-.17 .1 .02 .1-.55 .1 .15 .1 .05 .1 .27 .1 .08 .1 .25 .1 .03 .1-0 .1-.1 .1 .02 .1 .19 .1-.15 .1-.24 .1-.19 .1 .39 .1-.44 .1 .27 .1 .11 .1-.28 .1 .25 .1-.38 .1 .47 .1-.15 .1-.43 .1 .41 .1-.39 .1 .4 .1-.46 .1 .08 .1 .06 .1-.16 .1 .09 .1-.08 .1 .36 .1-.05 .1 .14 .1-.62 .1 .8 .1-.29 .1-.45 .1 .36 .1-.02 .1 .02 .1-.58 .1 .47 .1-.34 .1 .76 .1-.36 .1 .38 .1-.03 .1-.46 .1 .2 .1-.33 .1-.15 .1-.23 .1-.19 .1-.11 .1 .35 .1 .13 .1-.13 .1 .21 .1-.16 .1-.23 .1 .05 .1-.05 .1 .09 .1 .14 .1 .06 .1-.35 .1-.17 .1 .7 .1-.27 .1 .22 .1-.69 .1 .25 .1 .03 .1-.39 .1 .23 .1 .31 .1 .1 .1 .13 .1-.65 .1-.31 .1 .28 .1-.08 .1-.36 .1-.37 .1 .48 .1-.01 .1-.07 .1-.18 .1 .33 .1 .26 .1-.17 .1-.17 .1 .39 .1-.1 .1-.25 .1 .08 .1-.44 .1 .1 .1-.07 .1 .19 .1 .23 .1-.5 .1 .51 .1-.18 .1-.23 .1 .03 .1 .49 .1-.29 .1 .22 .1-.03 .1 .32 .1 .16 .1-.26 .1-.08 .1-.16 .1 .14 .1-.36 .1 .66 .1-.32 .1-.38 .1-.12 .1-.23 .1 .22 .1-.03 .1-.55 .1 .64 .1 .05 .1-.31 .1-.34 .1 .08 .1-.08 .1 .14 .1-.16 .1-.29 .1 .72 .1-.31 .1 .77 .1-.49 .1 .18 .1 .01 .1 .14 .1 .4 .1-.34 .1-.29 .1-.29 .1-.71 .1 .46 .1 .18 .1 .08 .1 .58 .1-.27 .1-.05 .1-.15 .1-.34 .1 .65 .1 .08 .1-.42 .1-.42 .1-.58 .1 .63 .1 .11 .1-.41 .1-0 .1-.02 .1 .18 .1-.15 .1 .68 .1 .2 .1-.56 .1 .16 .1-.42 .1 .21 .1 .04 .1-.51 .1-.33 .1 .87 .1-.32 .1 .31 .1-.7 .1 .73 .1 .36 .1 .05 .1-.63 .1 .12 .1-.13 .1 .31 .1 .05 .1-.19 .1-.32 .1 .67 .1-.26 .1 .07 .1-.34 .1 .14 .1-.38 .1-.48 .1 .41 .1 .58 .1-.47 .1 .45 .1 .24 .1 .04 .1-.2 .1-.51 .1 .02 .1 .41 .1 .03 .1 .6 .1-1 .1 .42 .1-.28 .1-.87 .1 .08 .1 .17 .1-.26 .1 .03 .1 .12 .1-.45 .1 .53 .1-.18 .1 .18 .1 .47 .1-.3 .1 .15 .1 .29 .1-.56 .1-.16 .1 .25 .1-.34 .1 .42 .1-.72 .1 .61 .1-.23 .1 .03 .1 .88 .1-.68 .1 .61 .1-.51 .1 .07 .1-.91 .1 .46 .1-.13 .1-.69 .1-.22 .1 .58 .1-.53 .1-.01 .1 .1 .1 .5 .1-.02 .1-.21 .1 .32 .1-.79 .1 .08 .1 .56 .1-.52 .1 .88 .1 .49 .1-.89 .1 .01 .1-.04 .1-.32 .1 .65 .1-.82 .1 .63 .1 .19 .1-1.07 .1 .37 .1-.46 .1 .9 .1-.43 .1 .19 .1 .17 .1 .23 .1-.22 .1 .19 .1-.19 .1 .12 .1-.5 .1 .3 .1-.73 .1 .57 .1 .89 .1-.48 .1-.32 .1 .47 .1-.55 .1-.38 .1 .14 .1 .32 .1-.02 .1-.06 .1-.17 .1 .05 .1 .86 .1-.33 .1-.36 .1-.34 .1 .27 .1 1.26 .1-1.19 .1 .35 .1 .09 .1-.25 .1-.29 .1-.62 .1-.15 .1 .66 .1-.67 .1 .68 .1-.69 .1 .62 .1 .1 .1-.05 .1-1.03 .1 .27 .1-.38 .1-.31 .1 .47 .1-.39 .1 .1 .1 .24 .1-1.02 .1 .77 .1-.41 .1-.27 .1 .66 .1 .71 .1-.08 .1 .88 .1-.8 .1-.32 .1 .71 .1-.66 .1-.08 .1-.49 .1 .68 .1-.07 .1 .25 .1-.18 .1 .38 .1-.68 .1-.14 .1-.22 .1 .92 .1-.66 .1-.11 .1 .04 .1 .14 .1-.37 .1 .26 .1-.2 .1-.05 .1-.07 .1 .43 .1-.1 .1 .28 .1 .16 .1 .19 .1-.74 .1 .75 .1 .06 .1 .35 .1-1.05 .1 .09 .1-.06 .1-.11 .1 .52 .1-.48 .1 .54 .1-.83 .1-.09 .1 1.13 .1-.25 .1 .06 .1-.19 .1-.03 .1-.76 .1 .62 .1-.69 .1 .41 .1-.46 .1-.89 .1 .11 .1 .84 .1-.4 .1-.03 .1 .29 .1-.18 .1 .13 .1 .41 .1 .19 .1 .67 .1-.62 .1 .34 .1-.36 .1-.37 .1-.58 .1-.24 .1 .11 .1-0 .1-.11 .1 .38 .1-.04 .1 1.02 .1-.24 .1-.2 .1-.59 .1 .65 .1-.17 .1-.3 .1-.1 .1-.53 .1 .95 .1-.35 .1 .88 .1-.9 .1 .03 .1 .68 .1-.42 .1 .01 .1-.3 .1-.19 .1 .71 .1-.29 .1 .1 .1-.97 .1-.04 .1-.53 .1 .58 .1-.97 .1 .69 .1 .14 .1 .05 .1-.81 .1 .88 .1-.6 .1 .07 .1-.08 .1 1.13 .1 .36 .1-.69 .1 .11 .1-.04 .1 .9 .1-.78 .1-.81 .1-.62 .1 .38 .1 .67 .1 .2 .1-.89 .1-.17 .1 .07 .1-.55 .1 1.1 .1-.84 .1 .73 .1-1.21 .1 .06 .1 .5 .1-.26 .1 .77 .1-.14 .1-.31 .1 .71 .1-.06 .1-1.25 .1 1.34 .1-.69 .1 .28 .1-.87 .1 .64 .1 .32 .1 .48 .1-1.38 .1-.13 .1-.83 .1 .35 .1 .56 .1-.49 .1 .76 .1 .78 .1 .52 .1-.51 .1-.54 .1-.49 .1-.05 .1-.07 .1 .14 .1-.27 .1 .52 .1-.5 .1-.22 .1 1.4 .1 .08 .1-.02 .1-.48 .1-.62 .1 .2 .1 .65 .1-.92 .1-.49 .1 .35 .1-.25 .1-.13 .1 .18 .1 .48 .1-.78 .1 .92 .1-.67 .1 .84 .1-.08 .1 .16 .1 .45 .1-.53 .1 .35 .1-.21 .1-.43 .1-.28 .1 .07 .1 .24 .1 .29 .1 .22 .1 1.25 .1-1.01 .1 .04 .1-.72 .1 .04 .1 .14 .1 .19 .1-.55 .1 1.11 .1-1 .1 .64 .1-1.53 .1 .94 .1 .15 .1 .09 .1 .3 .1-.02 .1 .07 .1-1 .1 .4 .1-.82 .1 1.19 .1-.22 .1-.26 .1-.32 .1 .06 .1 1.02 .1-.42 .1-1.16 .1 .22 .1-1.65 .1-.14 .1 1.05 .1 .22 .1 .55 .1 .74 .1 1.3 .1-1.6 .1 .36 .1 .15 .1-.24 .1 .19 .1 .13 .1-1.6 .1 .38 .1-.23 .1 .24 .1-.9 .1-.15 .1-.11 .1 1.63 .1 .18 .1 .28 .1-.79 .1 .36 .1-.73 .1-.85 .1-.33 .1 .61 .1 .24 .1 .05 .1 .56 .1-.21 .1 .58 .1 .26 .1 .51 .1-.01 .1-.15 .1-.51 .1-.75 .1 .83 .1-1.32 .1 .19 .1 1.1 .1-.2 .1-1.16 .1 1.25 .1 .23 .1 .66 .1-.1 .1-.09 .1-1.24 .1-.18 .1 .23 .1-.21 .1-.84 .1 .39 .1 .08 .1 .3 .1 .22 .1-.26 .1-.42 .1 1.23 .1 .21 .1-.95 .1 .25 .1-.57 .1-.19 .1-.38 .1-.5 .1 .76 .1 .33 .1-.82 .1 1.47 .1 .11 .1-.09 .1 .13 .1-.57 .1-.46 .1-.07 .1-.03 .1 .52 .1-.11 .1 .2 .1-1.49 .1 2 .1-.17 .1-1.18 .1 .31 .1-.15 .1-.14 .1-.33 .1-.11 .1-.49 .1 .35 .1-.25 .1 .27 .1-.51 .1 .54 .1 .1 .1 .42 .1-.66 .1 .93 .1 .48 .1-.01 .1-.63 .1-.21 .1-.01 .1 .35 .1 .27 .1-1.05 .1-.42 .1 .35 .1-.26 .1-.58 .1 .07 .1 .32 .1 .38 .1-.69 .1 .65 .1 1.35 .1-.33 .1 1.26 .1-.14 .1-.5 .1-.74 .1 .23 .1-.32 .1 .25 .1-.71 .1 .91 .1-1.55 .1 .24 .1-.46 .1-.05 .1-1.39 .1 .59 .1-.06 .1 1.21 .1 1.06 .1-.61 .1 .41 .1-.76 .1 .97 .1 .09 .1-.55 .1-.43 .1 1.01 .1 .59 .1 .16 .1-.37 .1-1.65 .1 .39 .1 .9 .1-1.59 .1 1.17 .1 .31 .1-.7 .1 .09 .1-.7 .1-.4 .1 .7 .1 .03 .1-.09 .1-.04 .1-.9 .1-.26 .1-.32 .1 .27 .1 1.52 .1-.27 .1 .31 .1 .03 .1-.37 .1 .95 .1-.8 .1-.82 .1 .09 .1 .04 .1-.37 .1 .66 .1-1.18 .1 1.26 .1 .15 .1-.39 .1 1.03 .1-.01 .1 .41 .1-.46 .1 .49 .1-1.36 .1-.27 .1 .47 .1-.45 .1-1.19 .1-.22 .1 1.07 .1-1.68 .1 .85 .1 .97 .1 .14 .1-.8 .1-.33 .1 2.06 .1-.77 .1-.64 .1 .51 .1 .45 .1-2.09 .1 2.01 .1-.34 .1-1.75 .1 1.52 .1-1.59 .1 1.56 .1-.55 .1 .95 .1-1.44 .1 .91 .1 1.16 .1-.43 .1 .52 .1-.02 .1-.04 .1-.81 .1 .7 .1-.29 .1-.71 .1 .52 .1-1.62 .1 .53 .1-1.14 .1 .72 .1-1.63 .1 1.21 .1 .03 .1 .37 .1 .48 .1 .72 .1 .34 .1-1.03 .1 .8 .1-.13 .1-.13 .1-.33 .1 .69 .1 .7 .1-.48 .1-0 .1 .9 .1-.44 .1-.24 .1-.07 .1-1.17 .1-.22 .1 .42 .1-1.35 .1-.08 .1 .5 .1 .2 .1-.2 .1 .97 .1-.85 .1 .06 .1-.27 .1-.74 .1-.44 .1-.91 .1 .16 .1 .68 .1 .93 .1 .82 .1-1.56 .1 1.06 .1-.6 .1 .19 .1 .38 .1 .69 .1-.2 .1 .7 .1-1.43 .1 .9 .1-.24 .1-.8 .1-.01 .1-.55 .1-.23 .1 .53 .1-.05 .1 2.32 .1-2.02 .1 1.44 .1-.81 .1 .16 .1 .24 .1-.99 .1 1.03 .1-.37 .1-1.2 .1 1.37 .1 .01 .1-.03 .1 .75 .1-1.37 .1 .48 .1 .05 .1-1.16 .1 1.23 .1-1.82 .1-.03 .1 1.03 .1-1.16 .1 .83 .1-.77 .1 1.31 .1-.57 .1 .97 .1-1.38 .1 1.11 .1-.63 .1 .04 .1-.28 .1-.07 .1-1.14 .1-1.01 .1 1.59 .1-.6 .1 .33 .1 .59 .1-1.55 .1 .91 .1 .21 .1-.19 .1 1.02 .1-.27 .1-.49 .1-.15 .1 1.13 .1-1.01 .1 .86 .1-.06 .1-1.5 .1 .57 .1 .7 .1 .17 .1 .24 .1-.04 .1 .1 .1-.91 .1 .12 .1 .67 .1-.78 .1 .96 .1-1.85 .1 1.41 .1-.64 .1-1.29 .1 1.71 .1-.71 .1-.45 .1-1 .1 .45 .1 1.66 .1-1.23 .1-1.45 .1 2.1 .1-.11 .1 .83 .1-.06 .1-.24 .1 .03 .1 1.13 .1-1.84 .1 2.15 .1-1.85 .1-.53 .1 1.12 .1-.31 .1-1.25 .1 1.2 .1-1.65 .1 .74 .1 1.52 .1-.83 .1-1.05 .1 .92 .1-.05 .1-.98 .1-1.51 .1 .78 .1 .3 .1 .01 .1 .52 .1-1.05 .1 .24 .1 .71 .1 1.27 .1-1.41 .1 1.32 .1-3.07 .1 2.22 .1-1.27 .1 1.13 .1 .5 .1-.97 .1 1.11 .1 .19 .1-.2 .1-1.5 .1-.48 .1-1.09 .1 2.76 .1-2.3 .1-.4 .1-1.28 .1 1.68 .1-.71 .1 1.72 .1-.09 .1-.26 .1 1.05 .1-.74 .1 1.11 .1 .39 .1-.46 .1 .45 .1-.59 .1 .65 .1-3.9 .1 1.66 .1-.43 .1 .06 .1 .38 .1-.09 .1-.16 .1-.26 .1 .81 .1 .01 .1-1.33 .1 1.4 .1-.54 .1 .41 .1 1.07 .1-.09 .1 0 .1-.75 .1 .45 .1-.62 .1 .84 .1 .13 .1 .67 .1-.26 .1-1.24 .1 .53 .1-.07 .1 1.19 .1 1.02 .1-1.13 .1-2.34 .1 .49 .1-.23 .1 1.14 .1-.57 .1 .03 .1 .9 .1-1.8 .1 .11 .1 2.21 .1-1.07 .1-.66 .1-.69 .1 .61 .1-.45 .1 2.1 .1-.19 .1 .53 .1-1.01 .1-.59 .1-.12 .1 1.97 .1-2.74 .1 1.46 .1-.11 .1-.07 .1-1.28 .1 .17 .1-.27 .1-.88 .1-.02 .1 .42 .1-.38 .1 .79 .1 .13 .1 .59 .1 1.05 .1 .19 .1-1.36 .1 .54 .1-.49 .1 .1 .1-.81 .1 .5 .1-.23 .1 .08 .1 1.59 .1 .42 .1-.6 .1-.3 .1-.25 .1-.67 .1-.95 .1 1.95 .1-.29 .1-.51 .1-.42 .1 1.45 .1-2.66 .1 2.47 .1-1.14 .1 2 .1-1.71 .1 1.2 .1 .3 .1 .68 .1-.61 .1-.74 .1 1.08 .1-1.76 .1-.15 .1 .46 .1-1.2 .1-.29 .1 .47 .1-.49 .1-.61 .1 .95 .1-.02 .1 2.09 .1-1.55 .1 2.19 .1-.74 .1 .27 .1-.7 .1-.27 .1-.26 .1-.05 .1-1.54 .1 1.8 .1 .04 .1 .15 .1-1.06 .1 1.3 .1-.76 .1 .38 .1-.46 .1 .47 .1 .1 .1-.23 .1-1.27 .1 .65 .1 .06 .1-2.12 .1 1.57 .1-2.45 .1 1.78" fill="none" stroke="#0000ff" stroke-width="1.8" stroke-linejoin="round" stroke-linecap="butt"/>
<path d="M101.40,373.00l.04 .75 .03 .75 .04 .75 .03 .75 .04 .75 .04 .75 .04 .75 .03 .74 .04 .75 .04 .75 .04 .75 .04 .75 .04 .75 .03 .75 .04 .75 .04 .75 .04 .75 .04 .75 .04 .75 .03 .75 .04 .75 .04 .75 .03 .74 .04 .75 .03 .75 .04 .75 .03 .75 .03 .75 .04 .75 .03 .75 .03 .75 .03 .75 .03 .75 .02 .75 .03 .75 .03 .75 .02 .75 .02 .75 .03 .75 .02 .75 .02 .75 .02 .75 .02 .75 .02 .75 .02 .75 .02 .75 .02 .75 .02 .75 .02 .75 .02 .75 .02 .75 .01 .75 .02 .75 .02 .75 .01 .75 .02 .75 .02 .75 .01 .75 .02 .75 .01 .75 .02 .75 .01 .75 .02 .75 .02 .75 .01 .75 .02 .75 .01 .75 .02 .75 .01 .75 .02 .75 .01 .75 .02 .75 .01 .75 .02 .75 .01 .75 .02 .75 .01 .75 .02 .75 .01 .75 .02 .75 .01 .75 .02 .75 .01 .75 .01 .75 .02 .75 .01 .75 .02 .75 .01 .75 .01 .75 .02 .75 .01 .75 .01 .75 .02 .75 .01 .75 .01 .75 .01 .75 .02 .75 .01 .75 .01 .75 .01 .75 .02 .75 .01 .75 .01 .75 .01 .75 .01 .75 .01 .75 .01 .75 .01 .75 .01 .75 .01 .75 .01 .75 .01 .75 .01 .75 .01 .75 .01 .75 .01 .75 .01 .75 .01 .75 .01 .75 .01 .75 .01 .75 .01 .75 .01 .75 .01 .75 .02 .75 .01 .75 .02 .75 .01 .75 .02 .75 .02 .75 .02 .75 .02 .75 .02 .75 .02 .75 .02 .75 .03 .75 .02 .75 .03 .75 .03 .75 .02 .75 .03 .75 .03 .75 .03 .75 .03 .75 .03 .75 .04 .75 .03 .75 .03 .75 .03 .75 .03 .75 .04 .75 .03 .75 .03 .75 .03 .75 .04 .75 .03 .75 .03 .75 .03 .74 .04 .75 .03 .75 .03 .75 .03 .75 .03 .75 .03 .75 .03 .75 .03 .75 .03 .75 .02 .75 .03 .75 .02 .75 .03 .75 .02 .75 .03 .75 .02 .75 .02 .75 .03 .75 .02 .75 .02 .76 .03 .75 .02 .75 .02 .75 .02 .75 .02 .75 .03 .75 .02 .75 .02 .75 .03 .75 .02 .75 .02 .75 .03 .75 .02 .75 .03 .75 .02 .75 .03 .75 .03 .75 .03 .75 .03 .75 .03 .75 .03 .75 .03 .75 .04 .74 .03 .75 .04 .75 .04 .75 .03 .75 .04 .74 .05 .75 .04 .75 .05 .75 .06 .74 .06 .75 .07 .75 .07 .75 .08 .75 .08 .74 .09 .75 .09 .75 .09 .75 .1 .74 .1 .75 .11 .74 .11 .75 .11 .74 .11 .75 .12 .74 .12 .74 .12 .74 .12 .73 .13 .74 .13 .74 .12 .73 .14 .73 .14 .74 .15 .74 .15 .73 .17 .74 .16 .74 .18 .73 .18 .74 .19 .74 .2 .73 .2 .73 .21 .73 .22 .73 .22 .72 .23 .72 .23 .72 .24 .71 .24 .71 .25 .7 .25 .69 .26 .69 .27 .69 .27 .68 .31 .66 .35 .65 .37 .65 .4 .64 .41 .63 .43 .63 .43 .62 .44 .63 .43 .63 .42 .63 .4 .63 .39 .64 .39 .65 .38 .66 .38 .65 .38 .66 .38 .65 .39 .64 .4 .64 .41 .62 .42 .61 .44 .59 .46 .58 .47 .58 .48 .57 .49 .57 .5 .57 .51 .56 .52 .55 .53 .55 .53 .54 .54 .53 .55 .53 .56 .51 .56 .51 .57 .49 .57 .48 .57 .47 .58 .46 .59 .44 .6 .44 .61 .43 .62 .43 .63 .41 .64 .41 .64 .4 .66 .38 .65 .38 .67 .37 .67 .35 .67 .34 .67 .33 .67 .32 .68 .31 .68 .29 .69 .29 .69 .28 .71 .28 .7 .26 .71 .26 .71 .25 .72 .24 .72 .23 .72 .22 .71 .22 .72 .21 .72 .2 .72 .2 .73 .19 .73 .18 .73 .18 .73 .17 .73 .17 .73 .16 .74 .16 .73 .15 .74 .15 .74 .15 .73 .15 .74 .14 .73 .16 .74 .15 .74 .15 .74 .14 .74 .14 .74 .13 .74 .12 .74 .1 .75 .09 .74 .06 .75 .05 .74 .04 .75 .04 .75 .03 .75 .04 .75 .03 .75 .02 .75 .03 .75 .02 .75 .01 .76 .01 .75 .01 .75-0 .75-.01 .75-.01 .75-.01 .75-.02 .75-.02 .75-.03 .75-.03 .75-.03 .75-.04 .75-.03 .75-.04 .74-.04 .75-.05 .75-.06 .75-.07 .74-.08 .75-.09 .75-.09 .74-.1 .74-.11 .75-.11 .74-.12 .74-.11 .74-.12 .73-.13 .74-.15 .73-.15 .73-.17 .73-.18 .73-.18 .72-.18 .73-.19 .73-.19 .73-.2 .73-.18 .72-.19 .73-.18 .73-.17 .74-.16 .73-.16 .73-.16 .74-.15 .73-.16 .74-.15 .73-.15 .73-.16 .74-.15 .73-.15 .74-.15 .73-.15 .74-.15 .73-.15 .74-.14 .74-.15 .73-.15 .74-.14 .73-.15 .74-.14 .74-.15 .73-.14 .74-.14 .74-.14 .73-.14 .74-.15 .74-.14 .74-.14 .73-.14 .74-.14 .74-.13 .73-.14 .74-.14 .74-.14 .74-.13 .73-.14 .74-.13 .74-.13 .75-.12 .74-.13 .74-.12 .74-.12 .75-.11 .74-.12 .75-.11 .74-.12 .74-.12 .75-.11 .74-.12 .74-.12 .74-.12 .74-.12 .74-.13 .74-.13 .74-.13 .74-.13 .73-.14 .73-.15 .73-.15 .73-.16 .73-.16 .72-.17 .73-.18 .72-.19 .71-.21 .72-.21 .71-.23 .71-.24 .71-.24 .71-.25 .71-.25 .71-.26 .7-.26 .71-.27 .71-.26 .7-.27 .71-.26 .7-.27 .71-.26 .7-.26 .71-.25 .71-.25 .71-.24 .71-.25 .7-.26 .71-.25 .71-.25 .7-.26 .71-.26 .7-.25 .71-.26 .7-.26 .71-.25 .71-.26 .7-.25 .71-.25 .71-.25 .71-.24 .71-.24 .71-.24 .71-.23 .71-.23 .72-.23 .71-.22 .72-.22 .72-.22 .72-.22 .71-.22 .72-.21 .72-.22 .72-.21 .72-.21 .73-.2 .72-.21 .72-.2 .73-.2 .72-.2 .73-.19 .72-.19 .73-.19 .72-.18 .73-.18 .73-.18 .73-.17 .73-.17 .73-.17 .73-.17 .73-.16 .73-.16 .74-.16 .73-.16 .74-.16 .73-.15 .74-.15 .73-.16 .74-.15 .73-.14 .74-.15 .73-.15 .74-.14 .74-.15 .73-.14 .74-.15 .74-.14 .73-.14 .74-.13 .74-.14 .74-.13 .73-.14 .74-.13 .74-.13 .74-.13 .74-.13 .74-.13 .74-.13 .74-.13 .74-.13 .73-.13 .74-.13 .74-.13 .74-.14 .74-.13 .74-.13 .73-.14 .74-.14 .74-.14 .74-.14 .73-.14 .74-.15 .74-.13 .74-.14 .73-.14 .74-.13 .74-.13 .74-.13 .74-.12 .74-.12 .74-.11 .74-.11 .75-.1 .74-.1 .74-.1 .74-.1 .75-.1 .74-.09 .41-.05 .1-.02 .1-.01 .1-.01 .1-.01 .1-.01 .1-.02 .1-.01 .1-.01 .1-.01 .1-.01 .1-.02 .1-.01 .1-.01 .1-.02 .1-.01 .1-.01 .1-.01 .1-.01 .1-.02 .1-0 .1-.02 .1-0 .1-.02 .1-.02 .1-.01 .1-.01 .1-.01 .1-.01 .1-.01 .1-.01 .1-.01 .1-.02 .1-0 .1-.02 .1-.01 .1-.02 .1-0 .1-.01 .1-.01 .1-.01 .1-.02 .1-.01 .1-.01 .1-.01 .1-.02 .1-.02 .1-.01 .1-.01 .1-.01 .1-.02 .1-.02 .1 .01 .1-.02 .1-.02 .1-0 .1-.02 .1-0 .1-.02 .1-.01 .1-.02 .1 .01 .1-.01 .1-.01 .1-.01 .1-.02 .1-0 .1-.02 .1-0 .1-.03 .1-.01 .1-.01 .1-.01 .1-.02 .1-.01 .1-.01 .1-.01 .1-.01 .1-.01 .1-.02 .1 0 .1-.02 .1-.01 .1-.03 .1 .01 .1-.02 .1-.02 .1 0 .1-0 .1 0 .1-.03 .1-.01 .1-.03 .1-.01 .1-.01 .1-0 .1-.02 .1 .01 .1-.02 .1-.01 .1-0 .1-0 .1-.02 .1-.02 .1-.03 .1-.01 .1-0 .1-.01 .1-.01 .1-.03 .1-.02 .1-.01 .1-0 .1-.02 .1-0 .1-.02 .1-0 .1 0 .1-.03 .1 .01 .1-.03 .1-.01 .1-.01 .1-.01 .1-.03 .1-.01 .1-.01 .1-.02 .1-.01 .1-0 .1-.03 .1 .02 .1-.01 .1-.03 .1 .01 .1-.02 .1-.03 .1-0 .1-.01 .1-.03 .1 0 .1-.01 .1-.03 .1 .01 .1 .01 .1-0 .1-.04 .1-.02 .1 .01 .1-.03 .1-.02 .1-.03 .1-.01 .1 .01 .1-.02 .1 .01 .1 0 .1 .01 .1-.02 .1-.02 .1-.01 .1-.02 .1-.03 .1 .01 .1-.04 .1-.03 .1-.01 .1-0 .1-.02 .1-.02 .1 0 .1-.01 .1-.02 .1-.02 .1-0 .1 0 .1-.03 .1 .01 .1-.01 .1 .01 .1-.01 .1-.01 .1-.06 .1-.04 .1-.01 .1 .03 .1 .01 .1 .01 .1 0 .1-.03 .1-.02 .1-0 .1-0 .1-.04 .1-.03 .1 .03 .1-.06 .1 .03 .1-.05 .1 .02 .1-.03 .1 .02 .1-.04 .1-0 .1-0 .1-.03 .1-.03 .1 .01 .1-.02 .1 .01 .1-.08 .1 .09 .1 .01 .1-.04 .1-.02 .1-0 .1-.03 .1-.02 .1 .02 .1-.09 .1 .02 .1 .02 .1-.02 .1 .06 .1-.04 .1-0 .1-.02 .1-.01 .1-.02 .1 .03 .1-.06 .1-.02 .1 .01 .1-.05 .1 .06 .1-.05 .1-0 .1 .03 .1-.08 .1 .06 .1-.07 .1-.02 .1 .02 .1 .01 .1-.04 .1-0 .1-.01 .1-.01 .1-0 .1-.01 .1-.03 .1-.01 .1-.02 .1 .05 .1-.02 .1 .02 .1-0 .1-.04 .1-0 .1-.04 .1-0 .1-.04 .1-.02 .1 .02 .1-.05 .1 .04 .1-.04 .1-.01 .1 .02 .1 .01 .1-.07 .1 0 .1 .02 .1 .03 .1-.13 .1 .03 .1-.02 .1-.03 .1 .07 .1-.03 .1 .01 .1-0 .1 .05 .1-.02 .1-.05 .1-.04 .1-0 .1-.04 .1-.04 .1 .01 .1-.02 .1 .05 .1-.09 .1 .05 .1-.03 .1-.01 .1-.02 .1 .05 .1-.04 .1 .05 .1-.02 .1-0 .1-.01 .1 .02 .1 .02 .1 .03 .1-.06 .1-0 .1-.01 .1-0 .1-.05 .1 .05 .1-.01 .1-.11 .1 .05 .1-.06 .1 .01 .1 .02 .1-.06 .1 .01 .1-.04 .1 0 .1-.03 .1 .01 .1-.02 .1 .01 .1-.05 .1-.06 .1 .02 .1 .07 .1-.06 .1 .05 .1-.03 .1 .02 .1 .02 .1 0 .1-.11 .1 .01 .1 .01 .1 .01 .1 .04 .1 .01 .1 .01 .1-.05 .1-.05 .1-.03 .1-.01 .1 0 .1 .02 .1-.08 .1 .02 .1-.03 .1-.04 .1 .01 .1-.05 .1 .1 .1-.07 .1-.05 .1 .01 .1-.02 .1 .02 .1 .02 .1-0 .1 .01 .1 .08 .1-.05 .1 .01 .1-.04 .1-.02 .1-.02 .1 .08 .1-.07 .1-.03 .1-.04 .1-.02 .1 .01 .1 .01 .1-.09 .1 .02 .1 .08 .1-.01 .1-0 .1-.03 .1-.03 .1 .01 .1-.01 .1 .01 .1 .02 .1-0 .1 .01 .1-.04 .1 .07 .1-.06 .1-0 .1-.01 .1-.06 .1 .07 .1-.02 .1-.02 .1-.04 .1-.06 .1 .04 .1-.03 .1 .05 .1-.12 .1 .02 .1 .01 .1 .01 .1 0 .1 .03 .1 .02 .1 .07 .1-.01 .1-.03 .1-.1 .1 .06 .1 .01 .1-.01 .1-.06 .1 .08 .1-.05 .1-0 .1 .09 .1-.04 .1-.03 .1 .04 .1-.07 .1-.08 .1 .1 .1-.08 .1-.02 .1-.04 .1 .11 .1-.07 .1-.02 .1-.03 .1 .05 .1-.11 .1 .03 .1-.03 .1-.01 .1-.02 .1-.04 .1-.01 .1 .15 .1 .03 .1-.11 .1 .13 .1-.08 .1 .07 .1-.13 .1-0 .1 .13 .1 .01 .1-.12 .1 .1 .1-.01 .1-.03 .1-.05 .1-.02 .1-.04 .1-.01 .1-.04 .1 .06 .1-.12 .1 .19 .1-.14 .1 .07 .1-.08 .1 .12 .1-.09 .1 .2 .1-.11 .1 .01 .1-.07 .1-.08 .1-0 .1 .06 .1 0 .1-.13 .1 .14 .1-.12 .1 .15 .1-.06 .1-.07 .1-.01 .1-.01 .1 .03 .1 .05 .1-.01 .1 .04 .1-.06 .1 .08 .1-.19 .1 .1 .1-.01 .1-.03 .1 .04 .1-.12 .1-.05 .1 .04 .1-.04 .1 .06 .1-.06 .1-.09 .1-.05 .1 .19 .1-.18 .1 .14 .1-.04 .1 .05 .1 .08 .1-.07 .1 .03 .1 .04 .1-.1 .1-.03 .1-.03 .1 .16 .1-.1 .1-.14 .1 .04 .1 .08 .1 0 .1 .05 .1-.06 .1 .06 .1-.06 .1-.01 .1-.01 .1 0 .1-.05 .1 .17 .1 .02 .1-.02 .1 .05 .1-.11 .1 .07 .1-.03 .1-.05 .1 .01 .1-.16 .1-.05 .1 .02 .1 .01 .1-.03 .1 .03 .1 .11 .1 .03 .1-0 .1-.07 .1-.06 .1 .09 .1 .08 .1-.06 .1-.05 .1-.01 .1 .12 .1-.1 .1 .05 .1-.1 .1 .05 .1 .05 .1 .03 .1 .14 .1-.1 .1 .04 .1 0 .1-.15 .1 .04 .1 .04 .1-.1 .1 .14 .1 .03 .1-.06 .1 .03 .1-.02 .1 .11 .1-.08 .1-.09 .1-.1 .1-.07 .1-.11 .1 .11 .1-.15 .1 .23 .1-.01 .1 .09 .1 .06 .1 .03 .1-.02 .1-.11 .1-.03 .1-.05 .1 .08 .1-.19 .1-.03 .1-.1 .1 .33 .1-.08 .1 .13 .1 .02 .1-.03 .1-.03 .1-.06 .1 .09 .1 .07 .1-.06 .1-.04 .1-.1 .1 .06 .1-.25 .1 .07 .1-.03 .1 .03 .1-0 .1 .01 .1 .05 .1-.12 .1 .1 .1 .04 .1 .18 .1-.38 .1-.03 .1 .05 .1-.17 .1 .22 .1-.21 .1 .02 .1 .26 .1-.12 .1 .03 .1-.02 .1 .2 .1-.13 .1-.06 .1 .16 .1-.14 .1 .21 .1-.1 .1 .18 .1-.26 .1 .11 .1-.08 .1-.07 .1 .04 .1 .15 .1-.08 .1 .16 .1-.07 .1 .07 .1-.04 .1-.04 .1-.04 .1 .01 .1-.22 .1 .14 .1-.06 .1-.06 .1 .12 .1-.09 .1-.2 .1 .21 .1-.01 .1 .04 .1-.07 .1 .08 .1-.17 .1-0 .1 .04 .1-.06 .1 .29 .1 .01 .1-.05 .1 .07 .1 .08 .1-.18 .1 .15 .1-.01 .1-.16 .1 .01 .1-.19 .1-.16 .1 .13 .1-.13 .1-.02 .1 .2 .1 .09 .1 .09 .1-.14 .1 .11 .1-.13 .1-.04 .1-.02 .1 .09 .1-.21 .1 .05 .1-.01 .1 .22 .1 .15 .1 .15 .1-.11 .1-.09 .1 .15 .1-.13 .1 .13 .1-.1 .1 .1 .1-.04 .1-.03 .1 .09 .1 .01 .1-.04 .1-.23 .1 .19 .1 .03 .1 .15 .1-.19 .1 .09 .1 .3 .1-.33 .1-.16 .1-.05 .1-.19 .1 .14 .1-.01 .1 .2 .1-.12 .1 .18 .1 .05 .1-.3 .1 .19 .1-.38 .1 .09 .1-.11 .1 .16 .1-.19 .1 .05 .1-.1 .1 .18 .1-.09 .1 .01 .1-.12 .1 .13 .1 .15 .1 .27 .1 0 .1 .01 .1 .09 .1 .12 .1-.02 .1-.03 .1-.22 .1 .13 .1-.21 .1 .15 .1-.06 .1-.31 .1 .02 .1 .17 .1-.1 .1 .12 .1-.13 .1 .13 .1-.04 .1 .17 .1-.26 .1-0 .1-.33 .1 .11 .1 .22 .1 .21 .1-.24 .1 .28 .1 .2 .1-.37 .1 .27 .1-.06 .1 .15 .1-.08 .1 .12 .1-.22 .1 .28 .1-.17 .1 .09 .1-.22 .1 .29 .1-.11 .1-.04 .1 .06 .1-.21 .1-.09 .1-.03 .1-.11 .1 .19 .1-.05 .1-.24 .1 .17 .1 .18 .1-.14 .1-.06 .1 .13 .1 .04 .1-.06 .1-.01 .1 .15 .1 .08 .1-.13 .1-.07 .1 .04 .1-.25 .1 .05 .1 .06 .1 .05 .1-.18 .1 .3 .1 .1 .1 .14 .1-.1 .1-.05 .1-.07 .1-.02 .1-.13 .1 .03 .1 .15 .1 .02 .1-.1 .1 .01 .1 .05 .1-.17 .1-.03 .1 .07 .1 .03 .1 .14 .1 .16 .1 .01 .1 .22 .1-.21 .1 .13 .1-.09 .1-.21 .1 .04 .1-.17 .1-.24 .1 .37 .1-.26 .1 .23 .1-.42 .1 .15 .1 .19 .1-.04 .1 .2 .1 .03 .1-.23 .1 .06 .1 .3 .1-.28 .1 .1 .1-.17 .1 .12 .1-.03 .1-.05 .1 .06 .1-.21 .1 .41 .1-.21 .1-.06 .1 .12 .1-.1 .1 .02 .1 .08 .1 .22 .1 .16 .1 .04 .1-.29 .1-.08 .1-.32 .1 .24 .1-.18 .1 .54 .1-.08 .1-.18 .1 .3 .1-.57 .1 .18 .1-.02 .1-.02 .1-.16 .1 .29 .1-.3 .1-.03 .1-.02 .1 .11 .1-.15 .1 .23 .1 .01 .1 .1 .1-.06 .1-.04 .1-.11 .1 .19 .1-.13 .1-.06 .1 .27 .1-.29 .1-.03 .1-.17 .1 .26 .1-.29 .1 .5 .1-.28 .1-.04 .1-.03 .1 .45 .1-.25 .1-.09 .1 .06 .1 .18 .1-.31 .1 .16 .1-.13 .1-.08 .1 .4 .1-.09 .1-.1 .1 .14 .1 .07 .1 .31 .1-.29 .1-.06 .1-.1 .1 .07 .1 .1 .1 .08 .1-.42 .1 .33 .1-.01 .1 .05 .1-.31 .1 .04 .1 .1 .1-0 .1-.13 .1-.09 .1 .24 .1 .08 .1 .03 .1-.01 .1 .1 .1-.35 .1 .29 .1-.34 .1 .21 .1 .04 .1 .04 .1 .01 .1 .13 .1-.2 .1 .09 .1-.26 .1 .18 .1-.04 .1-.1 .1 .17 .1-.38 .1 .2 .1-.08 .1 .36 .1-.27 .1 .16 .1 0 .1-.32 .1 .46 .1-.02 .1-.21 .1 .21 .1-.02 .1 .25 .1-.23 .1 .13 .1-.17 .1-0 .1-.32 .1-.04 .1 .16 .1-.15 .1-.02 .1 .05 .1-.04 .1 .23 .1-.05 .1-.02 .1 .11 .1 .01 .1 .03 .1-.34 .1 .22 .1-.3 .1 .34 .1-.1 .1 .34 .1-.18 .1 .1 .1 .07 .1 .06 .1-.13 .1-.13 .1-.2 .1-.2 .1 .45 .1-.45 .1-.64 .1 .59 .1 .33 .1 .01 .1-.08 .1-.04 .1 .18 .1-.03 .1 .08 .1 .05 .1-.15 .1-.13 .1 .06 .1-.29 .1 .07 .1 .22 .1-.27 .1 .47 .1-.22 .1 .38 .1-.44 .1-.22 .1 .1 .1-.55 .1 .2 .1 .63 .1-.06 .1 .19 .1 .18 .1-.18 .1-.14 .1-.12 .1-.3 .1 .09 .1 .35 .1-.48 .1 .64 .1-.49 .1 .11 .1 .53 .1-.29 .1-.07 .1-.04 .1-.31 .1-.11 .1 .19 .1 .08 .1-.27 .1 .3 .1 .12 .1 .12 .1-.25 .1 .1 .1-.18 .1-.23 .1 0 .1 .27 .1-.24 .1-.24 .1 .47 .1-.31 .1-.13 .1 .14 .1-.24 .1 .18 .1 .42 .1-.1 .1-.09 .1 .45 .1 .02 .1-.12 .1 .07 .1-.15 .1 .13 .1 .22 .1-.29 .1-.1 .1-.06 .1-.11 .1 .01 .1 .44 .1-.2 .1 .06 .1-.07 .1 .18 .1 .22 .1-.11 .1 .08 .1-.3 .1 .22 .1-.47 .1 .33 .1-.3 .1 .64 .1-.48 .1-.02 .1-.03 .1 .27 .1 .06 .1 .01 .1-.3 .1 .16 .1-.01 .1 .11 .1 .15 .1-.11 .1 .1 .1-.04 .1-.39 .1 .32 .1 .02 .1-.1 .1-.03 .1 0 .1 .05 .1-.01 .1-.19 .1 .17 .1-.45 .1 .36 .1-.54 .1 .45 .1-.11 .1 .05 .1-.23 .1 .26 .1-.23 .1-.06 .1 .15 .1-.48 .1 .26 .1-.38 .1 .3 .1-.45 .1 .31 .1-.03 .1 .45 .1-.12 .1-.07 .1 .28 .1 .12 .1-.26 .1 .25 .1-.13 .1 .25 .1-.18 .1 .18 .1 .07 .1-.43 .1 .28 .1-.49 .1-.05 .1 .06 .1-.2 .1-.12 .1 .46 .1 .09 .1 .26 .1-.03 .1 .42 .1-.31 .1 .28 .1-.28 .1 .08 .1-.23 .1-.05 .1 .26 .1-.1 .1-.04 .1-.21 .1 0 .1-.15 .1-.09 .1 .81 .1-.47 .1-.12 .1 .31 .1-.27 .1 .12 .1 .07 .1-.17 .1 .02 .1-.08 .1 .16 .1 .19 .1 .05 .1 .24 .1-.32 .1-.71 .1 .17 .1 .04 .1-.09 .1 .05 .1 .02 .1 .2 .1-.25 .1-.26 .1 .2 .1 .33 .1-.27 .1-.09 .1 .33 .1-.05 .1 .24 .1 .37 .1-.58 .1 .13 .1-.04 .1-.09 .1-.17 .1 .17 .1-.25 .1 .15 .1-.11 .1-.14 .1 .34 .1 .24 .1-.48 .1 .43 .1 .13 .1 .01 .1 .16 .1 .01 .1-.58 .1 .27 .1-.19 .1-.54 .1 .2 .1 .29 .1-.04 .1 .33 .1-.14 .1-.25 .1 .38 .1-.47 .1 .16 .1 .03 .1-.16 .1-.04 .1 .25 .1-.11 .1-.17 .1 .21 .1-.27 .1 .1 .1 .42 .1-.3 .1 .18 .1-.03 .1-.15 .1-.19 .1 .06 .1-.08 .1 .09 .1 .05 .1 .3 .1 .18 .1 .17 .1 .03 .1-.44 .1 .05 .1-.43 .1 .29 .1-.5 .1 .39 .1-.03 .1-.18 .1-.04 .1 .06 .1 .02 .1-.04 .1-.01 .1 .02 .1 .33 .1 .06 .1 .12 .1-.11 .1 .27 .1 .01 .1-.25 .1-.11 .1 .11 .1 .14 .1-.19 .1-.03 .1 .39 .1-.43 .1-.16 .1-.08 .1 .47 .1-.16 .1 .06 .1 .15 .1-.05 .1 .15 .1 .46 .1-.43 .1 .05 .1-.09 .1-.02 .1 .42 .1-.36 .1 .51 .1-.68 .1-.1 .1-.12 .1 .19 .1-.21 .1-.23 .1 .45 .1 .05 .1-.05 .1-.12 .1-.17 .1-.11 .1-.06 .1 .47 .1-.26 .1-.03 .1-.17 .1 .34 .1-.23 .1-.18 .1 .07 .1 .37 .1-.54 .1 .09 .1 .27 .1-.13 .1-.17 .1 .3 .1-.1 .1 .04 .1-.07 .1 .19 .1-.35 .1-.18 .1 .22 .1 .24 .1-.47 .1 .3 .1 .05 .1-.08 .1 .09 .1-.21 .1 .31 .1-0 .1 .06 .1-.14 .1-.19 .1 .32 .1-.19 .1 .12 .1-.6 .1 .11 .1 .07 .1 .01 .1-.13 .1 .19 .1 .25 .1-.13 .1-.02 .1 .06 .1 .14 .1 .06 .1 .03 .1-.08 .1-.02 .1 .49 .1-.22 .1-.31 .1 .02 .1 .15 .1-.03 .1 .03 .1 .31 .1-.29 .1-.11 .1 .13 .1-.01 .1-.13 .1-.07 .1 .08 .1-.64 .1 .02 .1 .51 .1-.05 .1 .37 .1-.13 .1-.25 .1-.14 .1-.23 .1 .24 .1-.09 .1-.12 .1 .07 .1 .19 .1-.17 .1 .27 .1-.16 .1-.28 .1 .06 .1 .29 .1-.18 .1 .17 .1 .05 .1 .15 .1-.04 .1-.1 .1 .28 .1-.01 .1 .13 .1-.08 .1 0 .1-.09 .1 .11 .1 .22 .1-.37 .1 .15 .1-.47 .1 .5 .1-.59 .1 .5 .1-.24 .1 .06 .1-.14 .1 .25 .1-.68 .1 .29 .1 .15 .1-.17 .1-.23 .1-0 .1 .06 .1 .35 .1 .19 .1 .22 .1 .09 .1-.78 .1 .41 .1-.51 .1 .36 .1-.11 .1-.27 .1 .26 .1-.15 .1-.18 .1 .11 .1 .02 .1 .21 .1-.06 .1 .03 .1 .06 .1-.08 .1 .01 .1-.53 .1 .35 .1-.04 .1 .18 .1-.5 .1 .65 .1-.27 .1 .24 .1 .02 .1-.18 .1 .39 .1-.09 .1-.3 .1 .09 .1-.11 .1-.09 .1-.01 .1 .11 .1-.14 .1-.03 .1-.4 .1 .08 .1 .26 .1-.25 .1 .29 .1-.2 .1-.07 .1-.43 .1 .66 .1-.21 .1 .38 .1 .19 .1-.09 .1-.02 .1 .11 .1 .04 .1 .13 .1-.33 .1-.09 .1 .31 .1-.47 .1 .28 .1 .04 .1-.11 .1 .01 .1 .24 .1 .09 .1-.04 .1-.42 .1 .04 .1-.28 .1 .47 .1-.43 .1 .66 .1-.2 .1 .03 .1 .05 .1-.32 .1 .11 .1-.38 .1 .32 .1-.08 .1 .27 .1-.06 .1-.29 .1 .32 .1 .15 .1-.35 .1 .21 .1-.12 .1-.33 .1-.11 .1-.11 .1 .25 .1 .4 .1-.07 .1 .05 .1 .31 .1 .24 .1-.48 .1-.36 .1 .37 .1-.45 .1 .09 .1 .28 .1-.24 .1-.01 .1 .11 .1-.36 .1 .11 .1 .17 .1-.27 .1 .16 .1 .29 .1 .11 .1-.75 .1 .39 .1 .08 .1-.08 .1-.15 .1-.36 .1 .1 .1 .05 .1 .14 .1-.47 .1 .72 .1 .23 .1-.4 .1 .39 .1-.6 .1 .41 .1-.25 .1-.27 .1 .53 .1-.09 .1-.08 .1-.16 .1 .26 .1-.01 .1-.04 .1 .08 .1 .43 .1-.52 .1 .52 .1-.29 .1 .1 .1 .06 .1-.05 .1-.13 .1 .26 .1-.37 .1-.62 .1 .09 .1-.53 .1-.3 .1 .31 .1 .21 .1-.04 .1 .73 .1-.38 .1 .33 .1-.12 .1 .03 .1 .03 .1-.44 .1 .05 .1 .32 .1 .49 .1-.47 .1-.08 .1 .16 .1-.19 .1-.05 .1-.25 .1 .26 .1 .28 .1-.11 .1 .44 .1-.26 .1 .13 .1 .04 .1 .54 .1 .01 .1-.26 .1-.38 .1-.12 .1-.49 .1 .45 .1-.4 .1 .28 .1-.38 .1-.31 .1 .31 .1 .03 .1-.15 .1 .37 .1-.52 .1 .58 .1-.2 .1 .03 .1-.04 .1 .01 .1-.18 .1 .03 .1 .15 .1-.06 .1-.07 .1-.05 .1 .69 .1-.14 .1-.21 .1-.16 .1 .41 .1-.48 .1 .73 .1-.44 .1 .38 .1-.5 .1 .23 .1 .37 .1-.14 .1-.08 .1 .09 .1 .23 .1-.47 .1 .07 .1-.22 .1-.32 .1-.16 .1 .79 .1-.32 .1-.23 .1 .32 .1-.72 .1 .42 .1 .41 .1-.35 .1 .14 .1-.5 .1 .57 .1-.02 .1-.22 .1 .18 .1-.17 .1-.31 .1 .45 .1-.02 .1-.35 .1 .08 .1 .06 .1 .47 .1-.42 .1 .28 .1 .29" fill="none" stroke="#00ff00" stroke-width="2.0" stroke-linejoin="round" stroke-linecap="round" stroke-dasharray="6.84 3.89 1.23 4.27" stroke-dashoffset="0"/>
<path d="M104.60,352.50l.01 .75 .01 .75 .02 .75 .01 .75 .01 .75 .01 .75 .02 .75 .01 .75 .01 .75 .01 .75 .01 .75 .01 .75 .02 .75 .01 .75 .01 .75 .01 .75 .01 .75 .01 .75 .02 .75 .01 .75 .01 .75 .01 .75 .01 .75 .01 .75 .02 .75 .01 .75 .01 .75 .01 .75 .01 .75 .02 .75 .01 .75 .01 .75 .01 .75 .02 .75 .01 .75 .01 .75 .02 .75 .01 .75 .01 .75 .02 .75 .01 .75 .01 .75 .02 .75 .01 .75 .02 .75 .01 .75 .02 .75 .01 .75 .02 .75 .02 .75 .02 .74 .02 .75 .01 .75 .03 .75 .02 .75 .02 .75 .02 .75 .02 .75 .03 .75 .02 .75 .02 .75 .03 .75 .02 .75 .02 .75 .03 .75 .02 .75 .03 .75 .02 .75 .02 .75 .02 .75 .03 .75 .02 .75 .02 .75 .02 .75 .02 .75 .02 .75 .02 .75 .01 .75 .02 .75 .01 .75 .02 .75 .01 .75 .01 .75 .02 .75 .01 .75 .01 .75 .01 .75 .01 .75 .01 .75 .01 .75 .01 .75 .01 .75 0 .75 .01 .75 .01 .75 .01 .75 .01 .75 .01 .75 0 .75 .01 .75 .01 .75 .01 .75 0 .75 .01 .75 .01 .75 .01 .75 0 .75 .01 .75 .01 .75 .01 .75 .01 .75 .01 .75 0 .75 .01 .75 .01 .75 .01 .74 .01 .75 .01 .75 .01 .75 .01 .75 .01 .75 .01 .75 .01 .75 .01 .75 0 .75 .01 .75 .01 .75 .01 .75 .01 .75 .01 .75 .01 .75 .01 .75 .01 .75 .01 .75 .01 .75 .01 .75 .01 .75 .01 .75 .01 .75 .01 .75 .01 .75 .01 .75 .01 .75 .01 .75 .01 .75 .01 .75 .01 .75 .01 .75 .01 .75 .02 .75 .01 .75 .01 .75 .01 .75 .01 .75 .02 .75 .01 .75 .01 .75 .02 .75 .01 .75 .02 .75 .01 .75 .02 .75 .02 .75 .01 .75 .02 .75 .02 .75 .01 .75 .02 .75 .02 .75 .02 .75 .02 .75 .02 .75 .02 .75 .02 .75 .01 .75 .02 .75 .02 .75 .02 .75 .02 .75 .02 .75 .02 .75 .02 .75 .02 .75 .02 .75 .02 .75 .02 .75 .02 .75 .02 .75 .02 .75 .02 .75 .02 .75 .02 .75 .02 .74 .01 .75 .02 .75 .02 .75 .02 .75 .01 .75 .02 .76 .01 .75 .02 .75 .01 .75 .02 .75 .01 .75 .02 .75 .01 .75 .02 .75 .01 .75 .01 .75 .02 .75 .01 .75 .02 .75 .01 .75 .02 .75 .01 .75 .02 .75 .02 .75 .01 .75 .02 .75 .02 .75 .02 .75 .02 .75 .02 .75 .02 .75 .02 .75 .03 .75 .02 .75 .02 .75 .03 .74 .03 .75 .03 .75 .02 .75 .04 .74 .04 .75 .04 .75 .06 .75 .05 .74 .07 .75 .07 .75 .07 .74 .08 .75 .08 .75 .09 .74 .09 .75 .1 .74 .09 .75 .1 .74 .11 .75 .1 .74 .11 .75 .11 .74 .11 .74 .11 .75 .11 .74 .11 .74 .11 .74 .11 .74 .11 .75 .11 .74 .11 .74 .12 .74 .11 .74 .12 .75 .12 .74 .13 .75 .13 .74 .13 .74 .14 .74 .14 .74 .15 .74 .15 .74 .15 .73 .16 .73 .17 .73 .17 .73 .18 .72 .18 .72 .19 .72 .2 .71 .21 .72 .23 .71 .25 .71 .26 .71 .27 .71 .28 .7 .29 .7 .3 .7 .31 .69 .32 .69 .33 .67 .33 .68 .34 .66 .34 .66 .35 .65 .36 .65 .39 .64 .41 .63 .42 .63 .44 .62 .46 .61 .46 .6 .48 .58 .48 .57 .49 .56 .49 .55 .51 .55 .51 .55 .53 .54 .53 .54 .54 .54 .55 .52 .56 .52 .56 .51 .58 .5 .58 .49 .58 .48 .59 .46 .6 .44 .6 .43 .61 .42 .61 .4 .63 .39 .64 .38 .65 .37 .66 .36 .67 .35 .68 .34 .69 .33 .69 .32 .69 .31 .7 .29 .69 .29 .7 .27 .69 .26 .7 .26 .71 .25 .71 .24 .71 .23 .72 .23 .72 .22 .73 .21 .72 .2 .73 .19 .73 .19 .73 .17 .73 .16 .73 .16 .73 .16 .74 .15 .73 .16 .74 .15 .74 .14 .74 .13 .75 .12 .74 .11 .74 .1 .75 .08 .74 .05 .75 .05 .75 .04 .74 .03 .75 .04 .75 .03 .75 .03 .75 .03 .75 .02 .76 .02 .75 .02 .75 .01 .75-0 .75-0 .75-.01 .75-.01 .75-.02 .75-.02 .75-.02 .75-.03 .75-.03 .75-.03 .75-.04 .75-.04 .74-.04 .75-.04 .75-.05 .74-.07 .75-.08 .74-.09 .75-.09 .74-.1 .75-.11 .74-.11 .74-.1 .75-.11 .74-.1 .74-.1 .75-.1 .74-.11 .74-.1 .74-.11 .75-.11 .74-.12 .74-.11 .74-.11 .74-.11 .75-.1 .74-.11 .74-.1 .74-.1 .75-.09 .74-.1 .75-.09 .74-.09 .75-.1 .74-.09 .74-.09 .75-.09 .74-.09 .75-.1 .74-.09 .74-.1 .75-.1 .74-.1 .74-.11 .75-.1 .74-.11 .74-.1 .74-.11 .74-.11 .75-.11 .74-.11 .74-.11 .74-.11 .74-.11 .75-.12 .74-.11 .74-.11 .74-.12 .74-.11 .74-.11 .74-.12 .74-.11 .75-.12 .74-.11 .74-.12 .74-.11 .74-.12 .74-.11 .74-.12 .74-.11 .75-.11 .74-.12 .74-.11 .74-.11 .74-.12 .74-.11 .75-.11 .74-.11 .74-.11 .74-.11 .74-.1 .75-.11 .74-.1 .74-.11 .75-.1 .74-.11 .74-.1 .74-.11 .75-.1 .74-.11 .74-.11 .75-.11 .74-.1 .74-.11 .74-.11 .74-.12 .74-.11 .74-.11 .75-.12 .74-.12 .73-.12 .74-.13 .74-.12 .74-.13 .74-.13 .74-.14 .73-.13 .74-.14 .74-.14 .73-.15 .74-.14 .74-.15 .73-.15 .74-.15 .73-.15 .74-.16 .73-.16 .73-.15 .74-.16 .73-.16 .73-.16 .73-.17 .73-.16 .73-.17 .73-.17 .73-.17 .73-.18 .73-.18 .73-.18 .73-.19 .72-.18 .73-.19 .73-.18 .72-.19 .73-.19 .73-.19 .72-.18 .73-.19 .73-.18 .72-.18 .73-.18 .73-.18 .73-.17 .73-.17 .73-.18 .73-.17 .73-.18 .73-.17 .73-.17 .73-.18 .73-.17 .73-.17 .73-.17 .73-.17 .73-.16 .74-.17 .73-.16 .73-.16 .73-.16 .74-.16 .73-.15 .73-.16 .74-.15 .73-.14 .74-.15 .73-.14 .74-.14 .74-.14 .73-.14 .74-.14 .74-.13 .74-.14 .74-.13 .73-.13 .74-.14 .74-.13 .74-.13 .74-.14 .74-.13 .73-.13 .74-.14 .74-.13 .74-.14 .74-.13 .73-.13 .74-.13 .74-.13 .74-.13 .74-.13 .74-.14 .74-.13 .73-.13 .74-.13 .74-.13 .74-.13 .74-.14 .74-.13 .73-.14 .74-.13 .74-.14 .73-.14 .74-.14 .74-.15 .73-.15 .74-.15 .73-.15 .73-.16 .74-.15 .73-.16 .74-.16 .73-.15 .73-.16 .74-.15 .73-.15 .74-.15 .73-.14 .74-.15 .74-.14 .73-.13 .74-.14 .74-.14 .73-.13 .74-.14 .74-.13 .74-.13 .24-.05 .1-.01 .1-.02 .1-.02 .1-.02 .1-.02 .1-.01 .1-.02 .1-.02 .1-.02 .1-.01 .1-.02 .1-.02 .1-.01 .1-.02 .1-.02 .1-.02 .1-.02 .1-.01 .1-.02 .1-.02 .1-.01 .1-.03 .1-.01 .1-.01 .1-.03 .1-.01 .1-.02 .1-.03 .1-.01 .1-.02 .1-.02 .1-.01 .1-.02 .1-.01 .1-.02 .1-.02 .1-.02 .1-.01 .1-.02 .1-.01 .1-.02 .1-.01 .1-.01 .1-.02 .1-.02 .1-.01 .1-.02 .1-.01 .1-.02 .1-.02 .1-.01 .1-.02 .1-.02 .1-.02 .1-.02 .1-.01 .1-.01 .1-.02 .1-.02 .1-.01 .1-.03 .1 0 .1-.03 .1-.02 .1-.01 .1-.02 .1-0 .1-.03 .1-.02 .1-.03 .1-.01 .1-.02 .1-.01 .1 .01 .1-.03 .1-.01 .1-.02 .1-.01 .1-.02 .1-.01 .1-.03 .1-0 .1-.01 .1-.02 .1-.01 .1-.03 .1-.01 .1-.02 .1-.02 .1 0 .1 0 .1-.01 .1-.01 .1-.01 .1-.01 .1-.02 .1-.05 .1-.01 .1 0 .1-.02 .1-.01 .1-.02 .1-.03 .1-.02 .1-.01 .1-.03 .1-.01 .1 .01 .1-.05 .1 .02 .1-0 .1-.02 .1-.03 .1-.03 .1-.01 .1-.04 .1 .01 .1-.01 .1-.01 .1 .01 .1-.03 .1-.03 .1-.02 .1-.02 .1-.03 .1-.01 .1 .01 .1-.03 .1 .01 .1-.01 .1-.01 .1-.02 .1-.03 .1 .04 .1-.06 .1-.03 .1-0 .1-.03 .1-.04 .1-0 .1 0 .1-.01 .1-.02 .1-.01 .1-0 .1-.03 .1 .01 .1-.02 .1-.02 .1 .02 .1-.01 .1-.05 .1-0 .1-0 .1-.05 .1-.04 .1-0 .1-.01 .1-0 .1 0 .1-0 .1-.01 .1-.04 .1 .01 .1 .02 .1-.04 .1-.04 .1-.02 .1 .01 .1-.09 .1 .01 .1-.01 .1-.02 .1 0 .1-.01 .1-.02 .1 .01 .1-.01 .1-.01 .1-.01 .1-.01 .1-.02 .1-.02 .1-.04 .1 0 .1-.02 .1-.03 .1 0 .1 0 .1 0 .1 .02 .1-.03 .1 .02 .1-.03 .1-.01 .1-.02 .1 .01 .1-.01 .1-.02 .1-.04 .1 .02 .1 .01 .1-.02 .1-.02 .1-.02 .1-.03 .1 .01 .1-.05 .1 .01 .1-.03 .1-.01 .1-.03 .1 .01 .1-.03 .1-.01 .1-.02 .1-.02 .1-.04 .1-.01 .1-.03 .1 .02 .1 .03 .1-.01 .1 .01 .1-.02 .1 .02 .1-.1 .1-0 .1 .03 .1-.05 .1 .02 .1 .03 .1-.07 .1 .02 .1 .01 .1 .01 .1-.05 .1 .01 .1-.04 .1-.01 .1-.03 .1-.01 .1 0 .1 .01 .1-.04 .1-.01 .1 .03 .1 .02 .1-.01 .1-.02 .1 .02 .1-.02 .1-.03 .1 .05 .1-.07 .1-.03 .1-.02 .1-.05 .1-.01 .1-.03 .1-.01 .1 .01 .1-.06 .1 .08 .1-.01 .1-.03 .1-0 .1-.04 .1 .03 .1 .01 .1-0 .1-.01 .1-.02 .1 .04 .1-.01 .1-.07 .1 .06 .1-.03 .1-.06 .1 .01 .1-0 .1 .03 .1-.07 .1 .02 .1-.05 .1-0 .1 .03 .1-.05 .1 .02 .1 .01 .1 0 .1-.02 .1-.02 .1 .01 .1-.09 .1 0 .1-.03 .1 .04 .1-.01 .1-.02 .1 0 .1 .05 .1-.11 .1 .05 .1-.02 .1 .02 .1-.03 .1-0 .1-.06 .1-.02 .1-.01 .1 .02 .1 .01 .1 .01 .1-.06 .1 .07 .1-.04 .1-.01 .1-.05 .1 .03 .1-.02 .1-.04 .1-.06 .1-.02 .1 .09 .1-.1 .1 .06 .1-.04 .1 .03 .1 .03 .1-.02 .1 .02 .1-.06 .1 .04 .1-0 .1 .05 .1-.06 .1 .05 .1-.08 .1 .01 .1-.04 .1 0 .1-.02 .1 .04 .1-.04 .1-.04 .1-.06 .1 .11 .1-.05 .1-.01 .1-.04 .1 .04 .1-.08 .1 .05 .1-0 .1 0 .1-.01 .1-.04 .1 .11 .1-.06 .1 .02 .1-.05 .1 .01 .1-.03 .1 .02 .1-.03 .1-.06 .1-.02 .1 .03 .1-.02 .1 .06 .1 .03 .1-.02 .1-.08 .1 .07 .1-.12 .1 0 .1-.03 .1-.03 .1 .11 .1-.07 .1 .02 .1-.04 .1 0 .1 0 .1-.01 .1 .03 .1-.05 .1 .05 .1-.02 .1-.04 .1 .01 .1 .04 .1-.03 .1 .02 .1-.06 .1-.01 .1 .07 .1-.05 .1 .04 .1 .02 .1-.04 .1-.02 .1 .07 .1-.04 .1-.06 .1 .06 .1-.11 .1 .02 .1 .02 .1-.02 .1 0 .1-.07 .1 .08 .1-.01 .1-.04 .1 .03 .1 .01 .1 .05 .1-.09 .1-.04 .1-.05 .1-.07 .1 .08 .1 0 .1-0 .1 .08 .1 0 .1 .02 .1-.04 .1-.08 .1 .07 .1-.1 .1 .06 .1 0 .1 .01 .1-.04 .1 .04 .1-.04 .1-.02 .1-.03 .1 .01 .1-.03 .1 .06 .1-.08 .1 0 .1 .03 .1-.03 .1-.04 .1 0 .1-.02 .1 .04 .1 .06 .1 .04 .1-.15 .1 .07 .1-.02 .1-.1 .1 .11 .1-.08 .1-.03 .1 .09 .1-.02 .1 0 .1-.01 .1-.05 .1 .02 .1-.08 .1 .12 .1-.02 .1-.03 .1 .04 .1-.03 .1 .1 .1-.07 .1 .01 .1-.04 .1-.01 .1-.1 .1 .03 .1 .01 .1-0 .1 .04 .1-0 .1-.07 .1-0 .1 .01 .1-.1 .1 .16 .1 .01 .1 .02 .1-.05 .1 .1 .1-.03 .1-.08 .1-.05 .1 .03 .1-.07 .1 .02 .1-.02 .1 .1 .1-.05 .1 .09 .1-.13 .1 .09 .1-.04 .1-.04 .1-.09 .1 .08 .1 .04 .1-0 .1 .11 .1-.05 .1 .03 .1 .07 .1-.05 .1 .01 .1-.12 .1-.03 .1-.16 .1 .08 .1-.11 .1 .15 .1-.04 .1 .06 .1-.09 .1 .05 .1-.06 .1-.05 .1 0 .1-.03 .1 0 .1 .07 .1-0 .1 0 .1 .01 .1-.04 .1 .07 .1-.09 .1 .07 .1-.05 .1-.04 .1 .04 .1 .04 .1 .13 .1-.01 .1-.08 .1 .14 .1-.07 .1-.01 .1-.09 .1 .11 .1-.11 .1-.04 .1 .05 .1-.03 .1-.04 .1-.09 .1-.01 .1 .18 .1 .09 .1-.18 .1 .06 .1-.09 .1-.05 .1-.17 .1 .11 .1 .09 .1 .04 .1 .05 .1 0 .1-.1 .1 .11 .1-.09 .1 .07 .1-.09 .1 .06 .1 .04 .1-.12 .1-.06 .1 .07 .1-.03 .1 .04 .1-.11 .1 .14 .1-.05 .1 .04 .1 .12 .1-.03 .1 .02 .1 .05 .1-.16 .1 .07 .1-.03 .1-.07 .1-0 .1 .07 .1-.04 .1 .09 .1-.02 .1-.08 .1-.13 .1 .14 .1-.01 .1-.02 .1 .1 .1-.01 .1-.08 .1-.03 .1 .12 .1-.08 .1 .02 .1-0 .1-.01 .1-.21 .1-.03 .1 .07 .1 .16 .1-.04 .1-.05 .1 .06 .1-.15 .1 .27 .1-.16 .1 .09 .1-.25 .1 .24 .1 0 .1-.08 .1 .12 .1-.08 .1 .02 .1 .14 .1-.05 .1 .01 .1 .2 .1-.13 .1 .12 .1-.09 .1 .08 .1-.08 .1-.14 .1 .1 .1-.08 .1-.04 .1 .02 .1-.1 .1 0 .1-.01 .1-.12 .1 .04 .1-.06 .1-.03 .1 .16 .1 .03 .1 .02 .1-.17 .1 .19 .1-.07 .1-.17 .1 .12 .1 .01 .1-.03 .1 .02 .1-.07 .1 .25 .1-.09 .1 .1 .1 .14 .1 .1 .1-.29 .1-.1 .1-.01 .1 .05 .1-.11 .1-.14 .1-.07 .1-.04 .1 .1 .1 .01 .1 .28 .1 .05 .1 .19 .1-.14 .1-.04 .1-.02 .1-.05 .1 .09 .1-.1 .1 .19 .1-.22 .1 .25 .1-.15 .1-.02 .1-.06 .1 .07 .1-.21 .1 .03 .1 .18 .1 .02 .1 .22 .1-.27 .1-.01 .1-.04 .1-.23 .1 .1 .1-.03 .1-.1 .1 .15 .1 .21 .1-.21 .1 .02 .1 .1 .1 .12 .1-.31 .1 .11 .1-.26 .1-.05 .1-.01 .1-.23 .1 .19 .1 .26 .1 .09 .1-.28 .1 .04 .1-.04 .1-.03 .1 .06 .1-.07 .1 .23 .1 .14 .1-.11 .1 .18 .1 .02 .1 .21 .1-.4 .1-.02 .1 .12 .1-.18 .1-.07 .1-.13 .1-.02 .1 .15 .1-.09 .1-.09 .1-.05 .1 .05 .1-.06 .1 .05 .1 .03 .1-.18 .1 .39 .1-.15 .1 .02 .1 .28 .1-.1 .1-0 .1 .09 .1-.09 .1-.22 .1 0 .1 .01 .1 .12 .1 .2 .1-.28 .1 .03 .1-.15 .1 .21 .1-.01 .1-.1 .1-.2 .1 .14 .1-.14 .1 .27 .1-.01 .1 .06 .1 .19 .1 .09 .1-.18 .1-.05 .1 .03 .1-.22 .1 .08 .1-.03 .1-.07 .1 .01 .1 0 .1-.12 .1 .29 .1-.08 .1-.26 .1 .19 .1 .08 .1 .03 .1 .24 .1-.13 .1-.13 .1-.01 .1 .11 .1-.18 .1 .02 .1-.24 .1 .3 .1-.43 .1 .04 .1 .34 .1-.18 .1 .25 .1 .32 .1-.4 .1-.08 .1-.05 .1-.25 .1 .18 .1 .17 .1-.11 .1 .09 .1 .08 .1-.18 .1-.07 .1 .21 .1-.21 .1-.17 .1 .22 .1 .02 .1-.22 .1 .04 .1 .29 .1 .21 .1-.04 .1-0 .1-.16 .1 .01 .1-.25 .1 .01 .1-.11 .1-.04 .1 .11 .1 .19 .1-.06 .1-.01 .1 .04 .1-.09 .1-.08 .1-.08 .1 .25 .1-.03 .1-.14 .1 .21 .1-.16 .1 .19 .1 .23 .1-.2 .1 .21 .1-.15 .1-.05 .1-.11 .1-0 .1-.2 .1 .11 .1-.08 .1-.03 .1-.08 .1 .33 .1 .12 .1 .05 .1 .05 .1-.19 .1 .09 .1 .15 .1-.15 .1 .12 .1-.07 .1 .13 .1-.15 .1-.04 .1-.08 .1-.2 .1-.04 .1-.27 .1 .15 .1 .05 .1 .43 .1-.33 .1 .11 .1 .02 .1 .06 .1-.08 .1-.13 .1-.13 .1 .01 .1 .05 .1 .14 .1-.34 .1-.09 .1 .2 .1-.15 .1 .22 .1 .04 .1 .21 .1 .15 .1-.16 .1 .19 .1 .01 .1-.16 .1-.27 .1-.09 .1 .11 .1-.22 .1 .25 .1-.09 .1-.11 .1 .26 .1-.06 .1 .4 .1-.24 .1 .25 .1-.21 .1 .16 .1-.29 .1-.14 .1-.03 .1 .06 .1 .04 .1 .09 .1-.36 .1 .09 .1 .26 .1-.03 .1-.17 .1 .18 .1-.34 .1 .32 .1 .12 .1-.4 .1 .15 .1-.05 .1-.17 .1 .23 .1-.1 .1-.34 .1 .31 .1 .12 .1 .08 .1 .12 .1-.13 .1-.05 .1-.27 .1 .32 .1-.38 .1 .31 .1-.07 .1 .37 .1-.41 .1-.06 .1-.02 .1-.21 .1-0 .1 .09 .1 .06 .1-.36 .1 .06 .1 .44 .1 .13 .1-.3 .1 .62 .1-.25 .1 .02 .1-.01 .1 .1 .1 .38 .1-1.06 .1 .12 .1-.07 .1 .05 .1-.2 .1-.09 .1 .29 .1 .93 .1-.53 .1 .61 .1-.52 .1-.22 .1 .05 .1-.09 .1-0 .1 .26 .1 .05 .1 .22 .1-.06 .1-.05 .1-.19 .1 .21 .1-.19 .1-.06 .1-.05 .1-.25 .1 .1 .1-.31 .1 .32 .1-.04 .1-.02 .1 .12 .1-.38 .1 .01 .1-.22 .1 .17 .1 .06 .1 .05 .1 .11 .1 .3 .1-.13 .1 .29 .1 .02 .1 .45 .1-.27 .1-.22 .1-.19 .1-.27 .1 .16 .1-.35 .1 .45 .1-.45 .1 .5 .1-.31 .1 .46 .1 .03 .1-.12 .1-.03 .1 .08 .1-.33 .1 .24 .1 .13 .1 .08 .1-.16 .1-.22 .1-.12 .1-.36 .1 .12 .1 .15 .1 .15 .1 .2 .1-.35 .1-.05 .1 .6 .1-.66 .1 .43 .1-.11 .1-.04 .1 .2 .1 .19 .1-.17 .1 .24 .1-.41 .1 .05 .1-.31 .1 .03 .1 .13 .1-.33 .1-.04 .1 .04 .1 .07 .1 .01 .1 .17 .1-.19 .1 .13 .1-.37 .1 .64 .1 .09 .1-.19 .1 .25 .1-.51 .1 .02 .1 .03 .1-.28 .1 .18 .1 .11 .1 .57 .1-.56 .1 .26 .1-.33 .1-.42 .1 .23 .1-.05 .1 .16 .1 .02 .1 .02 .1 .04 .1 .17 .1 .08 .1 .21 .1-.22 .1-.2 .1 .41 .1-.17 .1-.12 .1-.18 .1 .16 .1 .28 .1-.29 .1 .53 .1-.1 .1-.26 .1-.24 .1-.02 .1-.02 .1-.09 .1 .34 .1-.07 .1 .14 .1-.11 .1-.05 .1 .13 .1 .06 .1-.32 .1-.27 .1 .13 .1-.13 .1 .26 .1 .35 .1-.55 .1 .49 .1-.16 .1 .07 .1-.33 .1 .26 .1 .08 .1-.1 .1 .15 .1-.23 .1 0 .1 .23 .1-.11 .1-.5 .1 .44 .1-.11 .1 .1 .1-.16 .1 .03 .1 .35 .1 .02 .1 .22 .1-.61 .1 .03 .1-0 .1-.08 .1-.12 .1 .34 .1-.11 .1 .1 .1 .03 .1-.25 .1 .17 .1-.22 .1 .42 .1 .08 .1-.11 .1-.19 .1 .15 .1 .12 .1 0 .1-.19 .1 .15 .1 .09 .1 .06 .1-.24 .1-.32 .1 .48 .1 .02 .1-.61 .1 .55 .1 .18 .1-.57 .1 .38 .1-.34 .1-.09 .1-.14 .1-.23 .1 .11 .1 .32 .1-.2 .1 .06 .1 .3 .1-.18 .1 .1 .1 .22 .1-.27 .1 0 .1-.35 .1 .23 .1-.13 .1-.11 .1-.12 .1 .1 .1-.05 .1 .25 .1 .05 .1-.02 .1 .58 .1-.36 .1 .58 .1-.17 .1-.4 .1-.02 .1-.16 .1-.05 .1 .2 .1-.02 .1-.31 .1-.15 .1 .02 .1-.14 .1-.13 .1 .22 .1 0 .1 .1 .1 .18 .1-.3 .1 .28 .1 .23 .1 .11 .1 .29 .1-.08 .1 .1 .1-.07 .1-.22 .1 .38 .1-.73 .1 .09 .1 .02 .1 .49 .1-.37 .1 .37 .1-.35 .1 .04 .1 .36 .1-.41 .1 .25 .1-.52 .1 .03 .1-.04 .1-.08 .1 .14 .1-.26 .1 .48 .1 .02 .1 .13 .1-.23 .1-.02 .1 .06 .1-.03 .1 .08 .1-.05 .1-.4 .1 .3 .1 .03 .1 .26 .1-.07 .1 0 .1-.04 .1-.06 .1-.16 .1-.3 .1 .12 .1 .14 .1-.02 .1-.16 .1-.18 .1 .03 .1 .29 .1-.27 .1 .05 .1 .12 .1-.23 .1 .36 .1 .16 .1 .11 .1-.31 .1 .31 .1 .13 .1-.42 .1-.01 .1-.16 .1 .39 .1-.09 .1 .21 .1-.23 .1-.05 .1-.25 .1-.13 .1 .11 .1-.45 .1 .21 .1-.05 .1 .25 .1-.04 .1-.23 .1-.07 .1 .19 .1-.18 .1-.19 .1 .29 .1 .43 .1-.27 .1 .09 .1 .28 .1 .08 .1-.22 .1 .16 .1-.12 .1 .4 .1-.14 .1 .02 .1-.12 .1-.35 .1-.02 .1 .02 .1-0 .1 .07 .1-.11 .1 .17 .1-0 .1 .09 .1-.31 .1 .17 .1 .23 .1 .3 .1-.2 .1-.02 .1-.24 .1 .02 .1 .09 .1 .14 .1-.26 .1-.1 .1 .31 .1-.12 .1-.24 .1 .56 .1-.17 .1 .16 .1-.29 .1-.39 .1 .27 .1-.44 .1 .57 .1 .2 .1 .01 .1-.12 .1-0 .1-.17 .1 .43 .1-.82 .1 .65 .1-.34 .1 .01 .1-.14 .1 .12 .1 .2 .1-.24 .1 .09 .1 .04 .1-.14 .1 .06 .1-.06 .1-.09 .1 .35 .1-.05 .1-.41 .1 .26 .1 .1 .1 .24 .1-.27 .1-.14 .1 .04 .1-.13 .1 .11 .1-.58 .1 .27 .1-.07 .1-.12 .1 .01 .1 .25 .1 .25 .1-.2 .1-.1 .1 .05 .1 .19 .1 .07 .1-.34 .1 .48 .1-.3 .1-.14 .1 .07 .1 .21 .1 .17 .1-.32 .1 .02 .1-.03 .1 .33 .1-.54 .1 .04 .1-.07 .1 .12 .1 .11 .1 .06 .1 .37 .1-.01 .1-.34 .1-.07 .1 .03 .1-.22 .1 .15 .1 .33 .1 .02 .1-.11 .1 .12 .1-.31 .1 .01 .1 .03 .1 .04 .1-.27 .1 .19 .1-.14 .1 .28 .1 .05 .1-.04 .1-.29 .1 .17 .1-.11 .1-.07 .1 .05 .1-.02 .1 .08 .1-.14 .1 .25 .1 .13 .1-.25 .1-.01 .1 .09 .1 .32 .1-.08 .1-.24 .1 .37 .1 .24 .1-.14 .1 .04 .1-.1 .1 .11 .1 .09 .1-.2 .1 .4 .1-.24 .1-.45 .1-.59 .1-.15 .1 .21 .1 .22 .1 .11 .1-.07 .1-.09 .1 .35 .1 .02 .1-.13 .1-.05 .1 .33 .1-.33 .1-.08 .1 .23 .1-.22 .1 .08 .1 .32 .1-.53 .1 .29 .1-.27 .1 .07 .1 .32 .1-.6 .1 .4 .1-.41 .1 .26 .1-.41 .1 .24 .1-.31 .1 .31 .1 .06 .1-0 .1-.05 .1-.05 .1 .19 .1 .1 .1 .16 .1 .25 .1-.22 .1-.3 .1 .03 .1 .06 .1-.37 .1 .49 .1 .13 .1-.18 .1 .23 .1-.27 .1 .24 .1-.48 .1 .01 .1 .15 .1-.28 .1-.3 .1 .18 .1 .41 .1-.13 .1-.12 .1 .2 .1 .03 .1-.13 .1-.44 .1 .42 .1-.35 .1 .16 .1 .33 .1-.18 .1 .24 .1 .05 .1-.05 .1 .02 .1-.03 .1-.27 .1 .05 .1 .1 .1-.01 .1 .2 .1 .03 .1-.04 .1-.42 .1 .39 .1 .04 .1-.21 .1 .01 .1 .13 .1-.56 .1-.05 .1 .18 .1-.02 .1 .06 .1 .22 .1 0 .1-.08 .1 .13 .1-.19 .1-.41 .1 .44 .1-.07 .1 .71 .1-.43 .1 .01 .1 .36 .1-.05 .1-.07 .1-.51 .1 .34 .1 .09 .1-.06 .1-.28 .1 .2 .1 .19 .1-.38 .1 .24 .1-.31 .1-.2 .1-.01 .1 .27 .1-.26 .1 .16 .1 .19 .1-.26 .1 .23 .1-.25 .1 .21 .1-.24 .1-.12 .1 .05 .1-.28 .1 .32 .1 .01 .1 .21 .1-.1 .1-.23 .1 .31 .1-.35 .1 .21 .1-.39 .1 .36 .1-.28 .1 .35 .1-.21 .1 .01 .1 .01 .1-.4 .1 .24 .1 .17 .1-1.04 .1 .7 .1-.02 .1 0 .1-.34 .1 .91 .1-.16 .1 .02 .1 .26 .1 .12 .1-.75 .1 .21 .1-.99 .1 .35 .1-.03 .1 .05 .1 .3 .1 .29 .1 .15 .1-.43 .1-.02 .1 .07 .1-.09 .1 .55 .1-.22 .1 .01 .1 .43 .1-.25 .1 .01 .1-.31 .1-.15 .1 .13 .1-.25 .1 .87 .1-.25 .1-.19 .1 .38 .1-.45 .1 .08 .1-.46 .1-.24 .1 1.05 .1-.81 .1-.25 .1 .38 .1-.41 .1 .63 .1-.65 .1 .33 .1 .34 .1-.03 .1-.33 .1-.34 .1 .79 .1-.49 .1 .06 .1-.18 .1 .08 .1-.01 .1 .17 .1-.6 .1 .12 .1 .19 .1 .06 .1-.42 .1 .23 .1 .31 .1-.02 .1 .25 .1-.07 .1-.04 .1-.17 .1 .04 .1 .34 .1-.21 .1-.21 .1 .42 .1-.26 .1 .35 .1-.49 .1-0 .1-.09 .1 .3 .1 .37 .1-.03 .1 .37 .1-.86 .1 .12 .1 .23 .1-.68 .1-.01 .1 .19 .1 .26 .1 .15 .1-.16 .1 .56 .1-.16 .1-.59" fill="none" stroke="#ff0000" stroke-width="2.0" stroke-linejoin="round" stroke-linecap="butt" stroke-dasharray="7.03 2.38 2.56 2.56 2.56 2.47" stroke-dashoffset="0"/>
<path d="M101.4,373 L102.7,401 L103.3,426.6 L103.7,448.3 L104,468.9" fill="none" stroke="#00ff00" stroke-width="2"/>
<path d="M113.6,540 L114.3,522.6 L114.9,545" fill="none" stroke="#0000ff" stroke-width="1.4"/>
<path d="M113.4,562 L114.0,546 L114.5,564" fill="none" stroke="#ff0000" stroke-width="1.4"/>
</g>
<g font-family="'Liberation Serif', serif" fill="#000">
<text x="91.1" y="44.9" font-size="20" text-anchor="end" >1.0</text>
<text x="91.1" y="149.2" font-size="20" text-anchor="end" >0.8</text>
<text x="91.1" y="253.5" font-size="20" text-anchor="end" >0.6</text>
<text x="91.1" y="357.9" font-size="20" text-anchor="end" >0.4</text>
<text x="91.3" y="436.4" font-size="22.3" text-anchor="end" >6</text>
<text x="91.3" y="514.7" font-size="22.3" text-anchor="end" >4</text>
<text x="91.3" y="593.0" font-size="22.3" text-anchor="end" >2</text>
<text x="91.3" y="671.7" font-size="22.3" text-anchor="end" >0</text>
<text x="99.7" y="689.9" font-size="20.8" text-anchor="middle" >0</text>
<text x="188.8" y="689.9" font-size="20.8" text-anchor="middle" >200</text>
<text x="277.9" y="689.9" font-size="20.8" text-anchor="middle" >400</text>
<text x="366.9" y="689.9" font-size="20.8" text-anchor="middle" >600</text>
<text x="456.0" y="689.9" font-size="20.8" text-anchor="middle" >800</text>
<text transform="translate(262.5,722.6) scale(0.85,1)" font-size="24">ω</text>
<text x="282.7" y="722.6" font-size="23.8" text-anchor="start" >(meV)</text>
<text x="462.2" y="82.5" font-size="24.4" text-anchor="start" >(a)</text>
<text x="461.3" y="398.4" font-size="24.2" text-anchor="start" >(b)</text>
<text x="152.3" y="307.8" font-size="22"><tspan font-style="italic">T</tspan> = 50 K</text>
<text font-size="26.5" y="90.9"><tspan x="249.3">Ba</tspan><tspan font-size="15.8" x="279.8" dy="11.2">1-x</tspan><tspan x="300.2" dy="-11.2">K</tspan><tspan font-size="15.8" x="319.6" dy="11.2">x</tspan><tspan x="328.6" dy="-11.2">Fe</tspan><tspan font-size="15.8" x="355" dy="11.2">2</tspan><tspan x="363.7" dy="-11.2">As</tspan><tspan font-size="15.8" x="393.5" dy="11.2">2</tspan></text>
<path d="M297.0,400.5 H342.6" stroke="#000080" stroke-width="2.0" stroke-linecap="round" fill="none" stroke-dasharray="6.3 7.3"/>
<text x="347.9" y="407.1" font-size="20.4" text-anchor="start" >x = 0.29</text>
<path d="M297.0,425.5 H338.6" stroke="#00ff00" stroke-width="2.0" stroke-linecap="round" fill="none" stroke-dasharray="7.2 4.1 1.3 4.5"/>
<text x="347.9" y="432.3" font-size="20.4" text-anchor="start" >x = 0.36</text>
<path d="M296.0,450.6 H343.6" stroke="#0000ff" stroke-width="1.8" stroke-linecap="butt" fill="none"/>
<text x="347.9" y="457.5" font-size="20.4" text-anchor="start" >x = 0.40</text>
<path d="M296.0,475.6 H343.6" stroke="#ff0000" stroke-width="2.0" stroke-linecap="butt" fill="none" stroke-dasharray="7.4 2.5 2.7 2.7 2.7 2.6"/>
<text x="347.9" y="482.7" font-size="20.4" text-anchor="start" >x = 0.51</text>
<text transform="translate(44.9,220.3) rotate(-90) translate(0,0) scale(1,1)" font-size="24">R</text>
<text transform="translate(44.9,220.3) rotate(-90) translate(15.6,0.3) scale(0.95,1)" font-size="24.9">(</text>
<text transform="translate(44.9,220.3) rotate(-90) translate(24.3,0.8) scale(0.82,1)" font-size="24">ω</text>
<text transform="translate(44.9,220.3) rotate(-90) translate(37.7,0.3) scale(0.95,1)" font-size="24.9">)</text>
<text transform="translate(52.1,593.0) rotate(-90) translate(0,0) scale(0.97,1)" font-size="24">σ</text>
<text transform="translate(52.1,593.0) rotate(-90) translate(12.4,8.7) scale(1,1)" font-size="14.5">1</text>
<text transform="translate(52.1,593.0) rotate(-90) translate(19.5,0.3) scale(0.95,1)" font-size="24.9">(</text>
<text transform="translate(52.1,593.0) rotate(-90) translate(28.7,0.8) scale(0.82,1)" font-size="24">ω</text>
<text transform="translate(52.1,593.0) rotate(-90) translate(41.9,0.3) scale(0.95,1)" font-size="24.9">)</text>
<text transform="translate(52.1,593.0) rotate(-90) translate(56.2,0.3) scale(0.95,1)" font-size="24.9">(</text>
<text transform="translate(52.1,593.0) rotate(-90) translate(63.3,0) scale(0.93,1)" font-size="24">Ω</text>
<text transform="translate(52.1,593.0) rotate(-90) translate(80.6,-12.4) scale(1,1)" font-size="14.5">−</text>
<text transform="translate(52.1,593.0) rotate(-90) translate(87.3,-13.3) scale(1,1)" font-size="14.5">1</text>
<text transform="translate(52.1,593.0) rotate(-90) translate(94.6,0) scale(0.965,1)" font-size="24">cm</text>
<text transform="translate(52.1,593.0) rotate(-90) translate(123.3,-13.3) scale(1,1)" font-size="14.5">-</text>
<text transform="translate(52.1,593.0) rotate(-90) translate(126.5,-13.3) scale(1,1)" font-size="14.5">1</text>
<text transform="translate(52.1,593.0) rotate(-90) translate(134.4,0.3) scale(0.95,1)" font-size="24.9">)</text>
</g>
</svg>
</body></html>
